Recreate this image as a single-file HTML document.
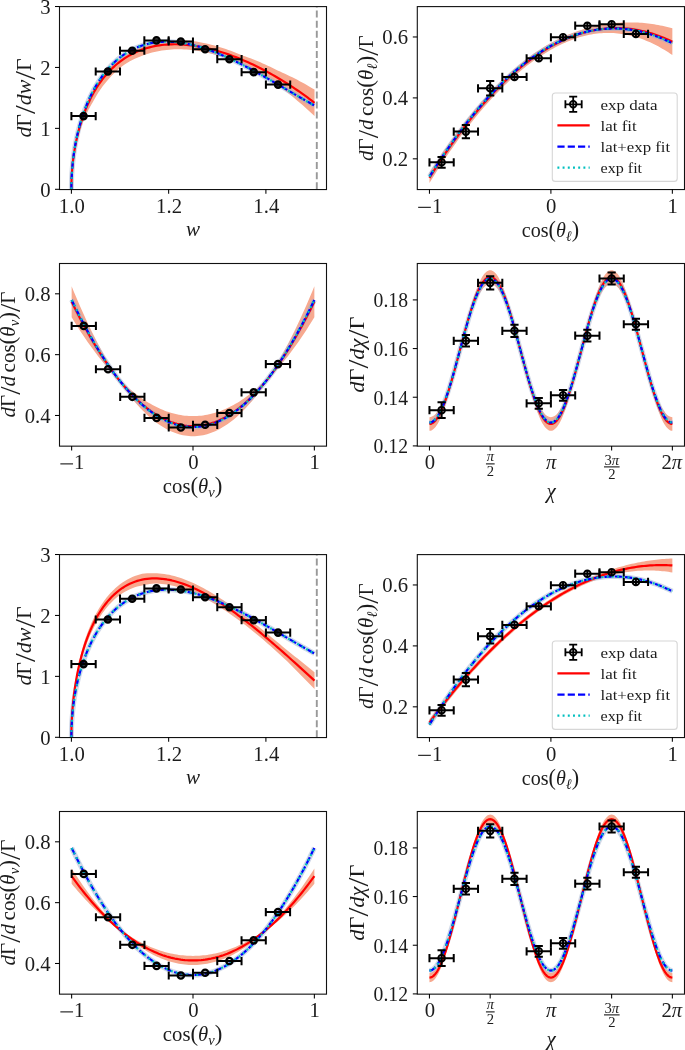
<!DOCTYPE html>
<html><head><meta charset="utf-8"><style>
html,body{margin:0;padding:0;background:#fff;overflow:hidden;width:685px;height:1050px;}
svg{display:block;will-change:transform;}
text{font-family:"Liberation Serif", serif;fill:#1c1c1c;}
</style></head><body>
<svg width="685" height="1050" viewBox="0 0 685 1050" font-family='"Liberation Serif", serif'>
<rect width="685" height="1050" fill="#fff"/>
<defs>
<clipPath id="c0"><rect x="59.5" y="6.5" width="267" height="182.8"/></clipPath>
<clipPath id="c1"><rect x="417.3" y="6.5" width="267.2" height="182.8"/></clipPath>
<clipPath id="c2"><rect x="59.5" y="263.4" width="267" height="182.5"/></clipPath>
<clipPath id="c3"><rect x="417.3" y="263.4" width="267.2" height="182.5"/></clipPath>
<clipPath id="c4"><rect x="59.5" y="554.5" width="267" height="182.8"/></clipPath>
<clipPath id="c5"><rect x="417.3" y="554.5" width="267.2" height="182.8"/></clipPath>
<clipPath id="c6"><rect x="59.5" y="811.4" width="267" height="182.5"/></clipPath>
<clipPath id="c7"><rect x="417.3" y="811.4" width="267.2" height="182.5"/></clipPath>
</defs>
<path d="M71.4,189.3 L71.41,187.33 L71.43,185.37 L71.47,183.42 L71.52,181.5 L71.59,179.59 L71.68,177.69 L71.78,175.82 L71.9,173.96 L72.03,172.12 L72.18,170.3 L72.34,168.5 L72.52,166.72 L72.72,164.95 L72.93,163.21 L73.15,161.49 L73.39,159.79 L73.65,158.11 L73.92,156.45 L74.21,154.81 L74.52,153.2 L74.84,151.61 L75.17,150.04 L75.52,148.49 L75.89,146.97 L76.27,145.47 L76.67,143.69 L77.08,141.91 L77.51,140.15 L77.95,138.41 L78.41,136.67 L78.89,134.96 L79.38,133.25 L79.88,131.56 L80.41,129.89 L80.94,128.23 L81.5,126.58 L82.07,124.95 L82.65,123.34 L83.25,121.75 L83.87,120.17 L84.5,118.61 L85.14,117.06 L85.81,115.54 L86.48,114.03 L87.18,112.54 L87.89,111.07 L88.61,109.62 L89.35,108.18 L90.11,106.77 L90.88,105.38 L91.66,104 L92.47,102.65 L93.29,101.2 L94.12,99.68 L94.97,98.18 L95.83,96.7 L96.71,95.24 L97.61,93.79 L98.52,92.37 L99.45,90.96 L100.39,89.57 L101.35,88.2 L102.32,86.85 L103.31,85.52 L104.32,84.21 L105.34,82.92 L106.37,81.64 L107.43,80.39 L108.49,79.16 L109.58,77.96 L110.68,76.77 L111.79,75.6 L112.92,74.46 L114.06,73.33 L115.23,72.23 L116.4,71.15 L117.59,70.09 L118.8,69.06 L120.02,68.04 L122.49,66.11 L124.95,64.31 L127.41,62.76 L129.87,61.32 L132.34,60 L134.8,58.78 L137.26,57.66 L139.72,56.63 L142.18,55.7 L144.65,54.84 L147.11,54 L149.57,53.24 L152.03,52.56 L154.49,51.95 L156.96,51.41 L159.42,50.93 L161.88,50.52 L164.34,50.17 L166.8,49.89 L169.27,49.66 L171.73,49.48 L174.19,49.36 L176.65,49.3 L179.11,49.28 L181.58,49.31 L184.04,49.4 L186.5,49.52 L188.96,49.7 L191.42,49.92 L193.89,50.2 L196.35,50.58 L198.81,50.99 L201.27,51.44 L203.73,51.93 L206.2,52.46 L208.66,53.03 L211.12,53.63 L213.58,54.27 L216.04,54.95 L218.51,55.66 L220.97,56.4 L223.43,57.18 L225.89,57.99 L228.35,58.83 L230.82,59.7 L233.28,60.61 L235.74,61.54 L238.2,62.51 L240.66,63.51 L243.13,64.66 L245.59,65.93 L248.05,67.22 L250.51,68.54 L252.97,69.89 L255.44,71.27 L257.9,72.68 L260.36,74.12 L262.82,75.59 L265.28,77.08 L267.75,78.61 L270.21,80.16 L272.67,81.74 L275.13,83.35 L277.59,84.98 L280.06,86.81 L282.52,88.7 L284.98,90.62 L287.44,92.57 L289.9,94.55 L292.37,96.56 L294.83,98.59 L297.29,100.66 L299.75,102.75 L302.21,104.87 L304.68,107.02 L307.14,109.21 L309.6,111.42 L312.06,113.66 L314.52,115.93 L314.52,89.61 L312.06,88.13 L309.6,86.68 L307.14,85.25 L304.68,83.86 L302.21,82.5 L299.75,81.17 L297.29,79.86 L294.83,78.59 L292.37,77.34 L289.9,76.13 L287.44,74.94 L284.98,73.78 L282.52,72.65 L280.06,71.55 L277.59,70.44 L275.13,69.19 L272.67,67.98 L270.21,66.79 L267.75,65.64 L265.28,64.51 L262.82,63.41 L260.36,62.33 L257.9,61.29 L255.44,60.28 L252.97,59.29 L250.51,58.34 L248.05,57.41 L245.59,56.51 L243.13,55.64 L240.66,54.73 L238.2,53.72 L235.74,52.73 L233.28,51.78 L230.82,50.86 L228.35,49.97 L225.89,49.12 L223.43,48.29 L220.97,47.5 L218.51,46.74 L216.04,46.02 L213.58,45.33 L211.12,44.68 L208.66,44.06 L206.2,43.48 L203.73,42.93 L201.27,42.43 L198.81,41.96 L196.35,41.53 L193.89,41.14 L191.42,40.85 L188.96,40.64 L186.5,40.47 L184.04,40.34 L181.58,40.26 L179.11,40.23 L176.65,40.25 L174.19,40.32 L171.73,40.44 L169.27,40.62 L166.8,40.85 L164.34,41.14 L161.88,41.5 L159.42,41.91 L156.96,42.39 L154.49,42.93 L152.03,43.55 L149.57,44.23 L147.11,44.99 L144.65,45.84 L142.18,46.68 L139.72,47.6 L137.26,48.61 L134.8,49.72 L132.34,50.92 L129.87,52.23 L127.41,53.65 L124.95,55.19 L122.49,56.79 L120.02,58.53 L118.8,59.44 L117.59,60.38 L116.4,61.34 L115.23,62.33 L114.06,63.34 L112.92,64.37 L111.79,65.43 L110.68,66.5 L109.58,67.6 L108.49,68.72 L107.43,69.87 L106.37,71.04 L105.34,72.22 L104.32,73.43 L103.31,74.66 L102.32,75.92 L101.35,77.19 L100.39,78.48 L99.45,79.79 L98.52,81.13 L97.61,82.48 L96.71,83.85 L95.83,85.25 L94.97,86.66 L94.12,88.09 L93.29,89.54 L92.47,91.05 L91.66,92.62 L90.88,94.22 L90.11,95.83 L89.35,97.46 L88.61,99.1 L87.89,100.76 L87.18,102.43 L86.48,104.12 L85.81,105.82 L85.14,107.53 L84.5,109.26 L83.87,111 L83.25,112.75 L82.65,114.51 L82.07,116.29 L81.5,118.08 L80.94,119.88 L80.41,121.69 L79.88,123.52 L79.38,125.35 L78.89,127.19 L78.41,129.05 L77.95,130.91 L77.51,132.78 L77.08,134.66 L76.67,136.55 L76.27,138.45 L75.89,140.5 L75.52,142.54 L75.17,144.6 L74.84,146.65 L74.52,148.7 L74.21,150.75 L73.92,152.81 L73.65,154.86 L73.39,156.91 L73.15,158.96 L72.93,161.01 L72.72,163.05 L72.52,165.1 L72.34,167.14 L72.18,169.18 L72.03,171.21 L71.9,173.24 L71.78,175.27 L71.68,177.29 L71.59,179.31 L71.52,181.32 L71.47,183.32 L71.43,185.32 L71.41,187.31 L71.4,189.3Z" fill="#f7a98f" stroke="none" clip-path="url(#c0)"/>
<path d="M71.4,189.3 L71.41,187.28 L71.43,185.25 L71.47,183.23 L71.52,181.21 L71.59,179.19 L71.68,177.17 L71.78,175.15 L71.9,173.14 L72.03,171.13 L72.18,169.12 L72.34,167.11 L72.52,165.11 L72.72,163.12 L72.93,161.12 L73.15,159.13 L73.39,157.15 L73.65,155.17 L73.92,153.2 L74.21,151.24 L74.52,149.28 L74.84,147.33 L75.17,145.38 L75.52,143.44 L75.89,141.51 L76.27,139.59 L76.67,137.68 L77.08,135.77 L77.51,133.88 L77.95,131.99 L78.41,130.12 L78.89,128.25 L79.38,126.4 L79.88,124.55 L80.41,122.72 L80.94,120.9 L81.5,119.09 L82.07,117.29 L82.65,115.51 L83.25,113.74 L83.87,111.98 L84.5,110.23 L85.14,108.5 L85.81,106.79 L86.48,105.09 L87.18,103.4 L87.89,101.73 L88.61,100.07 L89.35,98.44 L90.11,96.81 L90.88,95.21 L91.66,93.62 L92.47,92.05 L93.29,90.49 L94.12,88.96 L94.97,87.44 L95.83,85.94 L96.71,84.46 L97.61,83 L98.52,81.56 L99.45,80.14 L100.39,78.74 L101.35,77.37 L102.32,76.01 L103.31,74.67 L104.32,73.36 L105.34,72.07 L106.37,70.8 L107.43,69.55 L108.49,68.33 L109.58,67.13 L110.68,65.95 L111.79,64.8 L112.92,63.67 L114.06,62.57 L115.23,61.49 L116.4,60.44 L117.59,59.41 L118.8,58.41 L120.02,57.43 L122.49,55.58 L124.95,53.88 L127.41,52.32 L129.87,50.88 L132.34,49.58 L134.8,48.39 L137.26,47.31 L139.72,46.34 L142.18,45.47 L144.65,44.7 L147.11,44.03 L149.57,43.45 L152.03,42.95 L154.49,42.54 L156.96,42.22 L159.42,41.96 L161.88,41.79 L164.34,41.69 L166.8,41.65 L169.27,41.69 L171.73,41.79 L174.19,41.96 L176.65,42.18 L179.11,42.47 L181.58,42.81 L184.04,43.2 L186.5,43.65 L188.96,44.16 L191.42,44.71 L193.89,45.31 L196.35,45.95 L198.81,46.65 L201.27,47.38 L203.73,48.16 L206.2,48.97 L208.66,49.83 L211.12,50.72 L213.58,51.65 L216.04,52.62 L218.51,53.61 L220.97,54.64 L223.43,55.7 L225.89,56.79 L228.35,57.91 L230.82,59.05 L233.28,60.22 L235.74,61.42 L238.2,62.64 L240.66,63.88 L243.13,65.14 L245.59,66.41 L248.05,67.71 L250.51,69.03 L252.97,70.36 L255.44,71.7 L257.9,73.06 L260.36,74.44 L262.82,75.82 L265.28,77.21 L267.75,78.62 L270.21,80.03 L272.67,81.45 L275.13,82.87 L277.59,84.3 L280.06,85.73 L282.52,87.17 L284.98,88.61 L287.44,90.04 L289.9,91.48 L292.37,92.91 L294.83,94.34 L297.29,95.77 L299.75,97.19 L302.21,98.61 L304.68,100.02 L307.14,101.42 L309.6,102.81 L312.06,104.19 L314.52,105.56" fill="none" stroke="rgba(160,178,210,0.5)" stroke-width="5.0" clip-path="url(#c0)"/>
<path d="M71.4,189.3 L71.41,187.32 L71.43,185.34 L71.47,183.35 L71.52,181.37 L71.59,179.4 L71.68,177.42 L71.78,175.44 L71.9,173.47 L72.03,171.5 L72.18,169.54 L72.34,167.58 L72.52,165.62 L72.72,163.67 L72.93,161.72 L73.15,159.78 L73.39,157.84 L73.65,155.91 L73.92,153.98 L74.21,152.06 L74.52,150.15 L74.84,148.25 L75.17,146.35 L75.52,144.47 L75.89,142.59 L76.27,140.72 L76.67,138.86 L77.08,137 L77.51,135.16 L77.95,133.33 L78.41,131.51 L78.89,129.7 L79.38,127.9 L79.88,126.11 L80.41,124.34 L80.94,122.58 L81.5,120.83 L82.07,119.09 L82.65,117.36 L83.25,115.65 L83.87,113.96 L84.5,112.28 L85.14,110.61 L85.81,108.95 L86.48,107.32 L87.18,105.69 L87.89,104.09 L88.61,102.5 L89.35,100.92 L90.11,99.36 L90.88,97.82 L91.66,96.3 L92.47,94.79 L93.29,93.3 L94.12,91.83 L94.97,90.38 L95.83,88.95 L96.71,87.53 L97.61,86.13 L98.52,84.76 L99.45,83.4 L100.39,82.06 L101.35,80.74 L102.32,79.45 L103.31,78.17 L104.32,76.91 L105.34,75.68 L106.37,74.46 L107.43,73.27 L108.49,72.1 L109.58,70.95 L110.68,69.82 L111.79,68.71 L112.92,67.63 L114.06,66.57 L115.23,65.53 L116.4,64.51 L117.59,63.52 L118.8,62.55 L120.02,61.6 L122.49,59.8 L124.95,58.13 L127.41,56.59 L129.87,55.17 L132.34,53.85 L134.8,52.64 L137.26,51.53 L139.72,50.52 L142.18,49.59 L144.65,48.75 L147.11,48 L149.57,47.32 L152.03,46.72 L154.49,46.19 L156.96,45.73 L159.42,45.33 L161.88,45 L164.34,44.73 L166.8,44.53 L169.27,44.38 L171.73,44.28 L174.19,44.24 L176.65,44.25 L179.11,44.31 L181.58,44.43 L184.04,44.58 L186.5,44.79 L188.96,45.04 L191.42,45.34 L193.89,45.67 L196.35,46.05 L198.81,46.47 L201.27,46.93 L203.73,47.43 L206.2,47.97 L208.66,48.54 L211.12,49.15 L213.58,49.8 L216.04,50.48 L218.51,51.2 L220.97,51.95 L223.43,52.73 L225.89,53.55 L228.35,54.4 L230.82,55.28 L233.28,56.19 L235.74,57.14 L238.2,58.11 L240.66,59.12 L243.13,60.15 L245.59,61.22 L248.05,62.31 L250.51,63.44 L252.97,64.59 L255.44,65.77 L257.9,66.99 L260.36,68.23 L262.82,69.5 L265.28,70.79 L267.75,72.12 L270.21,73.48 L272.67,74.86 L275.13,76.27 L277.59,77.71 L280.06,79.18 L282.52,80.68 L284.98,82.2 L287.44,83.75 L289.9,85.34 L292.37,86.95 L294.83,88.59 L297.29,90.26 L299.75,91.96 L302.21,93.69 L304.68,95.44 L307.14,97.23 L309.6,99.05 L312.06,100.9 L314.52,102.77" fill="none" stroke="#ff0000" stroke-width="2.2" stroke-linecap="butt" stroke-linejoin="round" clip-path="url(#c0)"/>
<path d="M71.4,189.3 L71.41,187.28 L71.43,185.25 L71.47,183.23 L71.52,181.21 L71.59,179.19 L71.68,177.17 L71.78,175.15 L71.9,173.14 L72.03,171.13 L72.18,169.12 L72.34,167.11 L72.52,165.11 L72.72,163.12 L72.93,161.12 L73.15,159.13 L73.39,157.15 L73.65,155.17 L73.92,153.2 L74.21,151.24 L74.52,149.28 L74.84,147.33 L75.17,145.38 L75.52,143.44 L75.89,141.51 L76.27,139.59 L76.67,137.68 L77.08,135.77 L77.51,133.88 L77.95,131.99 L78.41,130.12 L78.89,128.25 L79.38,126.4 L79.88,124.55 L80.41,122.72 L80.94,120.9 L81.5,119.09 L82.07,117.29 L82.65,115.51 L83.25,113.74 L83.87,111.98 L84.5,110.23 L85.14,108.5 L85.81,106.79 L86.48,105.09 L87.18,103.4 L87.89,101.73 L88.61,100.07 L89.35,98.44 L90.11,96.81 L90.88,95.21 L91.66,93.62 L92.47,92.05 L93.29,90.49 L94.12,88.96 L94.97,87.44 L95.83,85.94 L96.71,84.46 L97.61,83 L98.52,81.56 L99.45,80.14 L100.39,78.74 L101.35,77.37 L102.32,76.01 L103.31,74.67 L104.32,73.36 L105.34,72.07 L106.37,70.8 L107.43,69.55 L108.49,68.33 L109.58,67.13 L110.68,65.95 L111.79,64.8 L112.92,63.67 L114.06,62.57 L115.23,61.49 L116.4,60.44 L117.59,59.41 L118.8,58.41 L120.02,57.43 L122.49,55.58 L124.95,53.88 L127.41,52.32 L129.87,50.88 L132.34,49.58 L134.8,48.39 L137.26,47.31 L139.72,46.34 L142.18,45.47 L144.65,44.7 L147.11,44.03 L149.57,43.45 L152.03,42.95 L154.49,42.54 L156.96,42.22 L159.42,41.96 L161.88,41.79 L164.34,41.69 L166.8,41.65 L169.27,41.69 L171.73,41.79 L174.19,41.96 L176.65,42.18 L179.11,42.47 L181.58,42.81 L184.04,43.2 L186.5,43.65 L188.96,44.16 L191.42,44.71 L193.89,45.31 L196.35,45.95 L198.81,46.65 L201.27,47.38 L203.73,48.16 L206.2,48.97 L208.66,49.83 L211.12,50.72 L213.58,51.65 L216.04,52.62 L218.51,53.61 L220.97,54.64 L223.43,55.7 L225.89,56.79 L228.35,57.91 L230.82,59.05 L233.28,60.22 L235.74,61.42 L238.2,62.64 L240.66,63.88 L243.13,65.14 L245.59,66.41 L248.05,67.71 L250.51,69.03 L252.97,70.36 L255.44,71.7 L257.9,73.06 L260.36,74.44 L262.82,75.82 L265.28,77.21 L267.75,78.62 L270.21,80.03 L272.67,81.45 L275.13,82.87 L277.59,84.3 L280.06,85.73 L282.52,87.17 L284.98,88.61 L287.44,90.04 L289.9,91.48 L292.37,92.91 L294.83,94.34 L297.29,95.77 L299.75,97.19 L302.21,98.61 L304.68,100.02 L307.14,101.42 L309.6,102.81 L312.06,104.19 L314.52,105.56" fill="none" stroke="#0000ff" stroke-width="2.2" stroke-dasharray="7.2,3.1" stroke-linecap="butt" stroke-linejoin="round" clip-path="url(#c0)"/>
<path d="M71.4,189.3 L71.41,187.28 L71.43,185.25 L71.47,183.23 L71.52,181.21 L71.59,179.19 L71.68,177.17 L71.78,175.15 L71.9,173.14 L72.03,171.13 L72.18,169.12 L72.34,167.11 L72.52,165.11 L72.72,163.12 L72.93,161.12 L73.15,159.13 L73.39,157.15 L73.65,155.17 L73.92,153.2 L74.21,151.24 L74.52,149.28 L74.84,147.33 L75.17,145.38 L75.52,143.44 L75.89,141.51 L76.27,139.59 L76.67,137.68 L77.08,135.77 L77.51,133.88 L77.95,131.99 L78.41,130.12 L78.89,128.25 L79.38,126.4 L79.88,124.55 L80.41,122.72 L80.94,120.9 L81.5,119.09 L82.07,117.29 L82.65,115.51 L83.25,113.74 L83.87,111.98 L84.5,110.23 L85.14,108.5 L85.81,106.79 L86.48,105.09 L87.18,103.4 L87.89,101.73 L88.61,100.07 L89.35,98.44 L90.11,96.81 L90.88,95.21 L91.66,93.62 L92.47,92.05 L93.29,90.49 L94.12,88.96 L94.97,87.44 L95.83,85.94 L96.71,84.46 L97.61,83 L98.52,81.56 L99.45,80.14 L100.39,78.74 L101.35,77.37 L102.32,76.01 L103.31,74.67 L104.32,73.36 L105.34,72.07 L106.37,70.8 L107.43,69.55 L108.49,68.33 L109.58,67.13 L110.68,65.95 L111.79,64.8 L112.92,63.67 L114.06,62.57 L115.23,61.49 L116.4,60.44 L117.59,59.41 L118.8,58.41 L120.02,57.43 L122.49,55.58 L124.95,53.88 L127.41,52.32 L129.87,50.88 L132.34,49.58 L134.8,48.39 L137.26,47.31 L139.72,46.34 L142.18,45.47 L144.65,44.7 L147.11,44.03 L149.57,43.45 L152.03,42.95 L154.49,42.54 L156.96,42.22 L159.42,41.96 L161.88,41.79 L164.34,41.69 L166.8,41.65 L169.27,41.69 L171.73,41.79 L174.19,41.96 L176.65,42.18 L179.11,42.47 L181.58,42.81 L184.04,43.2 L186.5,43.65 L188.96,44.16 L191.42,44.71 L193.89,45.31 L196.35,45.95 L198.81,46.65 L201.27,47.38 L203.73,48.16 L206.2,48.97 L208.66,49.83 L211.12,50.72 L213.58,51.65 L216.04,52.62 L218.51,53.61 L220.97,54.64 L223.43,55.7 L225.89,56.79 L228.35,57.91 L230.82,59.05 L233.28,60.22 L235.74,61.42 L238.2,62.64 L240.66,63.88 L243.13,65.14 L245.59,66.41 L248.05,67.71 L250.51,69.03 L252.97,70.36 L255.44,71.7 L257.9,73.06 L260.36,74.44 L262.82,75.82 L265.28,77.21 L267.75,78.62 L270.21,80.03 L272.67,81.45 L275.13,82.87 L277.59,84.3 L280.06,85.73 L282.52,87.17 L284.98,88.61 L287.44,90.04 L289.9,91.48 L292.37,92.91 L294.83,94.34 L297.29,95.77 L299.75,97.19 L302.21,98.61 L304.68,100.02 L307.14,101.42 L309.6,102.81 L312.06,104.19 L314.52,105.56" fill="none" stroke="#00bfbf" stroke-width="2.2" stroke-dasharray="1.95,3.25" stroke-linecap="butt" stroke-linejoin="round" clip-path="url(#c0)"/>
<line x1="316.8" y1="189.3" x2="316.8" y2="6.5" stroke="#999" stroke-width="1.9" stroke-dasharray="7,3.1"/>
<path d="M71.4,116.12H95.71M71.4,112.02V120.22M95.71,112.02V120.22" stroke="#000" stroke-width="2.0" fill="none"/><circle cx="83.56" cy="116.12" r="3.2" fill="rgba(0,0,0,0.72)" stroke="#000" stroke-width="2.2"/>
<path d="M95.71,71.52H120.02M95.71,67.42V75.62M120.02,67.42V75.62" stroke="#000" stroke-width="2.0" fill="none"/><circle cx="107.87" cy="71.52" r="3.2" fill="rgba(0,0,0,0.72)" stroke="#000" stroke-width="2.2"/>
<path d="M120.02,50.68H144.34M120.02,46.58V54.78M144.34,46.58V54.78" stroke="#000" stroke-width="2.0" fill="none"/><circle cx="132.18" cy="50.68" r="3.2" fill="rgba(0,0,0,0.72)" stroke="#000" stroke-width="2.2"/>
<path d="M144.34,40.39H168.65M144.34,36.29V44.49M168.65,36.29V44.49" stroke="#000" stroke-width="2.0" fill="none"/><circle cx="156.49" cy="40.39" r="3.2" fill="rgba(0,0,0,0.72)" stroke="#000" stroke-width="2.2"/>
<path d="M168.65,41.48H192.96M168.65,37.38V45.58M192.96,37.38V45.58" stroke="#000" stroke-width="2.0" fill="none"/><circle cx="180.81" cy="41.48" r="3.2" fill="rgba(0,0,0,0.72)" stroke="#000" stroke-width="2.2"/>
<path d="M192.96,49.22H217.27M192.96,45.12V53.32M217.27,45.12V53.32" stroke="#000" stroke-width="2.0" fill="none"/><circle cx="205.12" cy="49.22" r="3.2" fill="rgba(0,0,0,0.72)" stroke="#000" stroke-width="2.2"/>
<path d="M217.27,59.21H241.59M217.27,55.11V63.31M241.59,55.11V63.31" stroke="#000" stroke-width="2.0" fill="none"/><circle cx="229.43" cy="59.21" r="3.2" fill="rgba(0,0,0,0.72)" stroke="#000" stroke-width="2.2"/>
<path d="M241.59,72.13H265.9M241.59,68.03V76.23M265.9,68.03V76.23" stroke="#000" stroke-width="2.0" fill="none"/><circle cx="253.74" cy="72.13" r="3.2" fill="rgba(0,0,0,0.72)" stroke="#000" stroke-width="2.2"/>
<path d="M265.9,84.62H290.21M265.9,80.52V88.72M290.21,80.52V88.72" stroke="#000" stroke-width="2.0" fill="none"/><circle cx="278.06" cy="84.62" r="3.2" fill="rgba(0,0,0,0.72)" stroke="#000" stroke-width="2.2"/>
<path d="M429.45,182.99 L431.47,179.71 L433.5,176.47 L435.52,173.27 L437.55,170.1 L439.57,166.96 L441.59,163.86 L443.62,160.8 L445.64,157.77 L447.67,154.78 L449.69,151.82 L451.72,148.91 L453.74,146.02 L455.76,143.17 L457.79,140.36 L459.81,137.59 L461.84,134.85 L463.86,132.14 L465.88,129.47 L467.91,126.84 L469.93,124.25 L471.96,121.68 L473.98,119.16 L476.01,116.67 L478.03,114.22 L480.05,111.8 L482.08,109.42 L484.1,107.07 L486.13,104.76 L488.15,102.49 L490.17,100.25 L492.2,98.05 L494.22,95.89 L496.25,93.76 L498.27,91.66 L500.3,89.6 L502.32,87.58 L504.34,85.6 L506.37,83.64 L508.39,81.73 L510.42,79.85 L512.44,78.01 L514.46,76.2 L516.49,74.43 L518.51,72.7 L520.54,71 L522.56,69.33 L524.59,67.7 L526.61,66.11 L528.63,64.56 L530.66,63.04 L532.68,61.55 L534.71,60.11 L536.73,58.69 L538.75,57.32 L540.78,55.98 L542.8,54.67 L544.83,53.4 L546.85,52.17 L548.88,50.97 L550.9,49.81 L552.92,48.69 L554.95,47.6 L556.97,46.54 L559,45.53 L561.02,44.54 L563.04,43.6 L565.07,42.69 L567.09,41.82 L569.12,40.98 L571.14,40.18 L573.17,39.41 L575.19,38.68 L577.21,37.99 L579.24,37.34 L581.26,36.74 L583.29,36.18 L585.31,35.66 L587.34,35.19 L589.36,34.77 L591.38,34.38 L593.41,34.04 L595.43,33.75 L597.46,33.5 L599.48,33.29 L601.5,33.13 L603.53,33.01 L605.55,32.93 L607.58,32.9 L609.6,32.91 L611.62,32.97 L613.65,33.07 L615.67,33.21 L617.7,33.4 L619.72,33.63 L621.75,33.91 L623.77,34.22 L625.79,34.59 L627.82,35 L629.84,35.45 L631.87,35.94 L633.89,36.48 L635.91,37.06 L637.94,37.69 L639.96,38.36 L641.99,39.08 L644.01,39.83 L646.04,40.64 L648.06,41.48 L650.08,42.37 L652.11,43.31 L654.13,44.28 L656.16,45.31 L658.18,46.37 L660.2,47.48 L662.23,48.64 L664.25,49.83 L666.28,51.07 L668.3,52.36 L670.33,53.69 L672.35,55.06 L672.35,28.25 L670.33,27.71 L668.3,27.19 L666.28,26.7 L664.25,26.23 L662.23,25.8 L660.2,25.38 L658.18,25 L656.16,24.64 L654.13,24.31 L652.11,24 L650.08,23.72 L648.06,23.47 L646.04,23.24 L644.01,23.04 L641.99,22.87 L639.96,22.72 L637.94,22.6 L635.91,22.51 L633.89,22.44 L631.87,22.4 L629.84,22.38 L627.82,22.39 L625.79,22.43 L623.77,22.5 L621.75,22.59 L619.72,22.7 L617.7,22.85 L615.67,23.02 L613.65,23.21 L611.62,23.44 L609.6,23.69 L607.58,23.96 L605.55,24.26 L603.53,24.59 L601.5,24.95 L599.48,25.33 L597.46,25.74 L595.43,26.17 L593.41,26.63 L591.38,27.12 L589.36,27.64 L587.34,28.18 L585.31,28.74 L583.29,29.34 L581.26,29.96 L579.24,30.6 L577.21,31.28 L575.19,31.98 L573.17,32.71 L571.14,33.47 L569.12,34.27 L567.09,35.1 L565.07,35.97 L563.04,36.87 L561.02,37.81 L559,38.78 L556.97,39.78 L554.95,40.82 L552.92,41.9 L550.9,43.01 L548.88,44.15 L546.85,45.33 L544.83,46.54 L542.8,47.79 L540.78,49.07 L538.75,50.39 L536.73,51.74 L534.71,53.12 L532.68,54.54 L530.66,55.99 L528.63,57.48 L526.61,59 L524.59,60.56 L522.56,62.15 L520.54,63.78 L518.51,65.44 L516.49,67.13 L514.46,68.86 L512.44,70.63 L510.42,72.43 L508.39,74.26 L506.37,76.13 L504.34,78.03 L502.32,79.96 L500.3,81.94 L498.27,83.94 L496.25,85.98 L494.22,88.06 L492.2,90.16 L490.17,92.31 L488.15,94.48 L486.13,96.7 L484.1,98.94 L482.08,101.22 L480.05,103.54 L478.03,105.89 L476.01,108.27 L473.98,110.69 L471.96,113.15 L469.93,115.64 L467.91,118.16 L465.88,120.71 L463.86,123.31 L461.84,125.93 L459.81,128.59 L457.79,131.29 L455.76,134.02 L453.74,136.78 L451.72,139.58 L449.69,142.41 L447.67,145.28 L445.64,148.18 L443.62,151.12 L441.59,154.09 L439.57,157.09 L437.55,160.13 L435.52,163.21 L433.5,166.31 L431.47,169.46 L429.45,172.63Z" fill="#f7a98f" stroke="none" clip-path="url(#c1)"/>
<path d="M429.45,176.6 L431.47,173.36 L433.5,170.17 L435.52,167.01 L437.55,163.88 L439.57,160.79 L441.59,157.74 L443.62,154.72 L445.64,151.74 L447.67,148.8 L449.69,145.88 L451.72,143.01 L453.74,140.17 L455.76,137.37 L457.79,134.6 L459.81,131.87 L461.84,129.17 L463.86,126.51 L465.88,123.88 L467.91,121.29 L469.93,118.74 L471.96,116.22 L473.98,113.74 L476.01,111.29 L478.03,108.88 L480.05,106.5 L482.08,104.16 L484.1,101.86 L486.13,99.59 L488.15,97.35 L490.17,95.16 L492.2,92.99 L494.22,90.87 L496.25,88.78 L498.27,86.72 L500.3,84.7 L502.32,82.72 L504.34,80.77 L506.37,78.86 L508.39,76.98 L510.42,75.14 L512.44,73.33 L514.46,71.56 L516.49,69.83 L518.51,68.13 L520.54,66.47 L522.56,64.84 L524.59,63.25 L526.61,61.69 L528.63,60.17 L530.66,58.69 L532.68,57.24 L534.71,55.83 L536.73,54.45 L538.75,53.11 L540.78,51.8 L542.8,50.53 L544.83,49.29 L546.85,48.09 L548.88,46.93 L550.9,45.8 L552.92,44.71 L554.95,43.65 L556.97,42.63 L559,41.64 L561.02,40.69 L563.04,39.78 L565.07,38.9 L567.09,38.06 L569.12,37.25 L571.14,36.48 L573.17,35.74 L575.19,35.04 L577.21,34.38 L579.24,33.75 L581.26,33.15 L583.29,32.59 L585.31,32.07 L587.34,31.59 L589.36,31.13 L591.38,30.72 L593.41,30.34 L595.43,30 L597.46,29.69 L599.48,29.41 L601.5,29.18 L603.53,28.98 L605.55,28.81 L607.58,28.68 L609.6,28.58 L611.62,28.53 L613.65,28.5 L615.67,28.51 L617.7,28.56 L619.72,28.65 L621.75,28.77 L623.77,28.92 L625.79,29.11 L627.82,29.34 L629.84,29.6 L631.87,29.9 L633.89,30.23 L635.91,30.6 L637.94,31 L639.96,31.44 L641.99,31.92 L644.01,32.43 L646.04,32.98 L648.06,33.56 L650.08,34.18 L652.11,34.83 L654.13,35.52 L656.16,36.25 L658.18,37.01 L660.2,37.8 L662.23,38.64 L664.25,39.5 L666.28,40.41 L668.3,41.35 L670.33,42.32 L672.35,43.33" fill="none" stroke="rgba(160,178,210,0.5)" stroke-width="5.0" clip-path="url(#c1)"/>
<path d="M429.45,177.81 L431.47,174.59 L433.5,171.39 L435.52,168.24 L437.55,165.11 L439.57,162.03 L441.59,158.97 L443.62,155.96 L445.64,152.98 L447.67,150.03 L449.69,147.12 L451.72,144.24 L453.74,141.4 L455.76,138.6 L457.79,135.82 L459.81,133.09 L461.84,130.39 L463.86,127.72 L465.88,125.09 L467.91,122.5 L469.93,119.94 L471.96,117.42 L473.98,114.93 L476.01,112.47 L478.03,110.05 L480.05,107.67 L482.08,105.32 L484.1,103.01 L486.13,100.73 L488.15,98.49 L490.17,96.28 L492.2,94.11 L494.22,91.97 L496.25,89.87 L498.27,87.8 L500.3,85.77 L502.32,83.77 L504.34,81.81 L506.37,79.89 L508.39,77.99 L510.42,76.14 L512.44,74.32 L514.46,72.53 L516.49,70.78 L518.51,69.07 L520.54,67.39 L522.56,65.74 L524.59,64.13 L526.61,62.56 L528.63,61.02 L530.66,59.52 L532.68,58.05 L534.71,56.61 L536.73,55.21 L538.75,53.85 L540.78,52.52 L542.8,51.23 L544.83,49.97 L546.85,48.75 L548.88,47.56 L550.9,46.41 L552.92,45.29 L554.95,44.21 L556.97,43.16 L559,42.15 L561.02,41.18 L563.04,40.24 L565.07,39.33 L567.09,38.46 L569.12,37.62 L571.14,36.82 L573.17,36.06 L575.19,35.33 L577.21,34.63 L579.24,33.97 L581.26,33.35 L583.29,32.76 L585.31,32.2 L587.34,31.69 L589.36,31.2 L591.38,30.75 L593.41,30.34 L595.43,29.96 L597.46,29.62 L599.48,29.31 L601.5,29.04 L603.53,28.8 L605.55,28.6 L607.58,28.43 L609.6,28.3 L611.62,28.2 L613.65,28.14 L615.67,28.11 L617.7,28.12 L619.72,28.17 L621.75,28.25 L623.77,28.36 L625.79,28.51 L627.82,28.69 L629.84,28.91 L631.87,29.17 L633.89,29.46 L635.91,29.78 L637.94,30.14 L639.96,30.54 L641.99,30.97 L644.01,31.44 L646.04,31.94 L648.06,32.48 L650.08,33.05 L652.11,33.65 L654.13,34.3 L656.16,34.97 L658.18,35.69 L660.2,36.43 L662.23,37.22 L664.25,38.03 L666.28,38.89 L668.3,39.77 L670.33,40.7 L672.35,41.66" fill="none" stroke="#ff0000" stroke-width="2.2" stroke-linecap="butt" stroke-linejoin="round" clip-path="url(#c1)"/>
<path d="M429.45,176.6 L431.47,173.36 L433.5,170.17 L435.52,167.01 L437.55,163.88 L439.57,160.79 L441.59,157.74 L443.62,154.72 L445.64,151.74 L447.67,148.8 L449.69,145.88 L451.72,143.01 L453.74,140.17 L455.76,137.37 L457.79,134.6 L459.81,131.87 L461.84,129.17 L463.86,126.51 L465.88,123.88 L467.91,121.29 L469.93,118.74 L471.96,116.22 L473.98,113.74 L476.01,111.29 L478.03,108.88 L480.05,106.5 L482.08,104.16 L484.1,101.86 L486.13,99.59 L488.15,97.35 L490.17,95.16 L492.2,92.99 L494.22,90.87 L496.25,88.78 L498.27,86.72 L500.3,84.7 L502.32,82.72 L504.34,80.77 L506.37,78.86 L508.39,76.98 L510.42,75.14 L512.44,73.33 L514.46,71.56 L516.49,69.83 L518.51,68.13 L520.54,66.47 L522.56,64.84 L524.59,63.25 L526.61,61.69 L528.63,60.17 L530.66,58.69 L532.68,57.24 L534.71,55.83 L536.73,54.45 L538.75,53.11 L540.78,51.8 L542.8,50.53 L544.83,49.29 L546.85,48.09 L548.88,46.93 L550.9,45.8 L552.92,44.71 L554.95,43.65 L556.97,42.63 L559,41.64 L561.02,40.69 L563.04,39.78 L565.07,38.9 L567.09,38.06 L569.12,37.25 L571.14,36.48 L573.17,35.74 L575.19,35.04 L577.21,34.38 L579.24,33.75 L581.26,33.15 L583.29,32.59 L585.31,32.07 L587.34,31.59 L589.36,31.13 L591.38,30.72 L593.41,30.34 L595.43,30 L597.46,29.69 L599.48,29.41 L601.5,29.18 L603.53,28.98 L605.55,28.81 L607.58,28.68 L609.6,28.58 L611.62,28.53 L613.65,28.5 L615.67,28.51 L617.7,28.56 L619.72,28.65 L621.75,28.77 L623.77,28.92 L625.79,29.11 L627.82,29.34 L629.84,29.6 L631.87,29.9 L633.89,30.23 L635.91,30.6 L637.94,31 L639.96,31.44 L641.99,31.92 L644.01,32.43 L646.04,32.98 L648.06,33.56 L650.08,34.18 L652.11,34.83 L654.13,35.52 L656.16,36.25 L658.18,37.01 L660.2,37.8 L662.23,38.64 L664.25,39.5 L666.28,40.41 L668.3,41.35 L670.33,42.32 L672.35,43.33" fill="none" stroke="#0000ff" stroke-width="2.2" stroke-dasharray="7.2,3.1" stroke-linecap="butt" stroke-linejoin="round" clip-path="url(#c1)"/>
<path d="M429.45,176.6 L431.47,173.36 L433.5,170.17 L435.52,167.01 L437.55,163.88 L439.57,160.79 L441.59,157.74 L443.62,154.72 L445.64,151.74 L447.67,148.8 L449.69,145.88 L451.72,143.01 L453.74,140.17 L455.76,137.37 L457.79,134.6 L459.81,131.87 L461.84,129.17 L463.86,126.51 L465.88,123.88 L467.91,121.29 L469.93,118.74 L471.96,116.22 L473.98,113.74 L476.01,111.29 L478.03,108.88 L480.05,106.5 L482.08,104.16 L484.1,101.86 L486.13,99.59 L488.15,97.35 L490.17,95.16 L492.2,92.99 L494.22,90.87 L496.25,88.78 L498.27,86.72 L500.3,84.7 L502.32,82.72 L504.34,80.77 L506.37,78.86 L508.39,76.98 L510.42,75.14 L512.44,73.33 L514.46,71.56 L516.49,69.83 L518.51,68.13 L520.54,66.47 L522.56,64.84 L524.59,63.25 L526.61,61.69 L528.63,60.17 L530.66,58.69 L532.68,57.24 L534.71,55.83 L536.73,54.45 L538.75,53.11 L540.78,51.8 L542.8,50.53 L544.83,49.29 L546.85,48.09 L548.88,46.93 L550.9,45.8 L552.92,44.71 L554.95,43.65 L556.97,42.63 L559,41.64 L561.02,40.69 L563.04,39.78 L565.07,38.9 L567.09,38.06 L569.12,37.25 L571.14,36.48 L573.17,35.74 L575.19,35.04 L577.21,34.38 L579.24,33.75 L581.26,33.15 L583.29,32.59 L585.31,32.07 L587.34,31.59 L589.36,31.13 L591.38,30.72 L593.41,30.34 L595.43,30 L597.46,29.69 L599.48,29.41 L601.5,29.18 L603.53,28.98 L605.55,28.81 L607.58,28.68 L609.6,28.58 L611.62,28.53 L613.65,28.5 L615.67,28.51 L617.7,28.56 L619.72,28.65 L621.75,28.77 L623.77,28.92 L625.79,29.11 L627.82,29.34 L629.84,29.6 L631.87,29.9 L633.89,30.23 L635.91,30.6 L637.94,31 L639.96,31.44 L641.99,31.92 L644.01,32.43 L646.04,32.98 L648.06,33.56 L650.08,34.18 L652.11,34.83 L654.13,35.52 L656.16,36.25 L658.18,37.01 L660.2,37.8 L662.23,38.64 L664.25,39.5 L666.28,40.41 L668.3,41.35 L670.33,42.32 L672.35,43.33" fill="none" stroke="#00bfbf" stroke-width="2.2" stroke-dasharray="1.95,3.25" stroke-linecap="butt" stroke-linejoin="round" clip-path="url(#c1)"/>
<path d="M429.45,162.31H453.74M429.45,158.21V166.41M453.74,158.21V166.41M441.59,167.64V156.97M437.49,167.64H445.69M437.49,156.97H445.69" stroke="#000" stroke-width="2.0" fill="none"/><circle cx="441.59" cy="162.31" r="3.3" fill="none" stroke="#000" stroke-width="2.0"/>
<path d="M453.74,131.6H478.03M453.74,127.5V135.7M478.03,127.5V135.7M465.88,138.3V124.89M461.78,138.3H469.99M461.78,124.89H469.99" stroke="#000" stroke-width="2.0" fill="none"/><circle cx="465.88" cy="131.6" r="3.3" fill="none" stroke="#000" stroke-width="2.0"/>
<path d="M478.03,88.3H502.32M478.03,84.2V92.4M502.32,84.2V92.4M490.17,95.61V80.99M486.07,95.61H494.27M486.07,80.99H494.27" stroke="#000" stroke-width="2.0" fill="none"/><circle cx="490.17" cy="88.3" r="3.3" fill="none" stroke="#000" stroke-width="2.0"/>
<path d="M502.32,76.88H526.61M502.32,72.78V80.98M526.61,72.78V80.98M514.47,73.58V80.18" stroke="#000" stroke-width="2.0" fill="none"/><circle cx="514.47" cy="76.88" r="3.3" fill="none" stroke="#000" stroke-width="2.0"/>
<path d="M526.61,58.29H550.9M526.61,54.19V62.39M550.9,54.19V62.39M538.75,54.99V61.59" stroke="#000" stroke-width="2.0" fill="none"/><circle cx="538.75" cy="58.29" r="3.3" fill="none" stroke="#000" stroke-width="2.0"/>
<path d="M550.9,37.27H575.19M550.9,33.17V41.37M575.19,33.17V41.37M563.04,33.97V40.57" stroke="#000" stroke-width="2.0" fill="none"/><circle cx="563.04" cy="37.27" r="3.3" fill="none" stroke="#000" stroke-width="2.0"/>
<path d="M575.19,25.69H599.48M575.19,21.59V29.79M599.48,21.59V29.79M587.34,22.39V28.99" stroke="#000" stroke-width="2.0" fill="none"/><circle cx="587.34" cy="25.69" r="3.3" fill="none" stroke="#000" stroke-width="2.0"/>
<path d="M599.48,24.29H623.77M599.48,20.19V28.39M623.77,20.19V28.39M611.62,20.99V27.59" stroke="#000" stroke-width="2.0" fill="none"/><circle cx="611.62" cy="24.29" r="3.3" fill="none" stroke="#000" stroke-width="2.0"/>
<path d="M623.77,33.92H648.06M623.77,29.82V38.02M648.06,29.82V38.02M635.91,30.62V37.22" stroke="#000" stroke-width="2.0" fill="none"/><circle cx="635.91" cy="33.92" r="3.3" fill="none" stroke="#000" stroke-width="2.0"/>
<path d="M71.64,317.24 L73.66,320.54 L75.69,323.8 L77.71,326.99 L79.73,330.13 L81.75,333.22 L83.78,336.25 L85.8,339.22 L87.82,342.14 L89.84,345.01 L91.87,347.81 L93.89,350.57 L95.91,353.26 L97.93,355.9 L99.96,358.49 L101.98,361.02 L104,363.49 L106.03,365.91 L108.05,368.27 L110.07,370.58 L112.09,372.83 L114.12,375.03 L116.14,377.17 L118.16,379.6 L120.18,382.62 L122.21,385.55 L124.23,388.4 L126.25,391.17 L128.27,393.86 L130.3,396.46 L132.32,398.98 L134.34,401.42 L136.37,403.77 L138.39,406.05 L140.41,408.24 L142.43,410.34 L144.46,412.37 L146.48,414.31 L148.5,416.17 L150.52,417.95 L152.55,419.64 L154.57,421.25 L156.59,422.78 L158.61,424.23 L160.64,425.59 L162.66,426.87 L164.68,428.07 L166.71,429.18 L168.73,430.22 L170.75,431.17 L172.77,432.03 L174.8,432.82 L176.82,433.52 L178.84,434.14 L180.86,434.68 L182.89,435.13 L184.91,435.51 L186.93,435.79 L188.95,436 L190.98,436.13 L193,436.17 L195.02,436.13 L197.05,436 L199.07,435.79 L201.09,435.51 L203.11,435.13 L205.14,434.68 L207.16,434.14 L209.18,433.52 L211.2,432.82 L213.23,432.03 L215.25,431.17 L217.27,430.22 L219.29,429.18 L221.32,428.07 L223.34,426.87 L225.36,425.59 L227.39,424.23 L229.41,422.78 L231.43,421.25 L233.45,419.64 L235.48,417.95 L237.5,416.17 L239.52,414.31 L241.54,412.37 L243.57,410.34 L245.59,408.24 L247.61,406.05 L249.63,403.77 L251.66,401.42 L253.68,398.98 L255.7,396.46 L257.73,393.86 L259.75,391.17 L261.77,388.4 L263.79,385.55 L265.82,382.62 L267.84,379.6 L269.86,377.17 L271.88,375.03 L273.91,372.83 L275.93,370.58 L277.95,368.27 L279.97,365.91 L282,363.49 L284.02,361.02 L286.04,358.49 L288.07,355.9 L290.09,353.26 L292.11,350.57 L294.13,347.81 L296.16,345.01 L298.18,342.14 L300.2,339.22 L302.22,336.25 L304.25,333.22 L306.27,330.13 L308.29,326.99 L310.31,323.8 L312.34,320.54 L314.36,317.24 L314.36,286.21 L312.34,291.13 L310.31,295.96 L308.29,300.71 L306.27,305.38 L304.25,309.97 L302.22,314.47 L300.2,318.89 L298.18,323.23 L296.16,327.49 L294.13,331.66 L292.11,335.75 L290.09,339.76 L288.07,343.68 L286.04,347.52 L284.02,351.28 L282,354.96 L279.97,358.56 L277.95,362.07 L275.93,365.5 L273.91,368.84 L271.88,372.11 L269.86,375.29 L267.84,378.04 L265.82,380.07 L263.79,382.04 L261.77,383.96 L259.75,385.82 L257.73,387.63 L255.7,389.38 L253.68,391.07 L251.66,392.71 L249.63,394.3 L247.61,395.83 L245.59,397.3 L243.57,398.72 L241.54,400.08 L239.52,401.39 L237.5,402.64 L235.48,403.83 L233.45,404.97 L231.43,406.06 L229.41,407.08 L227.39,408.06 L225.36,408.98 L223.34,409.84 L221.32,410.64 L219.29,411.39 L217.27,412.09 L215.25,412.73 L213.23,413.31 L211.2,413.84 L209.18,414.31 L207.16,414.73 L205.14,415.09 L203.11,415.4 L201.09,415.65 L199.07,415.84 L197.05,415.98 L195.02,416.06 L193,416.09 L190.98,416.06 L188.95,415.98 L186.93,415.84 L184.91,415.65 L182.89,415.4 L180.86,415.09 L178.84,414.73 L176.82,414.31 L174.8,413.84 L172.77,413.31 L170.75,412.73 L168.73,412.09 L166.71,411.39 L164.68,410.64 L162.66,409.84 L160.64,408.98 L158.61,408.06 L156.59,407.08 L154.57,406.06 L152.55,404.97 L150.52,403.83 L148.5,402.64 L146.48,401.39 L144.46,400.08 L142.43,398.72 L140.41,397.3 L138.39,395.83 L136.37,394.3 L134.34,392.71 L132.32,391.07 L130.3,389.38 L128.27,387.63 L126.25,385.82 L124.23,383.96 L122.21,382.04 L120.18,380.07 L118.16,378.04 L116.14,375.29 L114.12,372.11 L112.09,368.84 L110.07,365.5 L108.05,362.07 L106.03,358.56 L104,354.96 L101.98,351.28 L99.96,347.52 L97.93,343.68 L95.91,339.76 L93.89,335.75 L91.87,331.66 L89.84,327.49 L87.82,323.23 L85.8,318.89 L83.78,314.47 L81.75,309.97 L79.73,305.38 L77.71,300.71 L75.69,295.96 L73.66,291.13 L71.64,286.21Z" fill="#f7a98f" stroke="none" clip-path="url(#c2)"/>
<path d="M71.64,299.9 L73.66,304.1 L75.69,308.23 L77.71,312.29 L79.73,316.29 L81.75,320.21 L83.78,324.06 L85.8,327.83 L87.82,331.54 L89.84,335.18 L91.87,338.75 L93.89,342.24 L95.91,345.67 L97.93,349.03 L99.96,352.31 L101.98,355.52 L104,358.67 L106.03,361.74 L108.05,364.74 L110.07,367.67 L112.09,370.53 L114.12,373.32 L116.14,376.04 L118.16,378.69 L120.18,381.27 L122.21,383.78 L124.23,386.21 L126.25,388.58 L128.27,390.88 L130.3,393.1 L132.32,395.26 L134.34,397.34 L136.37,399.35 L138.39,401.29 L140.41,403.17 L142.43,404.97 L144.46,406.7 L146.48,408.36 L148.5,409.95 L150.52,411.47 L152.55,412.91 L154.57,414.29 L156.59,415.6 L158.61,416.83 L160.64,418 L162.66,419.1 L164.68,420.12 L166.71,421.07 L168.73,421.96 L170.75,422.77 L172.77,423.51 L174.8,424.18 L176.82,424.78 L178.84,425.31 L180.86,425.77 L182.89,426.16 L184.91,426.48 L186.93,426.72 L188.95,426.9 L190.98,427.01 L193,427.04 L195.02,427.01 L197.05,426.9 L199.07,426.72 L201.09,426.48 L203.11,426.16 L205.14,425.77 L207.16,425.31 L209.18,424.78 L211.2,424.18 L213.23,423.51 L215.25,422.77 L217.27,421.96 L219.29,421.07 L221.32,420.12 L223.34,419.1 L225.36,418 L227.39,416.83 L229.41,415.6 L231.43,414.29 L233.45,412.91 L235.48,411.47 L237.5,409.95 L239.52,408.36 L241.54,406.7 L243.57,404.97 L245.59,403.17 L247.61,401.29 L249.63,399.35 L251.66,397.34 L253.68,395.26 L255.7,393.1 L257.73,390.88 L259.75,388.58 L261.77,386.21 L263.79,383.78 L265.82,381.27 L267.84,378.69 L269.86,376.04 L271.88,373.32 L273.91,370.53 L275.93,367.67 L277.95,364.74 L279.97,361.74 L282,358.67 L284.02,355.52 L286.04,352.31 L288.07,349.03 L290.09,345.67 L292.11,342.24 L294.13,338.75 L296.16,335.18 L298.18,331.54 L300.2,327.83 L302.22,324.06 L304.25,320.21 L306.27,316.29 L308.29,312.29 L310.31,308.23 L312.34,304.1 L314.36,299.9" fill="none" stroke="rgba(160,178,210,0.5)" stroke-width="5.0" clip-path="url(#c2)"/>
<path d="M71.64,301.72 L73.66,305.84 L75.69,309.88 L77.71,313.85 L79.73,317.76 L81.75,321.59 L83.78,325.36 L85.8,329.06 L87.82,332.69 L89.84,336.25 L91.87,339.74 L93.89,343.16 L95.91,346.51 L97.93,349.79 L99.96,353.01 L101.98,356.15 L104,359.23 L106.03,362.23 L108.05,365.17 L110.07,368.04 L112.09,370.84 L114.12,373.57 L116.14,376.23 L118.16,378.82 L120.18,381.34 L122.21,383.8 L124.23,386.18 L126.25,388.5 L128.27,390.74 L130.3,392.92 L132.32,395.03 L134.34,397.07 L136.37,399.04 L138.39,400.94 L140.41,402.77 L142.43,404.53 L144.46,406.22 L146.48,407.85 L148.5,409.4 L150.52,410.89 L152.55,412.31 L154.57,413.65 L156.59,414.93 L158.61,416.14 L160.64,417.28 L162.66,418.35 L164.68,419.36 L166.71,420.29 L168.73,421.15 L170.75,421.95 L172.77,422.67 L174.8,423.33 L176.82,423.92 L178.84,424.44 L180.86,424.88 L182.89,425.27 L184.91,425.58 L186.93,425.82 L188.95,425.99 L190.98,426.09 L193,426.13 L195.02,426.09 L197.05,425.99 L199.07,425.82 L201.09,425.58 L203.11,425.27 L205.14,424.88 L207.16,424.44 L209.18,423.92 L211.2,423.33 L213.23,422.67 L215.25,421.95 L217.27,421.15 L219.29,420.29 L221.32,419.36 L223.34,418.35 L225.36,417.28 L227.39,416.14 L229.41,414.93 L231.43,413.65 L233.45,412.31 L235.48,410.89 L237.5,409.4 L239.52,407.85 L241.54,406.22 L243.57,404.53 L245.59,402.77 L247.61,400.94 L249.63,399.04 L251.66,397.07 L253.68,395.03 L255.7,392.92 L257.73,390.74 L259.75,388.5 L261.77,386.18 L263.79,383.8 L265.82,381.34 L267.84,378.82 L269.86,376.23 L271.88,373.57 L273.91,370.84 L275.93,368.04 L277.95,365.17 L279.97,362.23 L282,359.23 L284.02,356.15 L286.04,353.01 L288.07,349.79 L290.09,346.51 L292.11,343.16 L294.13,339.74 L296.16,336.25 L298.18,332.69 L300.2,329.06 L302.22,325.36 L304.25,321.59 L306.27,317.76 L308.29,313.85 L310.31,309.88 L312.34,305.84 L314.36,301.72" fill="none" stroke="#ff0000" stroke-width="2.2" stroke-linecap="butt" stroke-linejoin="round" clip-path="url(#c2)"/>
<path d="M71.64,299.9 L73.66,304.1 L75.69,308.23 L77.71,312.29 L79.73,316.29 L81.75,320.21 L83.78,324.06 L85.8,327.83 L87.82,331.54 L89.84,335.18 L91.87,338.75 L93.89,342.24 L95.91,345.67 L97.93,349.03 L99.96,352.31 L101.98,355.52 L104,358.67 L106.03,361.74 L108.05,364.74 L110.07,367.67 L112.09,370.53 L114.12,373.32 L116.14,376.04 L118.16,378.69 L120.18,381.27 L122.21,383.78 L124.23,386.21 L126.25,388.58 L128.27,390.88 L130.3,393.1 L132.32,395.26 L134.34,397.34 L136.37,399.35 L138.39,401.29 L140.41,403.17 L142.43,404.97 L144.46,406.7 L146.48,408.36 L148.5,409.95 L150.52,411.47 L152.55,412.91 L154.57,414.29 L156.59,415.6 L158.61,416.83 L160.64,418 L162.66,419.1 L164.68,420.12 L166.71,421.07 L168.73,421.96 L170.75,422.77 L172.77,423.51 L174.8,424.18 L176.82,424.78 L178.84,425.31 L180.86,425.77 L182.89,426.16 L184.91,426.48 L186.93,426.72 L188.95,426.9 L190.98,427.01 L193,427.04 L195.02,427.01 L197.05,426.9 L199.07,426.72 L201.09,426.48 L203.11,426.16 L205.14,425.77 L207.16,425.31 L209.18,424.78 L211.2,424.18 L213.23,423.51 L215.25,422.77 L217.27,421.96 L219.29,421.07 L221.32,420.12 L223.34,419.1 L225.36,418 L227.39,416.83 L229.41,415.6 L231.43,414.29 L233.45,412.91 L235.48,411.47 L237.5,409.95 L239.52,408.36 L241.54,406.7 L243.57,404.97 L245.59,403.17 L247.61,401.29 L249.63,399.35 L251.66,397.34 L253.68,395.26 L255.7,393.1 L257.73,390.88 L259.75,388.58 L261.77,386.21 L263.79,383.78 L265.82,381.27 L267.84,378.69 L269.86,376.04 L271.88,373.32 L273.91,370.53 L275.93,367.67 L277.95,364.74 L279.97,361.74 L282,358.67 L284.02,355.52 L286.04,352.31 L288.07,349.03 L290.09,345.67 L292.11,342.24 L294.13,338.75 L296.16,335.18 L298.18,331.54 L300.2,327.83 L302.22,324.06 L304.25,320.21 L306.27,316.29 L308.29,312.29 L310.31,308.23 L312.34,304.1 L314.36,299.9" fill="none" stroke="#0000ff" stroke-width="2.2" stroke-dasharray="7.2,3.1" stroke-linecap="butt" stroke-linejoin="round" clip-path="url(#c2)"/>
<path d="M71.64,299.9 L73.66,304.1 L75.69,308.23 L77.71,312.29 L79.73,316.29 L81.75,320.21 L83.78,324.06 L85.8,327.83 L87.82,331.54 L89.84,335.18 L91.87,338.75 L93.89,342.24 L95.91,345.67 L97.93,349.03 L99.96,352.31 L101.98,355.52 L104,358.67 L106.03,361.74 L108.05,364.74 L110.07,367.67 L112.09,370.53 L114.12,373.32 L116.14,376.04 L118.16,378.69 L120.18,381.27 L122.21,383.78 L124.23,386.21 L126.25,388.58 L128.27,390.88 L130.3,393.1 L132.32,395.26 L134.34,397.34 L136.37,399.35 L138.39,401.29 L140.41,403.17 L142.43,404.97 L144.46,406.7 L146.48,408.36 L148.5,409.95 L150.52,411.47 L152.55,412.91 L154.57,414.29 L156.59,415.6 L158.61,416.83 L160.64,418 L162.66,419.1 L164.68,420.12 L166.71,421.07 L168.73,421.96 L170.75,422.77 L172.77,423.51 L174.8,424.18 L176.82,424.78 L178.84,425.31 L180.86,425.77 L182.89,426.16 L184.91,426.48 L186.93,426.72 L188.95,426.9 L190.98,427.01 L193,427.04 L195.02,427.01 L197.05,426.9 L199.07,426.72 L201.09,426.48 L203.11,426.16 L205.14,425.77 L207.16,425.31 L209.18,424.78 L211.2,424.18 L213.23,423.51 L215.25,422.77 L217.27,421.96 L219.29,421.07 L221.32,420.12 L223.34,419.1 L225.36,418 L227.39,416.83 L229.41,415.6 L231.43,414.29 L233.45,412.91 L235.48,411.47 L237.5,409.95 L239.52,408.36 L241.54,406.7 L243.57,404.97 L245.59,403.17 L247.61,401.29 L249.63,399.35 L251.66,397.34 L253.68,395.26 L255.7,393.1 L257.73,390.88 L259.75,388.58 L261.77,386.21 L263.79,383.78 L265.82,381.27 L267.84,378.69 L269.86,376.04 L271.88,373.32 L273.91,370.53 L275.93,367.67 L277.95,364.74 L279.97,361.74 L282,358.67 L284.02,355.52 L286.04,352.31 L288.07,349.03 L290.09,345.67 L292.11,342.24 L294.13,338.75 L296.16,335.18 L298.18,331.54 L300.2,327.83 L302.22,324.06 L304.25,320.21 L306.27,316.29 L308.29,312.29 L310.31,308.23 L312.34,304.1 L314.36,299.9" fill="none" stroke="#00bfbf" stroke-width="2.2" stroke-dasharray="1.95,3.25" stroke-linecap="butt" stroke-linejoin="round" clip-path="url(#c2)"/>
<path d="M71.64,325.9H95.91M71.64,321.8V330M95.91,321.8V330" stroke="#000" stroke-width="2.0" fill="none"/><circle cx="83.78" cy="325.9" r="3.15" fill="none" stroke="#000" stroke-width="2.35"/>
<path d="M95.91,369.25H120.18M95.91,365.15V373.35M120.18,365.15V373.35" stroke="#000" stroke-width="2.0" fill="none"/><circle cx="108.05" cy="369.25" r="3.15" fill="none" stroke="#000" stroke-width="2.35"/>
<path d="M120.18,396.81H144.46M120.18,392.71V400.91M144.46,392.71V400.91" stroke="#000" stroke-width="2.0" fill="none"/><circle cx="132.32" cy="396.81" r="3.15" fill="none" stroke="#000" stroke-width="2.35"/>
<path d="M144.46,417.92H168.73M144.46,413.82V422.02M168.73,413.82V422.02" stroke="#000" stroke-width="2.0" fill="none"/><circle cx="156.59" cy="417.92" r="3.15" fill="none" stroke="#000" stroke-width="2.35"/>
<path d="M168.73,427.5H193M168.73,423.4V431.6M193,423.4V431.6" stroke="#000" stroke-width="2.0" fill="none"/><circle cx="180.86" cy="427.5" r="3.15" fill="none" stroke="#000" stroke-width="2.35"/>
<path d="M193,424.79H217.27M193,420.69V428.89M217.27,420.69V428.89" stroke="#000" stroke-width="2.0" fill="none"/><circle cx="205.14" cy="424.79" r="3.15" fill="none" stroke="#000" stroke-width="2.35"/>
<path d="M217.27,413.05H241.54M217.27,408.95V417.15M241.54,408.95V417.15" stroke="#000" stroke-width="2.0" fill="none"/><circle cx="229.41" cy="413.05" r="3.15" fill="none" stroke="#000" stroke-width="2.35"/>
<path d="M241.54,392.37H265.82M241.54,388.27V396.47M265.82,388.27V396.47" stroke="#000" stroke-width="2.0" fill="none"/><circle cx="253.68" cy="392.37" r="3.15" fill="none" stroke="#000" stroke-width="2.35"/>
<path d="M265.82,364.08H290.09M265.82,359.98V368.18M290.09,359.98V368.18" stroke="#000" stroke-width="2.0" fill="none"/><circle cx="277.95" cy="364.08" r="3.15" fill="none" stroke="#000" stroke-width="2.35"/>
<path d="M429.45,430.81 L430.46,430.7 L431.47,430.38 L432.49,429.83 L433.5,429.07 L434.51,428.1 L435.52,426.92 L436.53,425.53 L437.55,423.93 L438.56,422.14 L439.57,420.15 L440.58,417.98 L441.6,415.62 L442.61,413.08 L443.62,410.38 L444.63,407.51 L445.64,404.49 L446.66,401.32 L447.67,398.01 L448.68,394.58 L449.69,391.03 L450.7,387.37 L451.72,383.61 L452.73,379.76 L453.74,375.83 L454.75,371.84 L455.77,367.79 L456.78,363.69 L457.79,359.56 L458.8,355.41 L459.81,351.24 L460.83,347.72 L461.84,344.2 L462.85,340.7 L463.86,337.23 L464.87,333.8 L465.89,330.42 L466.9,327.09 L467.91,323.83 L468.92,320.64 L469.93,317.54 L470.95,314.53 L471.96,311.63 L472.97,308.83 L473.98,306.14 L475,303.58 L476.01,301.15 L477.02,298.86 L478.03,296.71 L479.04,294.72 L480.06,292.87 L481.07,291.19 L482.08,289.67 L483.09,288.32 L484.1,287.14 L485.12,286.14 L486.13,285.32 L487.14,284.67 L488.15,284.21 L489.16,283.93 L490.18,283.84 L491.19,283.93 L492.2,284.21 L493.21,284.67 L494.23,285.32 L495.24,286.14 L496.25,287.14 L497.26,288.32 L498.27,289.67 L499.29,291.19 L500.3,292.87 L501.31,294.72 L502.32,296.71 L503.33,298.86 L504.35,301.15 L505.36,303.58 L506.37,306.14 L507.38,308.83 L508.4,311.63 L509.41,314.53 L510.42,317.54 L511.43,320.64 L512.44,323.83 L513.46,327.09 L514.47,330.42 L515.48,333.8 L516.49,337.23 L517.5,340.7 L518.52,344.2 L519.53,347.72 L520.54,351.24 L521.55,355.41 L522.56,359.56 L523.58,363.69 L524.59,367.79 L525.6,371.84 L526.61,375.83 L527.63,379.76 L528.64,383.61 L529.65,387.37 L530.66,391.03 L531.67,394.58 L532.69,398.01 L533.7,401.32 L534.71,404.49 L535.72,407.51 L536.73,410.38 L537.75,413.08 L538.76,415.62 L539.77,417.98 L540.78,420.15 L541.79,422.14 L542.81,423.93 L543.82,425.53 L544.83,426.92 L545.84,428.1 L546.86,429.07 L547.87,429.83 L548.88,430.38 L549.89,430.7 L550.9,430.81 L551.92,430.7 L552.93,430.38 L553.94,429.83 L554.95,429.07 L555.96,428.1 L556.98,426.92 L557.99,425.53 L559,423.93 L560.01,422.14 L561.03,420.15 L562.04,417.98 L563.05,415.62 L564.06,413.08 L565.07,410.38 L566.09,407.51 L567.1,404.49 L568.11,401.32 L569.12,398.01 L570.13,394.58 L571.15,391.03 L572.16,387.37 L573.17,383.61 L574.18,379.76 L575.19,375.83 L576.21,371.84 L577.22,367.79 L578.23,363.69 L579.24,359.56 L580.26,355.41 L581.27,351.24 L582.28,347.72 L583.29,344.2 L584.3,340.7 L585.32,337.23 L586.33,333.8 L587.34,330.42 L588.35,327.09 L589.36,323.83 L590.38,320.64 L591.39,317.54 L592.4,314.53 L593.41,311.63 L594.42,308.83 L595.44,306.14 L596.45,303.58 L597.46,301.15 L598.47,298.86 L599.49,296.71 L600.5,294.72 L601.51,292.87 L602.52,291.19 L603.53,289.67 L604.55,288.32 L605.56,287.14 L606.57,286.14 L607.58,285.32 L608.59,284.67 L609.61,284.21 L610.62,283.93 L611.63,283.84 L612.64,283.93 L613.66,284.21 L614.67,284.67 L615.68,285.32 L616.69,286.14 L617.7,287.14 L618.72,288.32 L619.73,289.67 L620.74,291.19 L621.75,292.87 L622.76,294.72 L623.78,296.71 L624.79,298.86 L625.8,301.15 L626.81,303.58 L627.82,306.14 L628.84,308.83 L629.85,311.63 L630.86,314.53 L631.87,317.54 L632.89,320.64 L633.9,323.83 L634.91,327.09 L635.92,330.42 L636.93,333.8 L637.95,337.23 L638.96,340.7 L639.97,344.2 L640.98,347.72 L641.99,351.24 L643.01,355.41 L644.02,359.56 L645.03,363.69 L646.04,367.79 L647.06,371.84 L648.07,375.83 L649.08,379.76 L650.09,383.61 L651.1,387.37 L652.12,391.03 L653.13,394.58 L654.14,398.01 L655.15,401.32 L656.16,404.49 L657.18,407.51 L658.19,410.38 L659.2,413.08 L660.21,415.62 L661.22,417.98 L662.24,420.15 L663.25,422.14 L664.26,423.93 L665.27,425.53 L666.29,426.92 L667.3,428.1 L668.31,429.07 L669.32,429.83 L670.33,430.38 L671.35,430.7 L672.36,430.81 L672.36,417.19 L671.35,417.09 L670.33,416.82 L669.32,416.36 L668.31,415.71 L667.3,414.89 L666.29,413.89 L665.27,412.71 L664.26,411.36 L663.25,409.84 L662.24,408.16 L661.22,406.31 L660.21,404.31 L659.2,402.17 L658.19,399.87 L657.18,397.45 L656.16,394.89 L655.15,392.2 L654.14,389.4 L653.13,386.49 L652.12,383.49 L651.1,380.38 L650.09,377.2 L649.08,373.94 L648.07,370.61 L647.06,367.23 L646.04,363.8 L645.03,360.33 L644.02,356.83 L643.01,353.31 L641.99,349.78 L640.98,345.62 L639.97,341.47 L638.96,337.34 L637.95,333.24 L636.93,329.19 L635.92,325.2 L634.91,321.27 L633.9,317.42 L632.89,313.66 L631.87,310 L630.86,306.45 L629.85,303.02 L628.84,299.71 L627.82,296.54 L626.81,293.52 L625.8,290.65 L624.79,287.95 L623.78,285.41 L622.76,283.05 L621.75,280.88 L620.74,278.89 L619.73,277.09 L618.72,275.5 L617.7,274.11 L616.69,272.93 L615.68,271.95 L614.67,271.2 L613.66,270.65 L612.64,270.32 L611.63,270.22 L610.62,270.32 L609.61,270.65 L608.59,271.2 L607.58,271.95 L606.57,272.93 L605.56,274.11 L604.55,275.5 L603.53,277.09 L602.52,278.89 L601.51,280.88 L600.5,283.05 L599.49,285.41 L598.47,287.95 L597.46,290.65 L596.45,293.52 L595.44,296.54 L594.42,299.71 L593.41,303.02 L592.4,306.45 L591.39,310 L590.38,313.66 L589.36,317.42 L588.35,321.27 L587.34,325.2 L586.33,329.19 L585.32,333.24 L584.3,337.34 L583.29,341.47 L582.28,345.62 L581.27,349.78 L580.26,353.31 L579.24,356.83 L578.23,360.33 L577.22,363.8 L576.21,367.23 L575.19,370.61 L574.18,373.94 L573.17,377.2 L572.16,380.38 L571.15,383.49 L570.13,386.49 L569.12,389.4 L568.11,392.2 L567.1,394.89 L566.09,397.45 L565.07,399.87 L564.06,402.17 L563.05,404.31 L562.04,406.31 L561.03,408.16 L560.01,409.84 L559,411.36 L557.99,412.71 L556.98,413.89 L555.96,414.89 L554.95,415.71 L553.94,416.36 L552.93,416.82 L551.92,417.09 L550.9,417.19 L549.89,417.09 L548.88,416.82 L547.87,416.36 L546.86,415.71 L545.84,414.89 L544.83,413.89 L543.82,412.71 L542.81,411.36 L541.79,409.84 L540.78,408.16 L539.77,406.31 L538.76,404.31 L537.75,402.17 L536.73,399.87 L535.72,397.45 L534.71,394.89 L533.7,392.2 L532.69,389.4 L531.67,386.49 L530.66,383.49 L529.65,380.38 L528.64,377.2 L527.63,373.94 L526.61,370.61 L525.6,367.23 L524.59,363.8 L523.58,360.33 L522.56,356.83 L521.55,353.31 L520.54,349.78 L519.53,345.62 L518.52,341.47 L517.5,337.34 L516.49,333.24 L515.48,329.19 L514.47,325.2 L513.46,321.27 L512.44,317.42 L511.43,313.66 L510.42,310 L509.41,306.45 L508.4,303.02 L507.38,299.71 L506.37,296.54 L505.36,293.52 L504.35,290.65 L503.33,287.95 L502.32,285.41 L501.31,283.05 L500.3,280.88 L499.29,278.89 L498.27,277.09 L497.26,275.5 L496.25,274.11 L495.24,272.93 L494.23,271.95 L493.21,271.2 L492.2,270.65 L491.19,270.32 L490.18,270.22 L489.16,270.32 L488.15,270.65 L487.14,271.2 L486.13,271.95 L485.12,272.93 L484.1,274.11 L483.09,275.5 L482.08,277.09 L481.07,278.89 L480.06,280.88 L479.04,283.05 L478.03,285.41 L477.02,287.95 L476.01,290.65 L475,293.52 L473.98,296.54 L472.97,299.71 L471.96,303.02 L470.95,306.45 L469.93,310 L468.92,313.66 L467.91,317.42 L466.9,321.27 L465.89,325.2 L464.87,329.19 L463.86,333.24 L462.85,337.34 L461.84,341.47 L460.83,345.62 L459.81,349.78 L458.8,353.31 L457.79,356.83 L456.78,360.33 L455.77,363.8 L454.75,367.23 L453.74,370.61 L452.73,373.94 L451.72,377.2 L450.7,380.38 L449.69,383.49 L448.68,386.49 L447.67,389.4 L446.66,392.2 L445.64,394.89 L444.63,397.45 L443.62,399.87 L442.61,402.17 L441.6,404.31 L440.58,406.31 L439.57,408.16 L438.56,409.84 L437.55,411.36 L436.53,412.71 L435.52,413.89 L434.51,414.89 L433.5,415.71 L432.49,416.36 L431.47,416.82 L430.46,417.09 L429.45,417.19Z" fill="#f7a98f" stroke="none" clip-path="url(#c3)"/>
<path d="M429.45,422.54 L430.46,422.44 L431.47,422.15 L432.49,421.65 L433.5,420.97 L434.51,420.09 L435.52,419.02 L436.53,417.76 L437.55,416.31 L438.56,414.69 L439.57,412.89 L440.58,410.92 L441.6,408.78 L442.61,406.49 L443.62,404.04 L444.63,401.44 L445.64,398.71 L446.66,395.84 L447.67,392.85 L448.68,389.74 L449.69,386.53 L450.7,383.21 L451.72,379.81 L452.73,376.33 L453.74,372.77 L454.75,369.16 L455.77,365.49 L456.78,361.78 L457.79,358.04 L458.8,354.28 L459.81,350.51 L460.83,346.75 L461.84,342.99 L462.85,339.25 L463.86,335.54 L464.87,331.87 L465.89,328.26 L466.9,324.7 L467.91,321.22 L468.92,317.82 L469.93,314.5 L470.95,311.29 L471.96,308.18 L472.97,305.19 L473.98,302.32 L475,299.58 L476.01,296.99 L477.02,294.54 L478.03,292.24 L479.04,290.11 L480.06,288.14 L481.07,286.34 L482.08,284.72 L483.09,283.27 L484.1,282.01 L485.12,280.94 L486.13,280.06 L487.14,279.38 L488.15,278.88 L489.16,278.59 L490.18,278.49 L491.19,278.59 L492.2,278.88 L493.21,279.38 L494.23,280.06 L495.24,280.94 L496.25,282.01 L497.26,283.27 L498.27,284.72 L499.29,286.34 L500.3,288.14 L501.31,290.11 L502.32,292.24 L503.33,294.54 L504.35,296.99 L505.36,299.58 L506.37,302.32 L507.38,305.19 L508.4,308.18 L509.41,311.29 L510.42,314.5 L511.43,317.82 L512.44,321.22 L513.46,324.7 L514.47,328.26 L515.48,331.87 L516.49,335.54 L517.5,339.25 L518.52,342.99 L519.53,346.75 L520.54,350.51 L521.55,354.28 L522.56,358.04 L523.58,361.78 L524.59,365.49 L525.6,369.16 L526.61,372.77 L527.63,376.33 L528.64,379.81 L529.65,383.21 L530.66,386.53 L531.67,389.74 L532.69,392.85 L533.7,395.84 L534.71,398.71 L535.72,401.44 L536.73,404.04 L537.75,406.49 L538.76,408.78 L539.77,410.92 L540.78,412.89 L541.79,414.69 L542.81,416.31 L543.82,417.76 L544.83,419.02 L545.84,420.09 L546.86,420.97 L547.87,421.65 L548.88,422.15 L549.89,422.44 L550.9,422.54 L551.92,422.44 L552.93,422.15 L553.94,421.65 L554.95,420.97 L555.96,420.09 L556.98,419.02 L557.99,417.76 L559,416.31 L560.01,414.69 L561.03,412.89 L562.04,410.92 L563.05,408.78 L564.06,406.49 L565.07,404.04 L566.09,401.44 L567.1,398.71 L568.11,395.84 L569.12,392.85 L570.13,389.74 L571.15,386.53 L572.16,383.21 L573.17,379.81 L574.18,376.33 L575.19,372.77 L576.21,369.16 L577.22,365.49 L578.23,361.78 L579.24,358.04 L580.26,354.28 L581.27,350.51 L582.28,346.75 L583.29,342.99 L584.3,339.25 L585.32,335.54 L586.33,331.87 L587.34,328.26 L588.35,324.7 L589.36,321.22 L590.38,317.82 L591.39,314.5 L592.4,311.29 L593.41,308.18 L594.42,305.19 L595.44,302.32 L596.45,299.58 L597.46,296.99 L598.47,294.54 L599.49,292.24 L600.5,290.11 L601.51,288.14 L602.52,286.34 L603.53,284.72 L604.55,283.27 L605.56,282.01 L606.57,280.94 L607.58,280.06 L608.59,279.38 L609.61,278.88 L610.62,278.59 L611.63,278.49 L612.64,278.59 L613.66,278.88 L614.67,279.38 L615.68,280.06 L616.69,280.94 L617.7,282.01 L618.72,283.27 L619.73,284.72 L620.74,286.34 L621.75,288.14 L622.76,290.11 L623.78,292.24 L624.79,294.54 L625.8,296.99 L626.81,299.58 L627.82,302.32 L628.84,305.19 L629.85,308.18 L630.86,311.29 L631.87,314.5 L632.89,317.82 L633.9,321.22 L634.91,324.7 L635.92,328.26 L636.93,331.87 L637.95,335.54 L638.96,339.25 L639.97,342.99 L640.98,346.75 L641.99,350.51 L643.01,354.28 L644.02,358.04 L645.03,361.78 L646.04,365.49 L647.06,369.16 L648.07,372.77 L649.08,376.33 L650.09,379.81 L651.1,383.21 L652.12,386.53 L653.13,389.74 L654.14,392.85 L655.15,395.84 L656.16,398.71 L657.18,401.44 L658.19,404.04 L659.2,406.49 L660.21,408.78 L661.22,410.92 L662.24,412.89 L663.25,414.69 L664.26,416.31 L665.27,417.76 L666.29,419.02 L667.3,420.09 L668.31,420.97 L669.32,421.65 L670.33,422.15 L671.35,422.44 L672.36,422.54" fill="none" stroke="rgba(160,178,210,0.5)" stroke-width="5.0" clip-path="url(#c3)"/>
<path d="M429.45,424 L430.46,423.9 L431.47,423.6 L432.49,423.1 L433.5,422.39 L434.51,421.5 L435.52,420.4 L436.53,419.12 L437.55,417.65 L438.56,415.99 L439.57,414.16 L440.58,412.14 L441.6,409.97 L442.61,407.62 L443.62,405.13 L444.63,402.48 L445.64,399.69 L446.66,396.76 L447.67,393.71 L448.68,390.54 L449.69,387.26 L450.7,383.88 L451.72,380.4 L452.73,376.85 L453.74,373.22 L454.75,369.53 L455.77,365.79 L456.78,362.01 L457.79,358.2 L458.8,354.36 L459.81,350.51 L460.83,346.67 L461.84,342.83 L462.85,339.02 L463.86,335.24 L464.87,331.5 L465.89,327.81 L466.9,324.18 L467.91,320.63 L468.92,317.15 L469.93,313.77 L470.95,310.49 L471.96,307.32 L472.97,304.27 L473.98,301.34 L475,298.55 L476.01,295.9 L477.02,293.41 L478.03,291.06 L479.04,288.88 L480.06,286.87 L481.07,285.04 L482.08,283.38 L483.09,281.91 L484.1,280.63 L485.12,279.53 L486.13,278.63 L487.14,277.93 L488.15,277.43 L489.16,277.13 L490.18,277.03 L491.19,277.13 L492.2,277.43 L493.21,277.93 L494.23,278.63 L495.24,279.53 L496.25,280.63 L497.26,281.91 L498.27,283.38 L499.29,285.04 L500.3,286.87 L501.31,288.88 L502.32,291.06 L503.33,293.41 L504.35,295.9 L505.36,298.55 L506.37,301.34 L507.38,304.27 L508.4,307.32 L509.41,310.49 L510.42,313.77 L511.43,317.15 L512.44,320.63 L513.46,324.18 L514.47,327.81 L515.48,331.5 L516.49,335.24 L517.5,339.02 L518.52,342.83 L519.53,346.67 L520.54,350.51 L521.55,354.36 L522.56,358.2 L523.58,362.01 L524.59,365.79 L525.6,369.53 L526.61,373.22 L527.63,376.85 L528.64,380.4 L529.65,383.88 L530.66,387.26 L531.67,390.54 L532.69,393.71 L533.7,396.76 L534.71,399.69 L535.72,402.48 L536.73,405.13 L537.75,407.62 L538.76,409.97 L539.77,412.14 L540.78,414.16 L541.79,415.99 L542.81,417.65 L543.82,419.12 L544.83,420.4 L545.84,421.5 L546.86,422.39 L547.87,423.1 L548.88,423.6 L549.89,423.9 L550.9,424 L551.92,423.9 L552.93,423.6 L553.94,423.1 L554.95,422.39 L555.96,421.5 L556.98,420.4 L557.99,419.12 L559,417.65 L560.01,415.99 L561.03,414.16 L562.04,412.14 L563.05,409.97 L564.06,407.62 L565.07,405.13 L566.09,402.48 L567.1,399.69 L568.11,396.76 L569.12,393.71 L570.13,390.54 L571.15,387.26 L572.16,383.88 L573.17,380.4 L574.18,376.85 L575.19,373.22 L576.21,369.53 L577.22,365.79 L578.23,362.01 L579.24,358.2 L580.26,354.36 L581.27,350.51 L582.28,346.67 L583.29,342.83 L584.3,339.02 L585.32,335.24 L586.33,331.5 L587.34,327.81 L588.35,324.18 L589.36,320.63 L590.38,317.15 L591.39,313.77 L592.4,310.49 L593.41,307.32 L594.42,304.27 L595.44,301.34 L596.45,298.55 L597.46,295.9 L598.47,293.41 L599.49,291.06 L600.5,288.88 L601.51,286.87 L602.52,285.04 L603.53,283.38 L604.55,281.91 L605.56,280.63 L606.57,279.53 L607.58,278.63 L608.59,277.93 L609.61,277.43 L610.62,277.13 L611.63,277.03 L612.64,277.13 L613.66,277.43 L614.67,277.93 L615.68,278.63 L616.69,279.53 L617.7,280.63 L618.72,281.91 L619.73,283.38 L620.74,285.04 L621.75,286.87 L622.76,288.88 L623.78,291.06 L624.79,293.41 L625.8,295.9 L626.81,298.55 L627.82,301.34 L628.84,304.27 L629.85,307.32 L630.86,310.49 L631.87,313.77 L632.89,317.15 L633.9,320.63 L634.91,324.18 L635.92,327.81 L636.93,331.5 L637.95,335.24 L638.96,339.02 L639.97,342.83 L640.98,346.67 L641.99,350.51 L643.01,354.36 L644.02,358.2 L645.03,362.01 L646.04,365.79 L647.06,369.53 L648.07,373.22 L649.08,376.85 L650.09,380.4 L651.1,383.88 L652.12,387.26 L653.13,390.54 L654.14,393.71 L655.15,396.76 L656.16,399.69 L657.18,402.48 L658.19,405.13 L659.2,407.62 L660.21,409.97 L661.22,412.14 L662.24,414.16 L663.25,415.99 L664.26,417.65 L665.27,419.12 L666.29,420.4 L667.3,421.5 L668.31,422.39 L669.32,423.1 L670.33,423.6 L671.35,423.9 L672.36,424" fill="none" stroke="#ff0000" stroke-width="2.2" stroke-linecap="butt" stroke-linejoin="round" clip-path="url(#c3)"/>
<path d="M429.45,422.54 L430.46,422.44 L431.47,422.15 L432.49,421.65 L433.5,420.97 L434.51,420.09 L435.52,419.02 L436.53,417.76 L437.55,416.31 L438.56,414.69 L439.57,412.89 L440.58,410.92 L441.6,408.78 L442.61,406.49 L443.62,404.04 L444.63,401.44 L445.64,398.71 L446.66,395.84 L447.67,392.85 L448.68,389.74 L449.69,386.53 L450.7,383.21 L451.72,379.81 L452.73,376.33 L453.74,372.77 L454.75,369.16 L455.77,365.49 L456.78,361.78 L457.79,358.04 L458.8,354.28 L459.81,350.51 L460.83,346.75 L461.84,342.99 L462.85,339.25 L463.86,335.54 L464.87,331.87 L465.89,328.26 L466.9,324.7 L467.91,321.22 L468.92,317.82 L469.93,314.5 L470.95,311.29 L471.96,308.18 L472.97,305.19 L473.98,302.32 L475,299.58 L476.01,296.99 L477.02,294.54 L478.03,292.24 L479.04,290.11 L480.06,288.14 L481.07,286.34 L482.08,284.72 L483.09,283.27 L484.1,282.01 L485.12,280.94 L486.13,280.06 L487.14,279.38 L488.15,278.88 L489.16,278.59 L490.18,278.49 L491.19,278.59 L492.2,278.88 L493.21,279.38 L494.23,280.06 L495.24,280.94 L496.25,282.01 L497.26,283.27 L498.27,284.72 L499.29,286.34 L500.3,288.14 L501.31,290.11 L502.32,292.24 L503.33,294.54 L504.35,296.99 L505.36,299.58 L506.37,302.32 L507.38,305.19 L508.4,308.18 L509.41,311.29 L510.42,314.5 L511.43,317.82 L512.44,321.22 L513.46,324.7 L514.47,328.26 L515.48,331.87 L516.49,335.54 L517.5,339.25 L518.52,342.99 L519.53,346.75 L520.54,350.51 L521.55,354.28 L522.56,358.04 L523.58,361.78 L524.59,365.49 L525.6,369.16 L526.61,372.77 L527.63,376.33 L528.64,379.81 L529.65,383.21 L530.66,386.53 L531.67,389.74 L532.69,392.85 L533.7,395.84 L534.71,398.71 L535.72,401.44 L536.73,404.04 L537.75,406.49 L538.76,408.78 L539.77,410.92 L540.78,412.89 L541.79,414.69 L542.81,416.31 L543.82,417.76 L544.83,419.02 L545.84,420.09 L546.86,420.97 L547.87,421.65 L548.88,422.15 L549.89,422.44 L550.9,422.54 L551.92,422.44 L552.93,422.15 L553.94,421.65 L554.95,420.97 L555.96,420.09 L556.98,419.02 L557.99,417.76 L559,416.31 L560.01,414.69 L561.03,412.89 L562.04,410.92 L563.05,408.78 L564.06,406.49 L565.07,404.04 L566.09,401.44 L567.1,398.71 L568.11,395.84 L569.12,392.85 L570.13,389.74 L571.15,386.53 L572.16,383.21 L573.17,379.81 L574.18,376.33 L575.19,372.77 L576.21,369.16 L577.22,365.49 L578.23,361.78 L579.24,358.04 L580.26,354.28 L581.27,350.51 L582.28,346.75 L583.29,342.99 L584.3,339.25 L585.32,335.54 L586.33,331.87 L587.34,328.26 L588.35,324.7 L589.36,321.22 L590.38,317.82 L591.39,314.5 L592.4,311.29 L593.41,308.18 L594.42,305.19 L595.44,302.32 L596.45,299.58 L597.46,296.99 L598.47,294.54 L599.49,292.24 L600.5,290.11 L601.51,288.14 L602.52,286.34 L603.53,284.72 L604.55,283.27 L605.56,282.01 L606.57,280.94 L607.58,280.06 L608.59,279.38 L609.61,278.88 L610.62,278.59 L611.63,278.49 L612.64,278.59 L613.66,278.88 L614.67,279.38 L615.68,280.06 L616.69,280.94 L617.7,282.01 L618.72,283.27 L619.73,284.72 L620.74,286.34 L621.75,288.14 L622.76,290.11 L623.78,292.24 L624.79,294.54 L625.8,296.99 L626.81,299.58 L627.82,302.32 L628.84,305.19 L629.85,308.18 L630.86,311.29 L631.87,314.5 L632.89,317.82 L633.9,321.22 L634.91,324.7 L635.92,328.26 L636.93,331.87 L637.95,335.54 L638.96,339.25 L639.97,342.99 L640.98,346.75 L641.99,350.51 L643.01,354.28 L644.02,358.04 L645.03,361.78 L646.04,365.49 L647.06,369.16 L648.07,372.77 L649.08,376.33 L650.09,379.81 L651.1,383.21 L652.12,386.53 L653.13,389.74 L654.14,392.85 L655.15,395.84 L656.16,398.71 L657.18,401.44 L658.19,404.04 L659.2,406.49 L660.21,408.78 L661.22,410.92 L662.24,412.89 L663.25,414.69 L664.26,416.31 L665.27,417.76 L666.29,419.02 L667.3,420.09 L668.31,420.97 L669.32,421.65 L670.33,422.15 L671.35,422.44 L672.36,422.54" fill="none" stroke="#0000ff" stroke-width="2.2" stroke-dasharray="7.2,3.1" stroke-linecap="butt" stroke-linejoin="round" clip-path="url(#c3)"/>
<path d="M429.45,422.54 L430.46,422.44 L431.47,422.15 L432.49,421.65 L433.5,420.97 L434.51,420.09 L435.52,419.02 L436.53,417.76 L437.55,416.31 L438.56,414.69 L439.57,412.89 L440.58,410.92 L441.6,408.78 L442.61,406.49 L443.62,404.04 L444.63,401.44 L445.64,398.71 L446.66,395.84 L447.67,392.85 L448.68,389.74 L449.69,386.53 L450.7,383.21 L451.72,379.81 L452.73,376.33 L453.74,372.77 L454.75,369.16 L455.77,365.49 L456.78,361.78 L457.79,358.04 L458.8,354.28 L459.81,350.51 L460.83,346.75 L461.84,342.99 L462.85,339.25 L463.86,335.54 L464.87,331.87 L465.89,328.26 L466.9,324.7 L467.91,321.22 L468.92,317.82 L469.93,314.5 L470.95,311.29 L471.96,308.18 L472.97,305.19 L473.98,302.32 L475,299.58 L476.01,296.99 L477.02,294.54 L478.03,292.24 L479.04,290.11 L480.06,288.14 L481.07,286.34 L482.08,284.72 L483.09,283.27 L484.1,282.01 L485.12,280.94 L486.13,280.06 L487.14,279.38 L488.15,278.88 L489.16,278.59 L490.18,278.49 L491.19,278.59 L492.2,278.88 L493.21,279.38 L494.23,280.06 L495.24,280.94 L496.25,282.01 L497.26,283.27 L498.27,284.72 L499.29,286.34 L500.3,288.14 L501.31,290.11 L502.32,292.24 L503.33,294.54 L504.35,296.99 L505.36,299.58 L506.37,302.32 L507.38,305.19 L508.4,308.18 L509.41,311.29 L510.42,314.5 L511.43,317.82 L512.44,321.22 L513.46,324.7 L514.47,328.26 L515.48,331.87 L516.49,335.54 L517.5,339.25 L518.52,342.99 L519.53,346.75 L520.54,350.51 L521.55,354.28 L522.56,358.04 L523.58,361.78 L524.59,365.49 L525.6,369.16 L526.61,372.77 L527.63,376.33 L528.64,379.81 L529.65,383.21 L530.66,386.53 L531.67,389.74 L532.69,392.85 L533.7,395.84 L534.71,398.71 L535.72,401.44 L536.73,404.04 L537.75,406.49 L538.76,408.78 L539.77,410.92 L540.78,412.89 L541.79,414.69 L542.81,416.31 L543.82,417.76 L544.83,419.02 L545.84,420.09 L546.86,420.97 L547.87,421.65 L548.88,422.15 L549.89,422.44 L550.9,422.54 L551.92,422.44 L552.93,422.15 L553.94,421.65 L554.95,420.97 L555.96,420.09 L556.98,419.02 L557.99,417.76 L559,416.31 L560.01,414.69 L561.03,412.89 L562.04,410.92 L563.05,408.78 L564.06,406.49 L565.07,404.04 L566.09,401.44 L567.1,398.71 L568.11,395.84 L569.12,392.85 L570.13,389.74 L571.15,386.53 L572.16,383.21 L573.17,379.81 L574.18,376.33 L575.19,372.77 L576.21,369.16 L577.22,365.49 L578.23,361.78 L579.24,358.04 L580.26,354.28 L581.27,350.51 L582.28,346.75 L583.29,342.99 L584.3,339.25 L585.32,335.54 L586.33,331.87 L587.34,328.26 L588.35,324.7 L589.36,321.22 L590.38,317.82 L591.39,314.5 L592.4,311.29 L593.41,308.18 L594.42,305.19 L595.44,302.32 L596.45,299.58 L597.46,296.99 L598.47,294.54 L599.49,292.24 L600.5,290.11 L601.51,288.14 L602.52,286.34 L603.53,284.72 L604.55,283.27 L605.56,282.01 L606.57,280.94 L607.58,280.06 L608.59,279.38 L609.61,278.88 L610.62,278.59 L611.63,278.49 L612.64,278.59 L613.66,278.88 L614.67,279.38 L615.68,280.06 L616.69,280.94 L617.7,282.01 L618.72,283.27 L619.73,284.72 L620.74,286.34 L621.75,288.14 L622.76,290.11 L623.78,292.24 L624.79,294.54 L625.8,296.99 L626.81,299.58 L627.82,302.32 L628.84,305.19 L629.85,308.18 L630.86,311.29 L631.87,314.5 L632.89,317.82 L633.9,321.22 L634.91,324.7 L635.92,328.26 L636.93,331.87 L637.95,335.54 L638.96,339.25 L639.97,342.99 L640.98,346.75 L641.99,350.51 L643.01,354.28 L644.02,358.04 L645.03,361.78 L646.04,365.49 L647.06,369.16 L648.07,372.77 L649.08,376.33 L650.09,379.81 L651.1,383.21 L652.12,386.53 L653.13,389.74 L654.14,392.85 L655.15,395.84 L656.16,398.71 L657.18,401.44 L658.19,404.04 L659.2,406.49 L660.21,408.78 L661.22,410.92 L662.24,412.89 L663.25,414.69 L664.26,416.31 L665.27,417.76 L666.29,419.02 L667.3,420.09 L668.31,420.97 L669.32,421.65 L670.33,422.15 L671.35,422.44 L672.36,422.54" fill="none" stroke="#00bfbf" stroke-width="2.2" stroke-dasharray="1.95,3.25" stroke-linecap="butt" stroke-linejoin="round" clip-path="url(#c3)"/>
<path d="M429.45,410.13H453.74M429.45,406.03V414.23M453.74,406.03V414.23M441.6,417.92V402.34M437.5,417.92H445.7M437.5,402.34H445.7" stroke="#000" stroke-width="2.0" fill="none"/><circle cx="441.6" cy="410.13" r="3.3" fill="none" stroke="#000" stroke-width="1.9"/>
<path d="M453.74,340.78H478.03M453.74,336.68V344.88M478.03,336.68V344.88M465.89,346.62V334.94M461.79,346.62H469.99M461.79,334.94H469.99" stroke="#000" stroke-width="2.0" fill="none"/><circle cx="465.89" cy="340.78" r="3.3" fill="none" stroke="#000" stroke-width="1.9"/>
<path d="M478.03,282.87H502.32M478.03,278.77V286.97M502.32,278.77V286.97M490.18,289.44V276.3M486.08,289.44H494.28M486.08,276.3H494.28" stroke="#000" stroke-width="2.0" fill="none"/><circle cx="490.18" cy="282.87" r="3.3" fill="none" stroke="#000" stroke-width="1.9"/>
<path d="M502.32,330.8H526.61M502.32,326.7V334.9M526.61,326.7V334.9M514.47,336.89V324.72M510.37,336.89H518.57M510.37,324.72H518.57" stroke="#000" stroke-width="2.0" fill="none"/><circle cx="514.47" cy="330.8" r="3.3" fill="none" stroke="#000" stroke-width="1.9"/>
<path d="M526.61,403.32H550.9M526.61,399.22V407.42M550.9,399.22V407.42M538.76,408.67V397.96M534.66,408.67H542.86M534.66,397.96H542.86" stroke="#000" stroke-width="2.0" fill="none"/><circle cx="538.76" cy="403.32" r="3.3" fill="none" stroke="#000" stroke-width="1.9"/>
<path d="M550.9,395.29H575.19M550.9,391.19V399.39M575.19,391.19V399.39M563.05,400.64V389.93M558.95,400.64H567.15M558.95,389.93H567.15" stroke="#000" stroke-width="2.0" fill="none"/><circle cx="563.05" cy="395.29" r="3.3" fill="none" stroke="#000" stroke-width="1.9"/>
<path d="M575.19,335.67H599.49M575.19,331.57V339.77M599.49,331.57V339.77M587.34,341.51V329.83M583.24,341.51H591.44M583.24,329.83H591.44" stroke="#000" stroke-width="2.0" fill="none"/><circle cx="587.34" cy="335.67" r="3.3" fill="none" stroke="#000" stroke-width="1.9"/>
<path d="M599.49,278.49H623.78M599.49,274.39V282.59M623.78,274.39V282.59M611.63,284.57V272.41M607.53,284.57H615.73M607.53,272.41H615.73" stroke="#000" stroke-width="2.0" fill="none"/><circle cx="611.63" cy="278.49" r="3.3" fill="none" stroke="#000" stroke-width="1.9"/>
<path d="M623.78,324.23H648.07M623.78,320.13V328.33M648.07,320.13V328.33M635.92,329.83V318.64M631.82,329.83H640.02M631.82,318.64H640.02" stroke="#000" stroke-width="2.0" fill="none"/><circle cx="635.92" cy="324.23" r="3.3" fill="none" stroke="#000" stroke-width="1.9"/>
<rect x="59.5" y="6.6" width="267" height="182.95" fill="none" stroke="#111" stroke-width="1.1"/>
<rect x="417.3" y="6.6" width="267.2" height="182.95" fill="none" stroke="#111" stroke-width="1.1"/>
<rect x="59.5" y="263.5" width="267" height="182.65" fill="none" stroke="#111" stroke-width="1.1"/>
<rect x="417.3" y="263.5" width="267.2" height="182.65" fill="none" stroke="#111" stroke-width="1.1"/>
<line x1="55" y1="189.3" x2="59.5" y2="189.3" stroke="#000" stroke-width="1.05"/>
<text x="50.6" y="196.7" font-size="20.7" text-anchor="end">0</text>
<line x1="55" y1="128.37" x2="59.5" y2="128.37" stroke="#000" stroke-width="1.05"/>
<text x="50.6" y="135.77" font-size="20.7" text-anchor="end">1</text>
<line x1="55" y1="67.44" x2="59.5" y2="67.44" stroke="#000" stroke-width="1.05"/>
<text x="50.6" y="74.84" font-size="20.7" text-anchor="end">2</text>
<line x1="55" y1="6.51" x2="59.5" y2="6.51" stroke="#000" stroke-width="1.05"/>
<text x="50.6" y="13.91" font-size="20.7" text-anchor="end">3</text>
<line x1="71.4" y1="189.3" x2="71.4" y2="193.8" stroke="#000" stroke-width="1.05"/>
<text x="71.8" y="212.6" font-size="20.7" text-anchor="middle">1.0</text>
<line x1="168.65" y1="189.3" x2="168.65" y2="193.8" stroke="#000" stroke-width="1.05"/>
<text x="169.05" y="212.6" font-size="20.7" text-anchor="middle">1.2</text>
<line x1="265.9" y1="189.3" x2="265.9" y2="193.8" stroke="#000" stroke-width="1.05"/>
<text x="266.3" y="212.6" font-size="20.7" text-anchor="middle">1.4</text>
<line x1="412.8" y1="158.83" x2="417.3" y2="158.83" stroke="#000" stroke-width="1.05"/>
<text x="408.2" y="166.23" font-size="20.7" text-anchor="end">0.2</text>
<line x1="412.8" y1="97.9" x2="417.3" y2="97.9" stroke="#000" stroke-width="1.05"/>
<text x="408.2" y="105.3" font-size="20.7" text-anchor="end">0.4</text>
<line x1="412.8" y1="36.97" x2="417.3" y2="36.97" stroke="#000" stroke-width="1.05"/>
<text x="408.2" y="44.37" font-size="20.7" text-anchor="end">0.6</text>
<line x1="55" y1="415.48" x2="59.5" y2="415.48" stroke="#000" stroke-width="1.05"/>
<text x="50.6" y="422.88" font-size="20.7" text-anchor="end">0.4</text>
<line x1="55" y1="354.65" x2="59.5" y2="354.65" stroke="#000" stroke-width="1.05"/>
<text x="50.6" y="362.05" font-size="20.7" text-anchor="end">0.6</text>
<line x1="55" y1="293.81" x2="59.5" y2="293.81" stroke="#000" stroke-width="1.05"/>
<text x="50.6" y="301.21" font-size="20.7" text-anchor="end">0.8</text>
<line x1="412.8" y1="445.9" x2="417.3" y2="445.9" stroke="#000" stroke-width="1.05"/>
<text x="408" y="453.3" font-size="20.7" text-anchor="end" textLength="34.4" lengthAdjust="spacingAndGlyphs">0.12</text>
<line x1="412.8" y1="397.23" x2="417.3" y2="397.23" stroke="#000" stroke-width="1.05"/>
<text x="408" y="404.63" font-size="20.7" text-anchor="end" textLength="34.4" lengthAdjust="spacingAndGlyphs">0.14</text>
<line x1="412.8" y1="348.57" x2="417.3" y2="348.57" stroke="#000" stroke-width="1.05"/>
<text x="408" y="355.97" font-size="20.7" text-anchor="end" textLength="34.4" lengthAdjust="spacingAndGlyphs">0.16</text>
<line x1="412.8" y1="299.9" x2="417.3" y2="299.9" stroke="#000" stroke-width="1.05"/>
<text x="408" y="307.3" font-size="20.7" text-anchor="end" textLength="34.4" lengthAdjust="spacingAndGlyphs">0.18</text>
<line x1="429.45" y1="189.3" x2="429.45" y2="193.8" stroke="#000" stroke-width="1.05"/>
<line x1="550.9" y1="189.3" x2="550.9" y2="193.8" stroke="#000" stroke-width="1.05"/>
<line x1="672.35" y1="189.3" x2="672.35" y2="193.8" stroke="#000" stroke-width="1.05"/>
<rect x="418.15" y="206.8" width="12.7" height="1" fill="#000"/>
<text x="437.05" y="212.6" font-size="20.7" text-anchor="middle">1</text>
<text x="551.2" y="212.6" font-size="20.7" text-anchor="middle">0</text>
<text x="672.65" y="212.6" font-size="20.7" text-anchor="middle">1</text>
<line x1="71.64" y1="445.9" x2="71.64" y2="450.4" stroke="#000" stroke-width="1.05"/>
<line x1="193" y1="445.9" x2="193" y2="450.4" stroke="#000" stroke-width="1.05"/>
<line x1="314.36" y1="445.9" x2="314.36" y2="450.4" stroke="#000" stroke-width="1.05"/>
<rect x="60.34" y="463.4" width="12.7" height="1" fill="#000"/>
<text x="79.24" y="469.2" font-size="20.7" text-anchor="middle">1</text>
<text x="193.3" y="469.2" font-size="20.7" text-anchor="middle">0</text>
<text x="314.66" y="469.2" font-size="20.7" text-anchor="middle">1</text>
<line x1="429.45" y1="445.9" x2="429.45" y2="450.4" stroke="#000" stroke-width="1.05"/>
<line x1="490.18" y1="445.9" x2="490.18" y2="450.4" stroke="#000" stroke-width="1.05"/>
<line x1="550.9" y1="445.9" x2="550.9" y2="450.4" stroke="#000" stroke-width="1.05"/>
<line x1="611.63" y1="445.9" x2="611.63" y2="450.4" stroke="#000" stroke-width="1.05"/>
<line x1="672.36" y1="445.9" x2="672.36" y2="450.4" stroke="#000" stroke-width="1.05"/>
<text x="429.85" y="469.4" font-size="20.7" text-anchor="middle">0</text>
<text x="551.1" y="469.4" font-size="20.7" text-anchor="middle" font-style="italic">π</text>
<text x="671.86" y="469.4" font-size="20.7" text-anchor="middle">2<tspan font-style="italic">π</tspan></text>
<path d="M71.4,737.3 L71.41,734.94 L71.43,732.58 L71.47,730.24 L71.52,727.9 L71.59,725.58 L71.68,723.28 L71.78,720.98 L71.9,718.7 L72.03,716.43 L72.18,714.17 L72.34,711.93 L72.52,709.71 L72.72,707.5 L72.93,705.31 L73.15,703.13 L73.39,700.98 L73.65,698.83 L73.92,696.71 L74.21,694.61 L74.52,692.52 L74.84,690.46 L75.17,688.41 L75.52,686.39 L75.89,684.39 L76.27,682.4 L76.67,680.28 L77.08,678.16 L77.51,676.07 L77.95,673.99 L78.41,671.93 L78.89,669.89 L79.38,667.86 L79.88,665.86 L80.41,663.87 L80.94,661.9 L81.5,659.96 L82.07,658.03 L82.65,656.13 L83.25,654.24 L83.87,652.37 L84.5,650.42 L85.14,648.49 L85.81,646.58 L86.48,644.69 L87.18,642.83 L87.89,640.98 L88.61,639.16 L89.35,637.36 L90.11,635.58 L90.88,633.83 L91.66,632.1 L92.47,630.4 L93.29,628.72 L94.12,627.07 L94.97,625.44 L95.83,623.84 L96.71,622.26 L97.61,620.71 L98.52,619.18 L99.45,617.69 L100.39,616.22 L101.35,614.78 L102.32,613.37 L103.31,611.99 L104.32,610.63 L105.34,609.31 L106.37,608.02 L107.43,606.76 L108.49,605.53 L109.58,604.33 L110.68,603.16 L111.79,602.03 L112.92,600.93 L114.06,599.86 L115.23,598.82 L116.4,597.82 L117.59,596.85 L118.8,595.92 L120.02,595.02 L122.49,593.34 L124.95,591.84 L127.41,590.5 L129.87,589.31 L132.34,588.27 L134.8,587.36 L137.26,586.59 L139.72,585.95 L142.18,585.42 L144.65,584.85 L147.11,584.38 L149.57,584.01 L152.03,583.74 L154.49,583.57 L156.96,583.58 L159.42,583.69 L161.88,583.89 L164.34,584.17 L166.8,584.53 L169.27,584.96 L171.73,585.47 L174.19,586.05 L176.65,586.7 L179.11,587.41 L181.58,588.19 L184.04,589.03 L186.5,589.93 L188.96,590.89 L191.42,591.91 L193.89,592.98 L196.35,594.1 L198.81,595.27 L201.27,596.49 L203.73,597.76 L206.2,599.08 L208.66,600.44 L211.12,601.84 L213.58,603.28 L216.04,604.76 L218.51,606.28 L220.97,607.84 L223.43,609.44 L225.89,611.07 L228.35,612.73 L230.82,614.43 L233.28,616.15 L235.74,617.91 L238.2,619.7 L240.66,621.52 L243.13,623.41 L245.59,625.33 L248.05,627.27 L250.51,629.23 L252.97,631.22 L255.44,633.22 L257.9,635.25 L260.36,637.3 L262.82,639.37 L265.28,641.5 L267.75,643.65 L270.21,645.83 L272.67,648.01 L275.13,650.22 L277.59,652.43 L280.06,654.66 L282.52,656.91 L284.98,659.16 L287.44,661.48 L289.9,663.95 L292.37,666.43 L294.83,668.91 L297.29,671.41 L299.75,673.91 L302.21,676.42 L304.68,678.93 L307.14,681.45 L309.6,683.97 L312.06,686.5 L314.52,689.03 L314.52,672.21 L312.06,670.22 L309.6,668.23 L307.14,666.25 L304.68,664.27 L302.21,662.3 L299.75,660.33 L297.29,658.37 L294.83,656.41 L292.37,654.46 L289.9,652.53 L287.44,650.6 L284.98,648.54 L282.52,646.44 L280.06,644.36 L277.59,642.28 L275.13,640.22 L272.67,638.17 L270.21,636.14 L267.75,634.12 L265.28,632.12 L262.82,630.12 L260.36,628.11 L257.9,626.11 L255.44,624.13 L252.97,622.17 L250.51,620.24 L248.05,618.33 L245.59,616.44 L243.13,614.57 L240.66,612.74 L238.2,610.89 L235.74,609.06 L233.28,607.26 L230.82,605.48 L228.35,603.74 L225.89,602.03 L223.43,600.36 L220.97,598.72 L218.51,597.11 L216.04,595.55 L213.58,594.02 L211.12,592.53 L208.66,591.08 L206.2,589.68 L203.73,588.32 L201.27,587 L198.81,585.73 L196.35,584.52 L193.89,583.35 L191.42,582.23 L188.96,581.17 L186.5,580.17 L184.04,579.22 L181.58,578.33 L179.11,577.51 L176.65,576.75 L174.19,576.05 L171.73,575.43 L169.27,574.87 L166.8,574.39 L164.34,573.99 L161.88,573.67 L159.42,573.43 L156.96,573.27 L154.49,573.2 L152.03,573.13 L149.57,573.15 L147.11,573.27 L144.65,573.5 L142.18,573.85 L139.72,574.48 L137.26,575.22 L134.8,576.09 L132.34,577.09 L129.87,578.23 L127.41,579.51 L124.95,580.95 L122.49,582.55 L120.02,584.33 L118.8,585.28 L117.59,586.26 L116.4,587.27 L115.23,588.32 L114.06,589.41 L112.92,590.52 L111.79,591.67 L110.68,592.85 L109.58,594.06 L108.49,595.3 L107.43,596.57 L106.37,597.87 L105.34,599.2 L104.32,600.57 L103.31,601.96 L102.32,603.38 L101.35,604.83 L100.39,606.31 L99.45,607.81 L98.52,609.35 L97.61,610.91 L96.71,612.5 L95.83,614.11 L94.97,615.75 L94.12,617.42 L93.29,619.12 L92.47,620.84 L91.66,622.58 L90.88,624.35 L90.11,626.14 L89.35,627.95 L88.61,629.78 L87.89,631.64 L87.18,633.52 L86.48,635.42 L85.81,637.34 L85.14,639.29 L84.5,641.25 L83.87,643.23 L83.25,645.33 L82.65,647.45 L82.07,649.59 L81.5,651.75 L80.94,653.92 L80.41,656.1 L79.88,658.3 L79.38,660.51 L78.89,662.73 L78.41,664.97 L77.95,667.21 L77.51,669.47 L77.08,671.74 L76.67,674.02 L76.27,676.31 L75.89,678.76 L75.52,681.23 L75.17,683.69 L74.84,686.15 L74.52,688.62 L74.21,691.08 L73.92,693.55 L73.65,696.01 L73.39,698.48 L73.15,700.94 L72.93,703.4 L72.72,705.85 L72.52,708.3 L72.34,710.75 L72.18,713.2 L72.03,715.64 L71.9,718.07 L71.78,720.5 L71.68,722.92 L71.59,725.34 L71.52,727.75 L71.47,730.15 L71.43,732.54 L71.41,734.93 L71.4,737.3Z" fill="#f7a98f" stroke="none" clip-path="url(#c4)"/>
<path d="M71.4,737.3 L71.41,735.28 L71.43,733.25 L71.47,731.23 L71.52,729.21 L71.59,727.19 L71.68,725.17 L71.78,723.15 L71.9,721.14 L72.03,719.13 L72.18,717.12 L72.34,715.11 L72.52,713.11 L72.72,711.12 L72.93,709.12 L73.15,707.13 L73.39,705.15 L73.65,703.17 L73.92,701.2 L74.21,699.24 L74.52,697.28 L74.84,695.33 L75.17,693.38 L75.52,691.44 L75.89,689.51 L76.27,687.59 L76.67,685.68 L77.08,683.77 L77.51,681.88 L77.95,679.99 L78.41,678.12 L78.89,676.25 L79.38,674.4 L79.88,672.55 L80.41,670.72 L80.94,668.9 L81.5,667.09 L82.07,665.29 L82.65,663.51 L83.25,661.74 L83.87,659.98 L84.5,658.23 L85.14,656.5 L85.81,654.79 L86.48,653.09 L87.18,651.4 L87.89,649.73 L88.61,648.07 L89.35,646.44 L90.11,644.81 L90.88,643.21 L91.66,641.62 L92.47,640.05 L93.29,638.49 L94.12,636.96 L94.97,635.44 L95.83,633.94 L96.71,632.46 L97.61,631 L98.52,629.56 L99.45,628.14 L100.39,626.74 L101.35,625.37 L102.32,624.01 L103.31,622.67 L104.32,621.36 L105.34,620.07 L106.37,618.8 L107.43,617.55 L108.49,616.33 L109.58,615.13 L110.68,613.95 L111.79,612.8 L112.92,611.67 L114.06,610.57 L115.23,609.49 L116.4,608.44 L117.59,607.41 L118.8,606.41 L120.02,605.43 L122.49,603.58 L124.95,601.88 L127.41,600.32 L129.87,598.88 L132.34,597.58 L134.8,596.39 L137.26,595.31 L139.72,594.34 L142.18,593.47 L144.65,592.7 L147.11,592.03 L149.57,591.45 L152.03,590.95 L154.49,590.54 L156.96,590.22 L159.42,589.96 L161.88,589.79 L164.34,589.69 L166.8,589.65 L169.27,589.69 L171.73,589.79 L174.19,589.96 L176.65,590.18 L179.11,590.47 L181.58,590.81 L184.04,591.2 L186.5,591.65 L188.96,592.16 L191.42,592.71 L193.89,593.31 L196.35,593.95 L198.81,594.65 L201.27,595.38 L203.73,596.16 L206.2,596.97 L208.66,597.83 L211.12,598.72 L213.58,599.65 L216.04,600.62 L218.51,601.61 L220.97,602.64 L223.43,603.7 L225.89,604.79 L228.35,605.91 L230.82,607.05 L233.28,608.22 L235.74,609.42 L238.2,610.64 L240.66,611.88 L243.13,613.14 L245.59,614.41 L248.05,615.71 L250.51,617.03 L252.97,618.36 L255.44,619.7 L257.9,621.06 L260.36,622.44 L262.82,623.82 L265.28,625.21 L267.75,626.62 L270.21,628.03 L272.67,629.45 L275.13,630.87 L277.59,632.3 L280.06,633.73 L282.52,635.17 L284.98,636.61 L287.44,638.04 L289.9,639.48 L292.37,640.91 L294.83,642.34 L297.29,643.77 L299.75,645.19 L302.21,646.61 L304.68,648.02 L307.14,649.42 L309.6,650.81 L312.06,652.19 L314.52,653.56" fill="none" stroke="rgba(160,178,210,0.5)" stroke-width="5.0" clip-path="url(#c4)"/>
<path d="M71.4,737.3 L71.41,734.93 L71.43,732.56 L71.47,730.19 L71.52,727.83 L71.59,725.46 L71.68,723.1 L71.78,720.74 L71.9,718.38 L72.03,716.03 L72.18,713.69 L72.34,711.34 L72.52,709.01 L72.72,706.68 L72.93,704.35 L73.15,702.04 L73.39,699.73 L73.65,697.42 L73.92,695.13 L74.21,692.85 L74.52,690.57 L74.84,688.31 L75.17,686.05 L75.52,683.81 L75.89,681.58 L76.27,679.36 L76.67,677.15 L77.08,674.95 L77.51,672.77 L77.95,670.6 L78.41,668.45 L78.89,666.31 L79.38,664.19 L79.88,662.08 L80.41,659.99 L80.94,657.91 L81.5,655.85 L82.07,653.81 L82.65,651.79 L83.25,649.79 L83.87,647.8 L84.5,645.83 L85.14,643.89 L85.81,641.96 L86.48,640.06 L87.18,638.17 L87.89,636.31 L88.61,634.47 L89.35,632.65 L90.11,630.86 L90.88,629.09 L91.66,627.34 L92.47,625.62 L93.29,623.92 L94.12,622.24 L94.97,620.6 L95.83,618.97 L96.71,617.38 L97.61,615.81 L98.52,614.27 L99.45,612.75 L100.39,611.26 L101.35,609.8 L102.32,608.37 L103.31,606.97 L104.32,605.6 L105.34,604.26 L106.37,602.95 L107.43,601.66 L108.49,600.41 L109.58,599.19 L110.68,598.01 L111.79,596.85 L112.92,595.72 L114.06,594.63 L115.23,593.57 L116.4,592.55 L117.59,591.56 L118.8,590.6 L120.02,589.67 L122.49,587.95 L124.95,586.39 L127.41,585 L129.87,583.77 L132.34,582.68 L134.8,581.73 L137.26,580.91 L139.72,580.21 L142.18,579.64 L144.65,579.18 L147.11,578.83 L149.57,578.58 L152.03,578.43 L154.49,578.38 L156.96,578.43 L159.42,578.56 L161.88,578.78 L164.34,579.08 L166.8,579.46 L169.27,579.92 L171.73,580.45 L174.19,581.05 L176.65,581.72 L179.11,582.46 L181.58,583.26 L184.04,584.13 L186.5,585.05 L188.96,586.03 L191.42,587.07 L193.89,588.16 L196.35,589.31 L198.81,590.5 L201.27,591.75 L203.73,593.04 L206.2,594.38 L208.66,595.76 L211.12,597.18 L213.58,598.65 L216.04,600.15 L218.51,601.7 L220.97,603.28 L223.43,604.9 L225.89,606.55 L228.35,608.24 L230.82,609.95 L233.28,611.7 L235.74,613.48 L238.2,615.29 L240.66,617.13 L243.13,618.99 L245.59,620.88 L248.05,622.8 L250.51,624.73 L252.97,626.69 L255.44,628.68 L257.9,630.68 L260.36,632.7 L262.82,634.75 L265.28,636.81 L267.75,638.89 L270.21,640.98 L272.67,643.09 L275.13,645.22 L277.59,647.36 L280.06,649.51 L282.52,651.68 L284.98,653.85 L287.44,656.04 L289.9,658.24 L292.37,660.45 L294.83,662.66 L297.29,664.89 L299.75,667.12 L302.21,669.36 L304.68,671.6 L307.14,673.85 L309.6,676.1 L312.06,678.36 L314.52,680.62" fill="none" stroke="#ff0000" stroke-width="2.2" stroke-linecap="butt" stroke-linejoin="round" clip-path="url(#c4)"/>
<path d="M71.4,737.3 L71.41,735.28 L71.43,733.25 L71.47,731.23 L71.52,729.21 L71.59,727.19 L71.68,725.17 L71.78,723.15 L71.9,721.14 L72.03,719.13 L72.18,717.12 L72.34,715.11 L72.52,713.11 L72.72,711.12 L72.93,709.12 L73.15,707.13 L73.39,705.15 L73.65,703.17 L73.92,701.2 L74.21,699.24 L74.52,697.28 L74.84,695.33 L75.17,693.38 L75.52,691.44 L75.89,689.51 L76.27,687.59 L76.67,685.68 L77.08,683.77 L77.51,681.88 L77.95,679.99 L78.41,678.12 L78.89,676.25 L79.38,674.4 L79.88,672.55 L80.41,670.72 L80.94,668.9 L81.5,667.09 L82.07,665.29 L82.65,663.51 L83.25,661.74 L83.87,659.98 L84.5,658.23 L85.14,656.5 L85.81,654.79 L86.48,653.09 L87.18,651.4 L87.89,649.73 L88.61,648.07 L89.35,646.44 L90.11,644.81 L90.88,643.21 L91.66,641.62 L92.47,640.05 L93.29,638.49 L94.12,636.96 L94.97,635.44 L95.83,633.94 L96.71,632.46 L97.61,631 L98.52,629.56 L99.45,628.14 L100.39,626.74 L101.35,625.37 L102.32,624.01 L103.31,622.67 L104.32,621.36 L105.34,620.07 L106.37,618.8 L107.43,617.55 L108.49,616.33 L109.58,615.13 L110.68,613.95 L111.79,612.8 L112.92,611.67 L114.06,610.57 L115.23,609.49 L116.4,608.44 L117.59,607.41 L118.8,606.41 L120.02,605.43 L122.49,603.58 L124.95,601.88 L127.41,600.32 L129.87,598.88 L132.34,597.58 L134.8,596.39 L137.26,595.31 L139.72,594.34 L142.18,593.47 L144.65,592.7 L147.11,592.03 L149.57,591.45 L152.03,590.95 L154.49,590.54 L156.96,590.22 L159.42,589.96 L161.88,589.79 L164.34,589.69 L166.8,589.65 L169.27,589.69 L171.73,589.79 L174.19,589.96 L176.65,590.18 L179.11,590.47 L181.58,590.81 L184.04,591.2 L186.5,591.65 L188.96,592.16 L191.42,592.71 L193.89,593.31 L196.35,593.95 L198.81,594.65 L201.27,595.38 L203.73,596.16 L206.2,596.97 L208.66,597.83 L211.12,598.72 L213.58,599.65 L216.04,600.62 L218.51,601.61 L220.97,602.64 L223.43,603.7 L225.89,604.79 L228.35,605.91 L230.82,607.05 L233.28,608.22 L235.74,609.42 L238.2,610.64 L240.66,611.88 L243.13,613.14 L245.59,614.41 L248.05,615.71 L250.51,617.03 L252.97,618.36 L255.44,619.7 L257.9,621.06 L260.36,622.44 L262.82,623.82 L265.28,625.21 L267.75,626.62 L270.21,628.03 L272.67,629.45 L275.13,630.87 L277.59,632.3 L280.06,633.73 L282.52,635.17 L284.98,636.61 L287.44,638.04 L289.9,639.48 L292.37,640.91 L294.83,642.34 L297.29,643.77 L299.75,645.19 L302.21,646.61 L304.68,648.02 L307.14,649.42 L309.6,650.81 L312.06,652.19 L314.52,653.56" fill="none" stroke="#0000ff" stroke-width="2.2" stroke-dasharray="7.2,3.1" stroke-linecap="butt" stroke-linejoin="round" clip-path="url(#c4)"/>
<path d="M71.4,737.3 L71.41,735.28 L71.43,733.25 L71.47,731.23 L71.52,729.21 L71.59,727.19 L71.68,725.17 L71.78,723.15 L71.9,721.14 L72.03,719.13 L72.18,717.12 L72.34,715.11 L72.52,713.11 L72.72,711.12 L72.93,709.12 L73.15,707.13 L73.39,705.15 L73.65,703.17 L73.92,701.2 L74.21,699.24 L74.52,697.28 L74.84,695.33 L75.17,693.38 L75.52,691.44 L75.89,689.51 L76.27,687.59 L76.67,685.68 L77.08,683.77 L77.51,681.88 L77.95,679.99 L78.41,678.12 L78.89,676.25 L79.38,674.4 L79.88,672.55 L80.41,670.72 L80.94,668.9 L81.5,667.09 L82.07,665.29 L82.65,663.51 L83.25,661.74 L83.87,659.98 L84.5,658.23 L85.14,656.5 L85.81,654.79 L86.48,653.09 L87.18,651.4 L87.89,649.73 L88.61,648.07 L89.35,646.44 L90.11,644.81 L90.88,643.21 L91.66,641.62 L92.47,640.05 L93.29,638.49 L94.12,636.96 L94.97,635.44 L95.83,633.94 L96.71,632.46 L97.61,631 L98.52,629.56 L99.45,628.14 L100.39,626.74 L101.35,625.37 L102.32,624.01 L103.31,622.67 L104.32,621.36 L105.34,620.07 L106.37,618.8 L107.43,617.55 L108.49,616.33 L109.58,615.13 L110.68,613.95 L111.79,612.8 L112.92,611.67 L114.06,610.57 L115.23,609.49 L116.4,608.44 L117.59,607.41 L118.8,606.41 L120.02,605.43 L122.49,603.58 L124.95,601.88 L127.41,600.32 L129.87,598.88 L132.34,597.58 L134.8,596.39 L137.26,595.31 L139.72,594.34 L142.18,593.47 L144.65,592.7 L147.11,592.03 L149.57,591.45 L152.03,590.95 L154.49,590.54 L156.96,590.22 L159.42,589.96 L161.88,589.79 L164.34,589.69 L166.8,589.65 L169.27,589.69 L171.73,589.79 L174.19,589.96 L176.65,590.18 L179.11,590.47 L181.58,590.81 L184.04,591.2 L186.5,591.65 L188.96,592.16 L191.42,592.71 L193.89,593.31 L196.35,593.95 L198.81,594.65 L201.27,595.38 L203.73,596.16 L206.2,596.97 L208.66,597.83 L211.12,598.72 L213.58,599.65 L216.04,600.62 L218.51,601.61 L220.97,602.64 L223.43,603.7 L225.89,604.79 L228.35,605.91 L230.82,607.05 L233.28,608.22 L235.74,609.42 L238.2,610.64 L240.66,611.88 L243.13,613.14 L245.59,614.41 L248.05,615.71 L250.51,617.03 L252.97,618.36 L255.44,619.7 L257.9,621.06 L260.36,622.44 L262.82,623.82 L265.28,625.21 L267.75,626.62 L270.21,628.03 L272.67,629.45 L275.13,630.87 L277.59,632.3 L280.06,633.73 L282.52,635.17 L284.98,636.61 L287.44,638.04 L289.9,639.48 L292.37,640.91 L294.83,642.34 L297.29,643.77 L299.75,645.19 L302.21,646.61 L304.68,648.02 L307.14,649.42 L309.6,650.81 L312.06,652.19 L314.52,653.56" fill="none" stroke="#00bfbf" stroke-width="2.2" stroke-dasharray="1.95,3.25" stroke-linecap="butt" stroke-linejoin="round" clip-path="url(#c4)"/>
<line x1="316.8" y1="737.3" x2="316.8" y2="554.5" stroke="#999" stroke-width="1.9" stroke-dasharray="7,3.1"/>
<path d="M71.4,664.12H95.71M71.4,660.02V668.22M95.71,660.02V668.22" stroke="#000" stroke-width="2.0" fill="none"/><circle cx="83.56" cy="664.12" r="3.2" fill="rgba(0,0,0,0.72)" stroke="#000" stroke-width="2.2"/>
<path d="M95.71,619.52H120.02M95.71,615.42V623.62M120.02,615.42V623.62" stroke="#000" stroke-width="2.0" fill="none"/><circle cx="107.87" cy="619.52" r="3.2" fill="rgba(0,0,0,0.72)" stroke="#000" stroke-width="2.2"/>
<path d="M120.02,598.68H144.34M120.02,594.58V602.78M144.34,594.58V602.78" stroke="#000" stroke-width="2.0" fill="none"/><circle cx="132.18" cy="598.68" r="3.2" fill="rgba(0,0,0,0.72)" stroke="#000" stroke-width="2.2"/>
<path d="M144.34,588.39H168.65M144.34,584.29V592.49M168.65,584.29V592.49" stroke="#000" stroke-width="2.0" fill="none"/><circle cx="156.49" cy="588.39" r="3.2" fill="rgba(0,0,0,0.72)" stroke="#000" stroke-width="2.2"/>
<path d="M168.65,589.48H192.96M168.65,585.38V593.58M192.96,585.38V593.58" stroke="#000" stroke-width="2.0" fill="none"/><circle cx="180.81" cy="589.48" r="3.2" fill="rgba(0,0,0,0.72)" stroke="#000" stroke-width="2.2"/>
<path d="M192.96,597.22H217.27M192.96,593.12V601.32M217.27,593.12V601.32" stroke="#000" stroke-width="2.0" fill="none"/><circle cx="205.12" cy="597.22" r="3.2" fill="rgba(0,0,0,0.72)" stroke="#000" stroke-width="2.2"/>
<path d="M217.27,607.21H241.59M217.27,603.11V611.31M241.59,603.11V611.31" stroke="#000" stroke-width="2.0" fill="none"/><circle cx="229.43" cy="607.21" r="3.2" fill="rgba(0,0,0,0.72)" stroke="#000" stroke-width="2.2"/>
<path d="M241.59,620.13H265.9M241.59,616.03V624.23M265.9,616.03V624.23" stroke="#000" stroke-width="2.0" fill="none"/><circle cx="253.74" cy="620.13" r="3.2" fill="rgba(0,0,0,0.72)" stroke="#000" stroke-width="2.2"/>
<path d="M265.9,632.62H290.21M265.9,628.52V636.72M290.21,628.52V636.72" stroke="#000" stroke-width="2.0" fill="none"/><circle cx="278.06" cy="632.62" r="3.2" fill="rgba(0,0,0,0.72)" stroke="#000" stroke-width="2.2"/>
<path d="M429.45,725.94 L431.47,723.16 L433.5,720.42 L435.52,717.69 L437.55,715 L439.57,712.32 L441.59,709.67 L443.62,707.05 L445.64,704.45 L447.67,701.87 L449.69,699.32 L451.72,696.8 L453.74,694.29 L455.76,691.82 L457.79,689.36 L459.81,686.93 L461.84,684.53 L463.86,682.15 L465.88,679.79 L467.91,677.46 L469.93,675.16 L471.96,672.87 L473.98,670.62 L476.01,668.38 L478.03,666.18 L480.05,663.99 L482.08,661.83 L484.1,659.7 L486.13,657.59 L488.15,655.5 L490.17,653.44 L492.2,651.4 L494.22,649.39 L496.25,647.4 L498.27,645.44 L500.3,643.5 L502.32,641.58 L504.34,639.69 L506.37,637.83 L508.39,635.99 L510.42,634.17 L512.44,632.38 L514.46,630.61 L516.49,628.87 L518.51,627.15 L520.54,625.45 L522.56,623.78 L524.59,622.14 L526.61,620.52 L528.63,618.92 L530.66,617.35 L532.68,615.8 L534.71,614.28 L536.73,612.78 L538.75,611.3 L540.78,609.86 L542.8,608.43 L544.83,607.03 L546.85,605.65 L548.88,604.3 L550.9,602.97 L552.92,601.67 L554.95,600.39 L556.97,599.14 L559,597.91 L561.02,596.71 L563.04,595.53 L565.07,594.37 L567.09,593.24 L569.12,592.13 L571.14,591.05 L573.17,589.99 L575.19,588.96 L577.21,587.95 L579.24,586.97 L581.26,586.02 L583.29,585.1 L585.31,584.2 L587.34,583.34 L589.36,582.5 L591.38,581.69 L593.41,580.91 L595.43,580.16 L597.46,579.43 L599.48,578.74 L601.5,578.07 L603.53,577.43 L605.55,576.82 L607.58,576.23 L609.6,575.68 L611.62,575.15 L613.65,574.65 L615.67,574.18 L617.7,573.74 L619.72,573.33 L621.75,572.94 L623.77,572.58 L625.79,572.25 L627.82,571.95 L629.84,571.68 L631.87,571.43 L633.89,571.22 L635.91,571.03 L637.94,570.87 L639.96,570.74 L641.99,570.64 L644.01,570.56 L646.04,570.51 L648.06,570.49 L650.08,570.5 L652.11,570.54 L654.13,570.61 L656.16,570.7 L658.18,570.82 L660.2,570.98 L662.23,571.15 L664.25,571.36 L666.28,571.6 L668.3,571.86 L670.33,572.15 L672.35,572.47 L672.35,558.46 L670.33,558.54 L668.3,558.64 L666.28,558.76 L664.25,558.9 L662.23,559.07 L660.2,559.25 L658.18,559.45 L656.16,559.67 L654.13,559.91 L652.11,560.17 L650.08,560.45 L648.06,560.74 L646.04,561.06 L644.01,561.4 L641.99,561.76 L639.96,562.14 L637.94,562.54 L635.91,562.96 L633.89,563.39 L631.87,563.85 L629.84,564.33 L627.82,564.83 L625.79,565.34 L623.77,565.88 L621.75,566.44 L619.72,567.01 L617.7,567.61 L615.67,568.22 L613.65,568.86 L611.62,569.51 L609.6,570.19 L607.58,570.88 L605.55,571.6 L603.53,572.33 L601.5,573.09 L599.48,573.86 L597.46,574.66 L595.43,575.47 L593.41,576.3 L591.38,577.16 L589.36,578.03 L587.34,578.92 L585.31,579.83 L583.29,580.77 L581.26,581.72 L579.24,582.69 L577.21,583.68 L575.19,584.69 L573.17,585.72 L571.14,586.78 L569.12,587.86 L567.09,588.97 L565.07,590.09 L563.04,591.24 L561.02,592.42 L559,593.61 L556.97,594.84 L554.95,596.08 L552.92,597.35 L550.9,598.64 L548.88,599.96 L546.85,601.3 L544.83,602.66 L542.8,604.04 L540.78,605.45 L538.75,606.89 L536.73,608.34 L534.71,609.82 L532.68,611.33 L530.66,612.86 L528.63,614.41 L526.61,615.98 L524.59,617.58 L522.56,619.2 L520.54,620.84 L518.51,622.51 L516.49,624.21 L514.46,625.92 L512.44,627.66 L510.42,629.42 L508.39,631.21 L506.37,633.02 L504.34,634.85 L502.32,636.71 L500.3,638.59 L498.27,640.49 L496.25,642.42 L494.22,644.37 L492.2,646.35 L490.17,648.34 L488.15,650.37 L486.13,652.41 L484.1,654.48 L482.08,656.57 L480.05,658.69 L478.03,660.83 L476.01,662.99 L473.98,665.18 L471.96,667.39 L469.93,669.62 L467.91,671.88 L465.88,674.16 L463.86,676.46 L461.84,678.79 L459.81,681.14 L457.79,683.52 L455.76,685.91 L453.74,688.34 L451.72,690.78 L449.69,693.25 L447.67,695.74 L445.64,698.26 L443.62,700.8 L441.59,703.36 L439.57,705.95 L437.55,708.56 L435.52,711.19 L433.5,713.85 L431.47,716.53 L429.45,719.23Z" fill="#f7a98f" stroke="none" clip-path="url(#c5)"/>
<path d="M429.45,724.6 L431.47,721.36 L433.5,718.17 L435.52,715.01 L437.55,711.88 L439.57,708.79 L441.59,705.74 L443.62,702.72 L445.64,699.74 L447.67,696.8 L449.69,693.88 L451.72,691.01 L453.74,688.17 L455.76,685.37 L457.79,682.6 L459.81,679.87 L461.84,677.17 L463.86,674.51 L465.88,671.88 L467.91,669.29 L469.93,666.74 L471.96,664.22 L473.98,661.74 L476.01,659.29 L478.03,656.88 L480.05,654.5 L482.08,652.16 L484.1,649.86 L486.13,647.59 L488.15,645.35 L490.17,643.16 L492.2,640.99 L494.22,638.87 L496.25,636.78 L498.27,634.72 L500.3,632.7 L502.32,630.72 L504.34,628.77 L506.37,626.86 L508.39,624.98 L510.42,623.14 L512.44,621.33 L514.46,619.56 L516.49,617.83 L518.51,616.13 L520.54,614.47 L522.56,612.84 L524.59,611.25 L526.61,609.69 L528.63,608.17 L530.66,606.69 L532.68,605.24 L534.71,603.83 L536.73,602.45 L538.75,601.11 L540.78,599.8 L542.8,598.53 L544.83,597.29 L546.85,596.09 L548.88,594.93 L550.9,593.8 L552.92,592.71 L554.95,591.65 L556.97,590.63 L559,589.64 L561.02,588.69 L563.04,587.78 L565.07,586.9 L567.09,586.06 L569.12,585.25 L571.14,584.48 L573.17,583.74 L575.19,583.04 L577.21,582.38 L579.24,581.75 L581.26,581.15 L583.29,580.59 L585.31,580.07 L587.34,579.59 L589.36,579.13 L591.38,578.72 L593.41,578.34 L595.43,578 L597.46,577.69 L599.48,577.41 L601.5,577.18 L603.53,576.98 L605.55,576.81 L607.58,576.68 L609.6,576.58 L611.62,576.53 L613.65,576.5 L615.67,576.51 L617.7,576.56 L619.72,576.65 L621.75,576.77 L623.77,576.92 L625.79,577.11 L627.82,577.34 L629.84,577.6 L631.87,577.9 L633.89,578.23 L635.91,578.6 L637.94,579 L639.96,579.44 L641.99,579.92 L644.01,580.43 L646.04,580.98 L648.06,581.56 L650.08,582.18 L652.11,582.83 L654.13,583.52 L656.16,584.25 L658.18,585.01 L660.2,585.8 L662.23,586.64 L664.25,587.5 L666.28,588.41 L668.3,589.35 L670.33,590.32 L672.35,591.33" fill="none" stroke="rgba(160,178,210,0.5)" stroke-width="5.0" clip-path="url(#c5)"/>
<path d="M429.45,722.58 L431.47,719.85 L433.5,717.13 L435.52,714.44 L437.55,711.78 L439.57,709.14 L441.59,706.52 L443.62,703.92 L445.64,701.35 L447.67,698.81 L449.69,696.29 L451.72,693.79 L453.74,691.31 L455.76,688.86 L457.79,686.44 L459.81,684.04 L461.84,681.66 L463.86,679.31 L465.88,676.98 L467.91,674.67 L469.93,672.39 L471.96,670.13 L473.98,667.9 L476.01,665.69 L478.03,663.5 L480.05,661.34 L482.08,659.2 L484.1,657.09 L486.13,655 L488.15,652.93 L490.17,650.89 L492.2,648.87 L494.22,646.88 L496.25,644.91 L498.27,642.97 L500.3,641.04 L502.32,639.15 L504.34,637.27 L506.37,635.42 L508.39,633.6 L510.42,631.8 L512.44,630.02 L514.46,628.27 L516.49,626.54 L518.51,624.83 L520.54,623.15 L522.56,621.49 L524.59,619.86 L526.61,618.25 L528.63,616.66 L530.66,615.1 L532.68,613.56 L534.71,612.05 L536.73,610.56 L538.75,609.1 L540.78,607.65 L542.8,606.24 L544.83,604.84 L546.85,603.47 L548.88,602.13 L550.9,600.81 L552.92,599.51 L554.95,598.24 L556.97,596.99 L559,595.76 L561.02,594.56 L563.04,593.38 L565.07,592.23 L567.09,591.1 L569.12,590 L571.14,588.92 L573.17,587.86 L575.19,586.82 L577.21,585.82 L579.24,584.83 L581.26,583.87 L583.29,582.93 L585.31,582.02 L587.34,581.13 L589.36,580.26 L591.38,579.42 L593.41,578.61 L595.43,577.81 L597.46,577.04 L599.48,576.3 L601.5,575.58 L603.53,574.88 L605.55,574.21 L607.58,573.56 L609.6,572.93 L611.62,572.33 L613.65,571.76 L615.67,571.2 L617.7,570.67 L619.72,570.17 L621.75,569.69 L623.77,569.23 L625.79,568.8 L627.82,568.39 L629.84,568 L631.87,567.64 L633.89,567.31 L635.91,566.99 L637.94,566.7 L639.96,566.44 L641.99,566.2 L644.01,565.98 L646.04,565.79 L648.06,565.62 L650.08,565.47 L652.11,565.35 L654.13,565.26 L656.16,565.18 L658.18,565.14 L660.2,565.11 L662.23,565.11 L664.25,565.13 L666.28,565.18 L668.3,565.25 L670.33,565.35 L672.35,565.47" fill="none" stroke="#ff0000" stroke-width="2.2" stroke-linecap="butt" stroke-linejoin="round" clip-path="url(#c5)"/>
<path d="M429.45,724.6 L431.47,721.36 L433.5,718.17 L435.52,715.01 L437.55,711.88 L439.57,708.79 L441.59,705.74 L443.62,702.72 L445.64,699.74 L447.67,696.8 L449.69,693.88 L451.72,691.01 L453.74,688.17 L455.76,685.37 L457.79,682.6 L459.81,679.87 L461.84,677.17 L463.86,674.51 L465.88,671.88 L467.91,669.29 L469.93,666.74 L471.96,664.22 L473.98,661.74 L476.01,659.29 L478.03,656.88 L480.05,654.5 L482.08,652.16 L484.1,649.86 L486.13,647.59 L488.15,645.35 L490.17,643.16 L492.2,640.99 L494.22,638.87 L496.25,636.78 L498.27,634.72 L500.3,632.7 L502.32,630.72 L504.34,628.77 L506.37,626.86 L508.39,624.98 L510.42,623.14 L512.44,621.33 L514.46,619.56 L516.49,617.83 L518.51,616.13 L520.54,614.47 L522.56,612.84 L524.59,611.25 L526.61,609.69 L528.63,608.17 L530.66,606.69 L532.68,605.24 L534.71,603.83 L536.73,602.45 L538.75,601.11 L540.78,599.8 L542.8,598.53 L544.83,597.29 L546.85,596.09 L548.88,594.93 L550.9,593.8 L552.92,592.71 L554.95,591.65 L556.97,590.63 L559,589.64 L561.02,588.69 L563.04,587.78 L565.07,586.9 L567.09,586.06 L569.12,585.25 L571.14,584.48 L573.17,583.74 L575.19,583.04 L577.21,582.38 L579.24,581.75 L581.26,581.15 L583.29,580.59 L585.31,580.07 L587.34,579.59 L589.36,579.13 L591.38,578.72 L593.41,578.34 L595.43,578 L597.46,577.69 L599.48,577.41 L601.5,577.18 L603.53,576.98 L605.55,576.81 L607.58,576.68 L609.6,576.58 L611.62,576.53 L613.65,576.5 L615.67,576.51 L617.7,576.56 L619.72,576.65 L621.75,576.77 L623.77,576.92 L625.79,577.11 L627.82,577.34 L629.84,577.6 L631.87,577.9 L633.89,578.23 L635.91,578.6 L637.94,579 L639.96,579.44 L641.99,579.92 L644.01,580.43 L646.04,580.98 L648.06,581.56 L650.08,582.18 L652.11,582.83 L654.13,583.52 L656.16,584.25 L658.18,585.01 L660.2,585.8 L662.23,586.64 L664.25,587.5 L666.28,588.41 L668.3,589.35 L670.33,590.32 L672.35,591.33" fill="none" stroke="#0000ff" stroke-width="2.2" stroke-dasharray="7.2,3.1" stroke-linecap="butt" stroke-linejoin="round" clip-path="url(#c5)"/>
<path d="M429.45,724.6 L431.47,721.36 L433.5,718.17 L435.52,715.01 L437.55,711.88 L439.57,708.79 L441.59,705.74 L443.62,702.72 L445.64,699.74 L447.67,696.8 L449.69,693.88 L451.72,691.01 L453.74,688.17 L455.76,685.37 L457.79,682.6 L459.81,679.87 L461.84,677.17 L463.86,674.51 L465.88,671.88 L467.91,669.29 L469.93,666.74 L471.96,664.22 L473.98,661.74 L476.01,659.29 L478.03,656.88 L480.05,654.5 L482.08,652.16 L484.1,649.86 L486.13,647.59 L488.15,645.35 L490.17,643.16 L492.2,640.99 L494.22,638.87 L496.25,636.78 L498.27,634.72 L500.3,632.7 L502.32,630.72 L504.34,628.77 L506.37,626.86 L508.39,624.98 L510.42,623.14 L512.44,621.33 L514.46,619.56 L516.49,617.83 L518.51,616.13 L520.54,614.47 L522.56,612.84 L524.59,611.25 L526.61,609.69 L528.63,608.17 L530.66,606.69 L532.68,605.24 L534.71,603.83 L536.73,602.45 L538.75,601.11 L540.78,599.8 L542.8,598.53 L544.83,597.29 L546.85,596.09 L548.88,594.93 L550.9,593.8 L552.92,592.71 L554.95,591.65 L556.97,590.63 L559,589.64 L561.02,588.69 L563.04,587.78 L565.07,586.9 L567.09,586.06 L569.12,585.25 L571.14,584.48 L573.17,583.74 L575.19,583.04 L577.21,582.38 L579.24,581.75 L581.26,581.15 L583.29,580.59 L585.31,580.07 L587.34,579.59 L589.36,579.13 L591.38,578.72 L593.41,578.34 L595.43,578 L597.46,577.69 L599.48,577.41 L601.5,577.18 L603.53,576.98 L605.55,576.81 L607.58,576.68 L609.6,576.58 L611.62,576.53 L613.65,576.5 L615.67,576.51 L617.7,576.56 L619.72,576.65 L621.75,576.77 L623.77,576.92 L625.79,577.11 L627.82,577.34 L629.84,577.6 L631.87,577.9 L633.89,578.23 L635.91,578.6 L637.94,579 L639.96,579.44 L641.99,579.92 L644.01,580.43 L646.04,580.98 L648.06,581.56 L650.08,582.18 L652.11,582.83 L654.13,583.52 L656.16,584.25 L658.18,585.01 L660.2,585.8 L662.23,586.64 L664.25,587.5 L666.28,588.41 L668.3,589.35 L670.33,590.32 L672.35,591.33" fill="none" stroke="#00bfbf" stroke-width="2.2" stroke-dasharray="1.95,3.25" stroke-linecap="butt" stroke-linejoin="round" clip-path="url(#c5)"/>
<path d="M429.45,710.31H453.74M429.45,706.21V714.41M453.74,706.21V714.41M441.59,715.64V704.97M437.49,715.64H445.69M437.49,704.97H445.69" stroke="#000" stroke-width="2.0" fill="none"/><circle cx="441.59" cy="710.31" r="3.3" fill="none" stroke="#000" stroke-width="2.0"/>
<path d="M453.74,679.6H478.03M453.74,675.5V683.7M478.03,675.5V683.7M465.88,686.3V672.89M461.78,686.3H469.99M461.78,672.89H469.99" stroke="#000" stroke-width="2.0" fill="none"/><circle cx="465.88" cy="679.6" r="3.3" fill="none" stroke="#000" stroke-width="2.0"/>
<path d="M478.03,636.3H502.32M478.03,632.2V640.4M502.32,632.2V640.4M490.17,643.61V628.99M486.07,643.61H494.27M486.07,628.99H494.27" stroke="#000" stroke-width="2.0" fill="none"/><circle cx="490.17" cy="636.3" r="3.3" fill="none" stroke="#000" stroke-width="2.0"/>
<path d="M502.32,624.88H526.61M502.32,620.78V628.98M526.61,620.78V628.98M514.47,621.58V628.18" stroke="#000" stroke-width="2.0" fill="none"/><circle cx="514.47" cy="624.88" r="3.3" fill="none" stroke="#000" stroke-width="2.0"/>
<path d="M526.61,606.29H550.9M526.61,602.19V610.39M550.9,602.19V610.39M538.75,602.99V609.59" stroke="#000" stroke-width="2.0" fill="none"/><circle cx="538.75" cy="606.29" r="3.3" fill="none" stroke="#000" stroke-width="2.0"/>
<path d="M550.9,585.27H575.19M550.9,581.17V589.37M575.19,581.17V589.37M563.04,581.97V588.57" stroke="#000" stroke-width="2.0" fill="none"/><circle cx="563.04" cy="585.27" r="3.3" fill="none" stroke="#000" stroke-width="2.0"/>
<path d="M575.19,573.69H599.48M575.19,569.59V577.79M599.48,569.59V577.79M587.34,570.39V576.99" stroke="#000" stroke-width="2.0" fill="none"/><circle cx="587.34" cy="573.69" r="3.3" fill="none" stroke="#000" stroke-width="2.0"/>
<path d="M599.48,572.29H623.77M599.48,568.19V576.39M623.77,568.19V576.39M611.62,568.99V575.59" stroke="#000" stroke-width="2.0" fill="none"/><circle cx="611.62" cy="572.29" r="3.3" fill="none" stroke="#000" stroke-width="2.0"/>
<path d="M623.77,581.92H648.06M623.77,577.82V586.02M648.06,577.82V586.02M635.91,578.62V585.22" stroke="#000" stroke-width="2.0" fill="none"/><circle cx="635.91" cy="581.92" r="3.3" fill="none" stroke="#000" stroke-width="2.0"/>
<path d="M71.64,883.79 L73.66,886.21 L75.69,888.6 L77.71,890.94 L79.73,893.24 L81.75,895.5 L83.78,897.72 L85.8,899.9 L87.82,902.04 L89.84,904.13 L91.87,906.19 L93.89,908.21 L95.91,910.18 L97.93,912.11 L99.96,914.01 L101.98,915.86 L104,917.67 L106.03,919.45 L108.05,921.18 L110.07,922.87 L112.09,924.52 L114.12,926.12 L116.14,927.69 L118.16,929.22 L120.18,930.73 L122.21,932.61 L124.23,934.43 L126.25,936.2 L128.27,937.92 L130.3,939.59 L132.32,941.2 L134.34,942.76 L136.37,944.27 L138.39,945.72 L140.41,947.13 L142.43,948.48 L144.46,949.77 L146.48,951.01 L148.5,952.2 L150.52,953.34 L152.55,954.43 L154.57,955.46 L156.59,956.44 L158.61,957.36 L160.64,958.23 L162.66,959.05 L164.68,959.82 L166.71,960.53 L168.73,961.2 L170.75,961.8 L172.77,962.36 L174.8,962.86 L176.82,963.31 L178.84,963.71 L180.86,964.05 L182.89,964.34 L184.91,964.58 L186.93,964.77 L188.95,964.9 L190.98,964.98 L193,965 L195.02,964.98 L197.05,964.9 L199.07,964.77 L201.09,964.58 L203.11,964.34 L205.14,964.05 L207.16,963.71 L209.18,963.31 L211.2,962.86 L213.23,962.36 L215.25,961.8 L217.27,961.2 L219.29,960.53 L221.32,959.82 L223.34,959.05 L225.36,958.23 L227.39,957.36 L229.41,956.44 L231.43,955.46 L233.45,954.43 L235.48,953.34 L237.5,952.2 L239.52,951.01 L241.54,949.77 L243.57,948.48 L245.59,947.13 L247.61,945.72 L249.63,944.27 L251.66,942.76 L253.68,941.2 L255.7,939.59 L257.73,937.92 L259.75,936.2 L261.77,934.43 L263.79,932.61 L265.82,930.73 L267.84,929.22 L269.86,927.69 L271.88,926.12 L273.91,924.52 L275.93,922.87 L277.95,921.18 L279.97,919.45 L282,917.67 L284.02,915.86 L286.04,914.01 L288.07,912.11 L290.09,910.18 L292.11,908.21 L294.13,906.19 L296.16,904.13 L298.18,902.04 L300.2,899.9 L302.22,897.72 L304.25,895.5 L306.27,893.24 L308.29,890.94 L310.31,888.6 L312.34,886.21 L314.36,883.79 L314.36,868.58 L312.34,871.73 L310.31,874.82 L308.29,877.86 L306.27,880.85 L304.25,883.79 L302.22,886.67 L300.2,889.5 L298.18,892.28 L296.16,895 L294.13,897.67 L292.11,900.29 L290.09,902.86 L288.07,905.37 L286.04,907.83 L284.02,910.23 L282,912.59 L279.97,914.89 L277.95,917.14 L275.93,919.33 L273.91,921.47 L271.88,923.56 L269.86,925.6 L267.84,927.58 L265.82,929.49 L263.79,930.93 L261.77,932.34 L259.75,933.7 L257.73,935.03 L255.7,936.31 L253.68,937.55 L251.66,938.75 L249.63,939.91 L247.61,941.03 L245.59,942.11 L243.57,943.15 L241.54,944.15 L239.52,945.11 L237.5,946.02 L235.48,946.9 L233.45,947.73 L231.43,948.53 L229.41,949.28 L227.39,949.99 L225.36,950.67 L223.34,951.3 L221.32,951.89 L219.29,952.44 L217.27,952.95 L215.25,953.41 L213.23,953.84 L211.2,954.23 L209.18,954.58 L207.16,954.88 L205.14,955.15 L203.11,955.37 L201.09,955.55 L199.07,955.7 L197.05,955.8 L195.02,955.86 L193,955.88 L190.98,955.86 L188.95,955.8 L186.93,955.7 L184.91,955.55 L182.89,955.37 L180.86,955.15 L178.84,954.88 L176.82,954.58 L174.8,954.23 L172.77,953.84 L170.75,953.41 L168.73,952.95 L166.71,952.44 L164.68,951.89 L162.66,951.3 L160.64,950.67 L158.61,949.99 L156.59,949.28 L154.57,948.53 L152.55,947.73 L150.52,946.9 L148.5,946.02 L146.48,945.11 L144.46,944.15 L142.43,943.15 L140.41,942.11 L138.39,941.03 L136.37,939.91 L134.34,938.75 L132.32,937.55 L130.3,936.31 L128.27,935.03 L126.25,933.7 L124.23,932.34 L122.21,930.93 L120.18,929.49 L118.16,927.58 L116.14,925.6 L114.12,923.56 L112.09,921.47 L110.07,919.33 L108.05,917.14 L106.03,914.89 L104,912.59 L101.98,910.23 L99.96,907.83 L97.93,905.37 L95.91,902.86 L93.89,900.29 L91.87,897.67 L89.84,895 L87.82,892.28 L85.8,889.5 L83.78,886.67 L81.75,883.79 L79.73,880.85 L77.71,877.86 L75.69,874.82 L73.66,871.73 L71.64,868.58Z" fill="#f7a98f" stroke="none" clip-path="url(#c6)"/>
<path d="M71.64,847.9 L73.66,852.1 L75.69,856.23 L77.71,860.29 L79.73,864.29 L81.75,868.21 L83.78,872.06 L85.8,875.83 L87.82,879.54 L89.84,883.18 L91.87,886.75 L93.89,890.24 L95.91,893.67 L97.93,897.03 L99.96,900.31 L101.98,903.52 L104,906.67 L106.03,909.74 L108.05,912.74 L110.07,915.67 L112.09,918.53 L114.12,921.32 L116.14,924.04 L118.16,926.69 L120.18,929.27 L122.21,931.78 L124.23,934.21 L126.25,936.58 L128.27,938.88 L130.3,941.1 L132.32,943.26 L134.34,945.34 L136.37,947.35 L138.39,949.29 L140.41,951.17 L142.43,952.97 L144.46,954.7 L146.48,956.36 L148.5,957.95 L150.52,959.47 L152.55,960.91 L154.57,962.29 L156.59,963.6 L158.61,964.83 L160.64,966 L162.66,967.1 L164.68,968.12 L166.71,969.07 L168.73,969.96 L170.75,970.77 L172.77,971.51 L174.8,972.18 L176.82,972.78 L178.84,973.31 L180.86,973.77 L182.89,974.16 L184.91,974.48 L186.93,974.72 L188.95,974.9 L190.98,975.01 L193,975.04 L195.02,975.01 L197.05,974.9 L199.07,974.72 L201.09,974.48 L203.11,974.16 L205.14,973.77 L207.16,973.31 L209.18,972.78 L211.2,972.18 L213.23,971.51 L215.25,970.77 L217.27,969.96 L219.29,969.07 L221.32,968.12 L223.34,967.1 L225.36,966 L227.39,964.83 L229.41,963.6 L231.43,962.29 L233.45,960.91 L235.48,959.47 L237.5,957.95 L239.52,956.36 L241.54,954.7 L243.57,952.97 L245.59,951.17 L247.61,949.29 L249.63,947.35 L251.66,945.34 L253.68,943.26 L255.7,941.1 L257.73,938.88 L259.75,936.58 L261.77,934.21 L263.79,931.78 L265.82,929.27 L267.84,926.69 L269.86,924.04 L271.88,921.32 L273.91,918.53 L275.93,915.67 L277.95,912.74 L279.97,909.74 L282,906.67 L284.02,903.52 L286.04,900.31 L288.07,897.03 L290.09,893.67 L292.11,890.24 L294.13,886.75 L296.16,883.18 L298.18,879.54 L300.2,875.83 L302.22,872.06 L304.25,868.21 L306.27,864.29 L308.29,860.29 L310.31,856.23 L312.34,852.1 L314.36,847.9" fill="none" stroke="rgba(160,178,210,0.5)" stroke-width="5.0" clip-path="url(#c6)"/>
<path d="M71.64,876.19 L73.66,878.97 L75.69,881.71 L77.71,884.4 L79.73,887.05 L81.75,889.64 L83.78,892.19 L85.8,894.7 L87.82,897.16 L89.84,899.57 L91.87,901.93 L93.89,904.25 L95.91,906.52 L97.93,908.74 L99.96,910.92 L101.98,913.05 L104,915.13 L106.03,917.17 L108.05,919.16 L110.07,921.1 L112.09,922.99 L114.12,924.84 L116.14,926.65 L118.16,928.4 L120.18,930.11 L122.21,931.77 L124.23,933.39 L126.25,934.95 L128.27,936.48 L130.3,937.95 L132.32,939.38 L134.34,940.76 L136.37,942.09 L138.39,943.38 L140.41,944.62 L142.43,945.81 L144.46,946.96 L146.48,948.06 L148.5,949.11 L150.52,950.12 L152.55,951.08 L154.57,951.99 L156.59,952.86 L158.61,953.68 L160.64,954.45 L162.66,955.18 L164.68,955.85 L166.71,956.49 L168.73,957.07 L170.75,957.61 L172.77,958.1 L174.8,958.55 L176.82,958.94 L178.84,959.29 L180.86,959.6 L182.89,959.86 L184.91,960.07 L186.93,960.23 L188.95,960.35 L190.98,960.42 L193,960.44 L195.02,960.42 L197.05,960.35 L199.07,960.23 L201.09,960.07 L203.11,959.86 L205.14,959.6 L207.16,959.29 L209.18,958.94 L211.2,958.55 L213.23,958.1 L215.25,957.61 L217.27,957.07 L219.29,956.49 L221.32,955.85 L223.34,955.18 L225.36,954.45 L227.39,953.68 L229.41,952.86 L231.43,951.99 L233.45,951.08 L235.48,950.12 L237.5,949.11 L239.52,948.06 L241.54,946.96 L243.57,945.81 L245.59,944.62 L247.61,943.38 L249.63,942.09 L251.66,940.76 L253.68,939.38 L255.7,937.95 L257.73,936.48 L259.75,934.95 L261.77,933.39 L263.79,931.77 L265.82,930.11 L267.84,928.4 L269.86,926.65 L271.88,924.84 L273.91,922.99 L275.93,921.1 L277.95,919.16 L279.97,917.17 L282,915.13 L284.02,913.05 L286.04,910.92 L288.07,908.74 L290.09,906.52 L292.11,904.25 L294.13,901.93 L296.16,899.57 L298.18,897.16 L300.2,894.7 L302.22,892.19 L304.25,889.64 L306.27,887.05 L308.29,884.4 L310.31,881.71 L312.34,878.97 L314.36,876.19" fill="none" stroke="#ff0000" stroke-width="2.2" stroke-linecap="butt" stroke-linejoin="round" clip-path="url(#c6)"/>
<path d="M71.64,847.9 L73.66,852.1 L75.69,856.23 L77.71,860.29 L79.73,864.29 L81.75,868.21 L83.78,872.06 L85.8,875.83 L87.82,879.54 L89.84,883.18 L91.87,886.75 L93.89,890.24 L95.91,893.67 L97.93,897.03 L99.96,900.31 L101.98,903.52 L104,906.67 L106.03,909.74 L108.05,912.74 L110.07,915.67 L112.09,918.53 L114.12,921.32 L116.14,924.04 L118.16,926.69 L120.18,929.27 L122.21,931.78 L124.23,934.21 L126.25,936.58 L128.27,938.88 L130.3,941.1 L132.32,943.26 L134.34,945.34 L136.37,947.35 L138.39,949.29 L140.41,951.17 L142.43,952.97 L144.46,954.7 L146.48,956.36 L148.5,957.95 L150.52,959.47 L152.55,960.91 L154.57,962.29 L156.59,963.6 L158.61,964.83 L160.64,966 L162.66,967.1 L164.68,968.12 L166.71,969.07 L168.73,969.96 L170.75,970.77 L172.77,971.51 L174.8,972.18 L176.82,972.78 L178.84,973.31 L180.86,973.77 L182.89,974.16 L184.91,974.48 L186.93,974.72 L188.95,974.9 L190.98,975.01 L193,975.04 L195.02,975.01 L197.05,974.9 L199.07,974.72 L201.09,974.48 L203.11,974.16 L205.14,973.77 L207.16,973.31 L209.18,972.78 L211.2,972.18 L213.23,971.51 L215.25,970.77 L217.27,969.96 L219.29,969.07 L221.32,968.12 L223.34,967.1 L225.36,966 L227.39,964.83 L229.41,963.6 L231.43,962.29 L233.45,960.91 L235.48,959.47 L237.5,957.95 L239.52,956.36 L241.54,954.7 L243.57,952.97 L245.59,951.17 L247.61,949.29 L249.63,947.35 L251.66,945.34 L253.68,943.26 L255.7,941.1 L257.73,938.88 L259.75,936.58 L261.77,934.21 L263.79,931.78 L265.82,929.27 L267.84,926.69 L269.86,924.04 L271.88,921.32 L273.91,918.53 L275.93,915.67 L277.95,912.74 L279.97,909.74 L282,906.67 L284.02,903.52 L286.04,900.31 L288.07,897.03 L290.09,893.67 L292.11,890.24 L294.13,886.75 L296.16,883.18 L298.18,879.54 L300.2,875.83 L302.22,872.06 L304.25,868.21 L306.27,864.29 L308.29,860.29 L310.31,856.23 L312.34,852.1 L314.36,847.9" fill="none" stroke="#0000ff" stroke-width="2.2" stroke-dasharray="7.2,3.1" stroke-linecap="butt" stroke-linejoin="round" clip-path="url(#c6)"/>
<path d="M71.64,847.9 L73.66,852.1 L75.69,856.23 L77.71,860.29 L79.73,864.29 L81.75,868.21 L83.78,872.06 L85.8,875.83 L87.82,879.54 L89.84,883.18 L91.87,886.75 L93.89,890.24 L95.91,893.67 L97.93,897.03 L99.96,900.31 L101.98,903.52 L104,906.67 L106.03,909.74 L108.05,912.74 L110.07,915.67 L112.09,918.53 L114.12,921.32 L116.14,924.04 L118.16,926.69 L120.18,929.27 L122.21,931.78 L124.23,934.21 L126.25,936.58 L128.27,938.88 L130.3,941.1 L132.32,943.26 L134.34,945.34 L136.37,947.35 L138.39,949.29 L140.41,951.17 L142.43,952.97 L144.46,954.7 L146.48,956.36 L148.5,957.95 L150.52,959.47 L152.55,960.91 L154.57,962.29 L156.59,963.6 L158.61,964.83 L160.64,966 L162.66,967.1 L164.68,968.12 L166.71,969.07 L168.73,969.96 L170.75,970.77 L172.77,971.51 L174.8,972.18 L176.82,972.78 L178.84,973.31 L180.86,973.77 L182.89,974.16 L184.91,974.48 L186.93,974.72 L188.95,974.9 L190.98,975.01 L193,975.04 L195.02,975.01 L197.05,974.9 L199.07,974.72 L201.09,974.48 L203.11,974.16 L205.14,973.77 L207.16,973.31 L209.18,972.78 L211.2,972.18 L213.23,971.51 L215.25,970.77 L217.27,969.96 L219.29,969.07 L221.32,968.12 L223.34,967.1 L225.36,966 L227.39,964.83 L229.41,963.6 L231.43,962.29 L233.45,960.91 L235.48,959.47 L237.5,957.95 L239.52,956.36 L241.54,954.7 L243.57,952.97 L245.59,951.17 L247.61,949.29 L249.63,947.35 L251.66,945.34 L253.68,943.26 L255.7,941.1 L257.73,938.88 L259.75,936.58 L261.77,934.21 L263.79,931.78 L265.82,929.27 L267.84,926.69 L269.86,924.04 L271.88,921.32 L273.91,918.53 L275.93,915.67 L277.95,912.74 L279.97,909.74 L282,906.67 L284.02,903.52 L286.04,900.31 L288.07,897.03 L290.09,893.67 L292.11,890.24 L294.13,886.75 L296.16,883.18 L298.18,879.54 L300.2,875.83 L302.22,872.06 L304.25,868.21 L306.27,864.29 L308.29,860.29 L310.31,856.23 L312.34,852.1 L314.36,847.9" fill="none" stroke="#00bfbf" stroke-width="2.2" stroke-dasharray="1.95,3.25" stroke-linecap="butt" stroke-linejoin="round" clip-path="url(#c6)"/>
<path d="M71.64,873.9H95.91M71.64,869.8V878M95.91,869.8V878" stroke="#000" stroke-width="2.0" fill="none"/><circle cx="83.78" cy="873.9" r="3.15" fill="none" stroke="#000" stroke-width="2.35"/>
<path d="M95.91,917.25H120.18M95.91,913.15V921.35M120.18,913.15V921.35" stroke="#000" stroke-width="2.0" fill="none"/><circle cx="108.05" cy="917.25" r="3.15" fill="none" stroke="#000" stroke-width="2.35"/>
<path d="M120.18,944.81H144.46M120.18,940.71V948.91M144.46,940.71V948.91" stroke="#000" stroke-width="2.0" fill="none"/><circle cx="132.32" cy="944.81" r="3.15" fill="none" stroke="#000" stroke-width="2.35"/>
<path d="M144.46,965.92H168.73M144.46,961.82V970.02M168.73,961.82V970.02" stroke="#000" stroke-width="2.0" fill="none"/><circle cx="156.59" cy="965.92" r="3.15" fill="none" stroke="#000" stroke-width="2.35"/>
<path d="M168.73,975.5H193M168.73,971.4V979.6M193,971.4V979.6" stroke="#000" stroke-width="2.0" fill="none"/><circle cx="180.86" cy="975.5" r="3.15" fill="none" stroke="#000" stroke-width="2.35"/>
<path d="M193,972.79H217.27M193,968.69V976.89M217.27,968.69V976.89" stroke="#000" stroke-width="2.0" fill="none"/><circle cx="205.14" cy="972.79" r="3.15" fill="none" stroke="#000" stroke-width="2.35"/>
<path d="M217.27,961.05H241.54M217.27,956.95V965.15M241.54,956.95V965.15" stroke="#000" stroke-width="2.0" fill="none"/><circle cx="229.41" cy="961.05" r="3.15" fill="none" stroke="#000" stroke-width="2.35"/>
<path d="M241.54,940.37H265.82M241.54,936.27V944.47M265.82,936.27V944.47" stroke="#000" stroke-width="2.0" fill="none"/><circle cx="253.68" cy="940.37" r="3.15" fill="none" stroke="#000" stroke-width="2.35"/>
<path d="M265.82,912.08H290.09M265.82,907.98V916.18M290.09,907.98V916.18" stroke="#000" stroke-width="2.0" fill="none"/><circle cx="277.95" cy="912.08" r="3.15" fill="none" stroke="#000" stroke-width="2.35"/>
<path d="M429.45,982.22 L430.46,982.11 L431.47,981.76 L432.49,981.2 L433.5,980.4 L434.51,979.39 L435.52,978.15 L436.53,976.7 L437.55,975.04 L438.56,973.16 L439.57,971.09 L440.58,968.81 L441.6,966.35 L442.61,963.7 L443.62,960.88 L444.63,957.88 L445.64,954.73 L446.66,951.42 L447.67,947.97 L448.68,944.38 L449.69,940.67 L450.7,936.85 L451.72,932.92 L452.73,928.9 L453.74,924.8 L454.75,920.63 L455.77,916.4 L456.78,912.12 L457.79,907.81 L458.8,903.47 L459.81,899.12 L460.83,895.18 L461.84,891.25 L462.85,887.34 L463.86,883.47 L464.87,879.63 L465.89,875.85 L466.9,872.13 L467.91,868.49 L468.92,864.93 L469.93,861.47 L470.95,858.11 L471.96,854.86 L472.97,851.73 L473.98,848.73 L475,845.87 L476.01,843.16 L477.02,840.6 L478.03,838.2 L479.04,835.96 L480.06,833.9 L481.07,832.02 L482.08,830.32 L483.09,828.81 L484.1,827.5 L485.12,826.38 L486.13,825.46 L487.14,824.74 L488.15,824.22 L489.16,823.92 L490.18,823.81 L491.19,823.92 L492.2,824.22 L493.21,824.74 L494.23,825.46 L495.24,826.38 L496.25,827.5 L497.26,828.81 L498.27,830.32 L499.29,832.02 L500.3,833.9 L501.31,835.96 L502.32,838.2 L503.33,840.6 L504.35,843.16 L505.36,845.87 L506.37,848.73 L507.38,851.73 L508.4,854.86 L509.41,858.11 L510.42,861.47 L511.43,864.93 L512.44,868.49 L513.46,872.13 L514.47,875.85 L515.48,879.63 L516.49,883.47 L517.5,887.34 L518.52,891.25 L519.53,895.18 L520.54,899.12 L521.55,903.47 L522.56,907.81 L523.58,912.12 L524.59,916.4 L525.6,920.63 L526.61,924.8 L527.63,928.9 L528.64,932.92 L529.65,936.85 L530.66,940.67 L531.67,944.38 L532.69,947.97 L533.7,951.42 L534.71,954.73 L535.72,957.88 L536.73,960.88 L537.75,963.7 L538.76,966.35 L539.77,968.81 L540.78,971.09 L541.79,973.16 L542.81,975.04 L543.82,976.7 L544.83,978.15 L545.84,979.39 L546.86,980.4 L547.87,981.2 L548.88,981.76 L549.89,982.11 L550.9,982.22 L551.92,982.11 L552.93,981.76 L553.94,981.2 L554.95,980.4 L555.96,979.39 L556.98,978.15 L557.99,976.7 L559,975.04 L560.01,973.16 L561.03,971.09 L562.04,968.81 L563.05,966.35 L564.06,963.7 L565.07,960.88 L566.09,957.88 L567.1,954.73 L568.11,951.42 L569.12,947.97 L570.13,944.38 L571.15,940.67 L572.16,936.85 L573.17,932.92 L574.18,928.9 L575.19,924.8 L576.21,920.63 L577.22,916.4 L578.23,912.12 L579.24,907.81 L580.26,903.47 L581.27,899.12 L582.28,895.18 L583.29,891.25 L584.3,887.34 L585.32,883.47 L586.33,879.63 L587.34,875.85 L588.35,872.13 L589.36,868.49 L590.38,864.93 L591.39,861.47 L592.4,858.11 L593.41,854.86 L594.42,851.73 L595.44,848.73 L596.45,845.87 L597.46,843.16 L598.47,840.6 L599.49,838.2 L600.5,835.96 L601.51,833.9 L602.52,832.02 L603.53,830.32 L604.55,828.81 L605.56,827.5 L606.57,826.38 L607.58,825.46 L608.59,824.74 L609.61,824.22 L610.62,823.92 L611.63,823.81 L612.64,823.92 L613.66,824.22 L614.67,824.74 L615.68,825.46 L616.69,826.38 L617.7,827.5 L618.72,828.81 L619.73,830.32 L620.74,832.02 L621.75,833.9 L622.76,835.96 L623.78,838.2 L624.79,840.6 L625.8,843.16 L626.81,845.87 L627.82,848.73 L628.84,851.73 L629.85,854.86 L630.86,858.11 L631.87,861.47 L632.89,864.93 L633.9,868.49 L634.91,872.13 L635.92,875.85 L636.93,879.63 L637.95,883.47 L638.96,887.34 L639.97,891.25 L640.98,895.18 L641.99,899.12 L643.01,903.47 L644.02,907.81 L645.03,912.12 L646.04,916.4 L647.06,920.63 L648.07,924.8 L649.08,928.9 L650.09,932.92 L651.1,936.85 L652.12,940.67 L653.13,944.38 L654.14,947.97 L655.15,951.42 L656.16,954.73 L657.18,957.88 L658.19,960.88 L659.2,963.7 L660.21,966.35 L661.22,968.81 L662.24,971.09 L663.25,973.16 L664.26,975.04 L665.27,976.7 L666.29,978.15 L667.3,979.39 L668.31,980.4 L669.32,981.2 L670.33,981.76 L671.35,982.11 L672.36,982.22 L672.36,972.97 L671.35,972.87 L670.33,972.56 L669.32,972.05 L668.31,971.33 L667.3,970.41 L666.29,969.29 L665.27,967.97 L664.26,966.46 L663.25,964.77 L662.24,962.88 L661.22,960.82 L660.21,958.59 L659.2,956.19 L658.19,953.63 L657.18,950.92 L656.16,948.06 L655.15,945.06 L654.14,941.93 L653.13,938.68 L652.12,935.32 L651.1,931.85 L650.09,928.29 L649.08,924.65 L648.07,920.94 L647.06,917.15 L646.04,913.32 L645.03,909.44 L644.02,905.54 L643.01,901.6 L641.99,897.66 L640.98,893.31 L639.97,888.98 L638.96,884.66 L637.95,880.39 L636.93,876.16 L635.92,871.98 L634.91,867.88 L633.9,863.86 L632.89,859.94 L631.87,856.11 L630.86,852.41 L629.85,848.82 L628.84,845.37 L627.82,842.06 L626.81,838.9 L625.8,835.91 L624.79,833.08 L623.78,830.44 L622.76,827.97 L621.75,825.7 L620.74,823.62 L619.73,821.75 L618.72,820.09 L617.7,818.63 L616.69,817.4 L615.68,816.38 L614.67,815.59 L613.66,815.02 L612.64,814.68 L611.63,814.57 L610.62,814.68 L609.61,815.02 L608.59,815.59 L607.58,816.38 L606.57,817.4 L605.56,818.63 L604.55,820.09 L603.53,821.75 L602.52,823.62 L601.51,825.7 L600.5,827.97 L599.49,830.44 L598.47,833.08 L597.46,835.91 L596.45,838.9 L595.44,842.06 L594.42,845.37 L593.41,848.82 L592.4,852.41 L591.39,856.11 L590.38,859.94 L589.36,863.86 L588.35,867.88 L587.34,871.98 L586.33,876.16 L585.32,880.39 L584.3,884.66 L583.29,888.98 L582.28,893.31 L581.27,897.66 L580.26,901.6 L579.24,905.54 L578.23,909.44 L577.22,913.32 L576.21,917.15 L575.19,920.94 L574.18,924.65 L573.17,928.29 L572.16,931.85 L571.15,935.32 L570.13,938.68 L569.12,941.93 L568.11,945.06 L567.1,948.06 L566.09,950.92 L565.07,953.63 L564.06,956.19 L563.05,958.59 L562.04,960.82 L561.03,962.88 L560.01,964.77 L559,966.46 L557.99,967.97 L556.98,969.29 L555.96,970.41 L554.95,971.33 L553.94,972.05 L552.93,972.56 L551.92,972.87 L550.9,972.97 L549.89,972.87 L548.88,972.56 L547.87,972.05 L546.86,971.33 L545.84,970.41 L544.83,969.29 L543.82,967.97 L542.81,966.46 L541.79,964.77 L540.78,962.88 L539.77,960.82 L538.76,958.59 L537.75,956.19 L536.73,953.63 L535.72,950.92 L534.71,948.06 L533.7,945.06 L532.69,941.93 L531.67,938.68 L530.66,935.32 L529.65,931.85 L528.64,928.29 L527.63,924.65 L526.61,920.94 L525.6,917.15 L524.59,913.32 L523.58,909.44 L522.56,905.54 L521.55,901.6 L520.54,897.66 L519.53,893.31 L518.52,888.98 L517.5,884.66 L516.49,880.39 L515.48,876.16 L514.47,871.98 L513.46,867.88 L512.44,863.86 L511.43,859.94 L510.42,856.11 L509.41,852.41 L508.4,848.82 L507.38,845.37 L506.37,842.06 L505.36,838.9 L504.35,835.91 L503.33,833.08 L502.32,830.44 L501.31,827.97 L500.3,825.7 L499.29,823.62 L498.27,821.75 L497.26,820.09 L496.25,818.63 L495.24,817.4 L494.23,816.38 L493.21,815.59 L492.2,815.02 L491.19,814.68 L490.18,814.57 L489.16,814.68 L488.15,815.02 L487.14,815.59 L486.13,816.38 L485.12,817.4 L484.1,818.63 L483.09,820.09 L482.08,821.75 L481.07,823.62 L480.06,825.7 L479.04,827.97 L478.03,830.44 L477.02,833.08 L476.01,835.91 L475,838.9 L473.98,842.06 L472.97,845.37 L471.96,848.82 L470.95,852.41 L469.93,856.11 L468.92,859.94 L467.91,863.86 L466.9,867.88 L465.89,871.98 L464.87,876.16 L463.86,880.39 L462.85,884.66 L461.84,888.98 L460.83,893.31 L459.81,897.66 L458.8,901.6 L457.79,905.54 L456.78,909.44 L455.77,913.32 L454.75,917.15 L453.74,920.94 L452.73,924.65 L451.72,928.29 L450.7,931.85 L449.69,935.32 L448.68,938.68 L447.67,941.93 L446.66,945.06 L445.64,948.06 L444.63,950.92 L443.62,953.63 L442.61,956.19 L441.6,958.59 L440.58,960.82 L439.57,962.88 L438.56,964.77 L437.55,966.46 L436.53,967.97 L435.52,969.29 L434.51,970.41 L433.5,971.33 L432.49,972.05 L431.47,972.56 L430.46,972.87 L429.45,972.97Z" fill="#f7a98f" stroke="none" clip-path="url(#c7)"/>
<path d="M429.45,970.54 L430.46,970.44 L431.47,970.15 L432.49,969.65 L433.5,968.97 L434.51,968.09 L435.52,967.02 L436.53,965.76 L437.55,964.31 L438.56,962.69 L439.57,960.89 L440.58,958.92 L441.6,956.78 L442.61,954.49 L443.62,952.04 L444.63,949.44 L445.64,946.71 L446.66,943.84 L447.67,940.85 L448.68,937.74 L449.69,934.53 L450.7,931.21 L451.72,927.81 L452.73,924.33 L453.74,920.77 L454.75,917.16 L455.77,913.49 L456.78,909.78 L457.79,906.04 L458.8,902.28 L459.81,898.51 L460.83,894.75 L461.84,890.99 L462.85,887.25 L463.86,883.54 L464.87,879.87 L465.89,876.26 L466.9,872.7 L467.91,869.22 L468.92,865.82 L469.93,862.5 L470.95,859.29 L471.96,856.18 L472.97,853.19 L473.98,850.32 L475,847.58 L476.01,844.99 L477.02,842.54 L478.03,840.24 L479.04,838.11 L480.06,836.14 L481.07,834.34 L482.08,832.72 L483.09,831.27 L484.1,830.01 L485.12,828.94 L486.13,828.06 L487.14,827.38 L488.15,826.88 L489.16,826.59 L490.18,826.49 L491.19,826.59 L492.2,826.88 L493.21,827.38 L494.23,828.06 L495.24,828.94 L496.25,830.01 L497.26,831.27 L498.27,832.72 L499.29,834.34 L500.3,836.14 L501.31,838.11 L502.32,840.24 L503.33,842.54 L504.35,844.99 L505.36,847.58 L506.37,850.32 L507.38,853.19 L508.4,856.18 L509.41,859.29 L510.42,862.5 L511.43,865.82 L512.44,869.22 L513.46,872.7 L514.47,876.26 L515.48,879.87 L516.49,883.54 L517.5,887.25 L518.52,890.99 L519.53,894.75 L520.54,898.51 L521.55,902.28 L522.56,906.04 L523.58,909.78 L524.59,913.49 L525.6,917.16 L526.61,920.77 L527.63,924.33 L528.64,927.81 L529.65,931.21 L530.66,934.53 L531.67,937.74 L532.69,940.85 L533.7,943.84 L534.71,946.71 L535.72,949.44 L536.73,952.04 L537.75,954.49 L538.76,956.78 L539.77,958.92 L540.78,960.89 L541.79,962.69 L542.81,964.31 L543.82,965.76 L544.83,967.02 L545.84,968.09 L546.86,968.97 L547.87,969.65 L548.88,970.15 L549.89,970.44 L550.9,970.54 L551.92,970.44 L552.93,970.15 L553.94,969.65 L554.95,968.97 L555.96,968.09 L556.98,967.02 L557.99,965.76 L559,964.31 L560.01,962.69 L561.03,960.89 L562.04,958.92 L563.05,956.78 L564.06,954.49 L565.07,952.04 L566.09,949.44 L567.1,946.71 L568.11,943.84 L569.12,940.85 L570.13,937.74 L571.15,934.53 L572.16,931.21 L573.17,927.81 L574.18,924.33 L575.19,920.77 L576.21,917.16 L577.22,913.49 L578.23,909.78 L579.24,906.04 L580.26,902.28 L581.27,898.51 L582.28,894.75 L583.29,890.99 L584.3,887.25 L585.32,883.54 L586.33,879.87 L587.34,876.26 L588.35,872.7 L589.36,869.22 L590.38,865.82 L591.39,862.5 L592.4,859.29 L593.41,856.18 L594.42,853.19 L595.44,850.32 L596.45,847.58 L597.46,844.99 L598.47,842.54 L599.49,840.24 L600.5,838.11 L601.51,836.14 L602.52,834.34 L603.53,832.72 L604.55,831.27 L605.56,830.01 L606.57,828.94 L607.58,828.06 L608.59,827.38 L609.61,826.88 L610.62,826.59 L611.63,826.49 L612.64,826.59 L613.66,826.88 L614.67,827.38 L615.68,828.06 L616.69,828.94 L617.7,830.01 L618.72,831.27 L619.73,832.72 L620.74,834.34 L621.75,836.14 L622.76,838.11 L623.78,840.24 L624.79,842.54 L625.8,844.99 L626.81,847.58 L627.82,850.32 L628.84,853.19 L629.85,856.18 L630.86,859.29 L631.87,862.5 L632.89,865.82 L633.9,869.22 L634.91,872.7 L635.92,876.26 L636.93,879.87 L637.95,883.54 L638.96,887.25 L639.97,890.99 L640.98,894.75 L641.99,898.51 L643.01,902.28 L644.02,906.04 L645.03,909.78 L646.04,913.49 L647.06,917.16 L648.07,920.77 L649.08,924.33 L650.09,927.81 L651.1,931.21 L652.12,934.53 L653.13,937.74 L654.14,940.85 L655.15,943.84 L656.16,946.71 L657.18,949.44 L658.19,952.04 L659.2,954.49 L660.21,956.78 L661.22,958.92 L662.24,960.89 L663.25,962.69 L664.26,964.31 L665.27,965.76 L666.29,967.02 L667.3,968.09 L668.31,968.97 L669.32,969.65 L670.33,970.15 L671.35,970.44 L672.36,970.54" fill="none" stroke="rgba(160,178,210,0.5)" stroke-width="5.0" clip-path="url(#c7)"/>
<path d="M429.45,977.6 L430.46,977.49 L431.47,977.16 L432.49,976.62 L433.5,975.87 L434.51,974.9 L435.52,973.72 L436.53,972.34 L437.55,970.75 L438.56,968.96 L439.57,966.99 L440.58,964.82 L441.6,962.47 L442.61,959.95 L443.62,957.25 L444.63,954.4 L445.64,951.39 L446.66,948.24 L447.67,944.95 L448.68,941.53 L449.69,937.99 L450.7,934.35 L451.72,930.61 L452.73,926.78 L453.74,922.87 L454.75,918.89 L455.77,914.86 L456.78,910.78 L457.79,906.67 L458.8,902.54 L459.81,898.39 L460.83,894.25 L461.84,890.11 L462.85,886 L463.86,881.93 L464.87,877.89 L465.89,873.92 L466.9,870.01 L467.91,866.18 L468.92,862.44 L469.93,858.79 L470.95,855.26 L471.96,851.84 L472.97,848.55 L473.98,845.4 L475,842.39 L476.01,839.53 L477.02,836.84 L478.03,834.32 L479.04,831.97 L480.06,829.8 L481.07,827.82 L482.08,826.04 L483.09,824.45 L484.1,823.07 L485.12,821.89 L486.13,820.92 L487.14,820.16 L488.15,819.62 L489.16,819.3 L490.18,819.19 L491.19,819.3 L492.2,819.62 L493.21,820.16 L494.23,820.92 L495.24,821.89 L496.25,823.07 L497.26,824.45 L498.27,826.04 L499.29,827.82 L500.3,829.8 L501.31,831.97 L502.32,834.32 L503.33,836.84 L504.35,839.53 L505.36,842.39 L506.37,845.4 L507.38,848.55 L508.4,851.84 L509.41,855.26 L510.42,858.79 L511.43,862.44 L512.44,866.18 L513.46,870.01 L514.47,873.92 L515.48,877.89 L516.49,881.93 L517.5,886 L518.52,890.11 L519.53,894.25 L520.54,898.39 L521.55,902.54 L522.56,906.67 L523.58,910.78 L524.59,914.86 L525.6,918.89 L526.61,922.87 L527.63,926.78 L528.64,930.61 L529.65,934.35 L530.66,937.99 L531.67,941.53 L532.69,944.95 L533.7,948.24 L534.71,951.39 L535.72,954.4 L536.73,957.25 L537.75,959.95 L538.76,962.47 L539.77,964.82 L540.78,966.99 L541.79,968.96 L542.81,970.75 L543.82,972.34 L544.83,973.72 L545.84,974.9 L546.86,975.87 L547.87,976.62 L548.88,977.16 L549.89,977.49 L550.9,977.6 L551.92,977.49 L552.93,977.16 L553.94,976.62 L554.95,975.87 L555.96,974.9 L556.98,973.72 L557.99,972.34 L559,970.75 L560.01,968.96 L561.03,966.99 L562.04,964.82 L563.05,962.47 L564.06,959.95 L565.07,957.25 L566.09,954.4 L567.1,951.39 L568.11,948.24 L569.12,944.95 L570.13,941.53 L571.15,937.99 L572.16,934.35 L573.17,930.61 L574.18,926.78 L575.19,922.87 L576.21,918.89 L577.22,914.86 L578.23,910.78 L579.24,906.67 L580.26,902.54 L581.27,898.39 L582.28,894.25 L583.29,890.11 L584.3,886 L585.32,881.93 L586.33,877.89 L587.34,873.92 L588.35,870.01 L589.36,866.18 L590.38,862.44 L591.39,858.79 L592.4,855.26 L593.41,851.84 L594.42,848.55 L595.44,845.4 L596.45,842.39 L597.46,839.53 L598.47,836.84 L599.49,834.32 L600.5,831.97 L601.51,829.8 L602.52,827.82 L603.53,826.04 L604.55,824.45 L605.56,823.07 L606.57,821.89 L607.58,820.92 L608.59,820.16 L609.61,819.62 L610.62,819.3 L611.63,819.19 L612.64,819.3 L613.66,819.62 L614.67,820.16 L615.68,820.92 L616.69,821.89 L617.7,823.07 L618.72,824.45 L619.73,826.04 L620.74,827.82 L621.75,829.8 L622.76,831.97 L623.78,834.32 L624.79,836.84 L625.8,839.53 L626.81,842.39 L627.82,845.4 L628.84,848.55 L629.85,851.84 L630.86,855.26 L631.87,858.79 L632.89,862.44 L633.9,866.18 L634.91,870.01 L635.92,873.92 L636.93,877.89 L637.95,881.93 L638.96,886 L639.97,890.11 L640.98,894.25 L641.99,898.39 L643.01,902.54 L644.02,906.67 L645.03,910.78 L646.04,914.86 L647.06,918.89 L648.07,922.87 L649.08,926.78 L650.09,930.61 L651.1,934.35 L652.12,937.99 L653.13,941.53 L654.14,944.95 L655.15,948.24 L656.16,951.39 L657.18,954.4 L658.19,957.25 L659.2,959.95 L660.21,962.47 L661.22,964.82 L662.24,966.99 L663.25,968.96 L664.26,970.75 L665.27,972.34 L666.29,973.72 L667.3,974.9 L668.31,975.87 L669.32,976.62 L670.33,977.16 L671.35,977.49 L672.36,977.6" fill="none" stroke="#ff0000" stroke-width="2.2" stroke-linecap="butt" stroke-linejoin="round" clip-path="url(#c7)"/>
<path d="M429.45,970.54 L430.46,970.44 L431.47,970.15 L432.49,969.65 L433.5,968.97 L434.51,968.09 L435.52,967.02 L436.53,965.76 L437.55,964.31 L438.56,962.69 L439.57,960.89 L440.58,958.92 L441.6,956.78 L442.61,954.49 L443.62,952.04 L444.63,949.44 L445.64,946.71 L446.66,943.84 L447.67,940.85 L448.68,937.74 L449.69,934.53 L450.7,931.21 L451.72,927.81 L452.73,924.33 L453.74,920.77 L454.75,917.16 L455.77,913.49 L456.78,909.78 L457.79,906.04 L458.8,902.28 L459.81,898.51 L460.83,894.75 L461.84,890.99 L462.85,887.25 L463.86,883.54 L464.87,879.87 L465.89,876.26 L466.9,872.7 L467.91,869.22 L468.92,865.82 L469.93,862.5 L470.95,859.29 L471.96,856.18 L472.97,853.19 L473.98,850.32 L475,847.58 L476.01,844.99 L477.02,842.54 L478.03,840.24 L479.04,838.11 L480.06,836.14 L481.07,834.34 L482.08,832.72 L483.09,831.27 L484.1,830.01 L485.12,828.94 L486.13,828.06 L487.14,827.38 L488.15,826.88 L489.16,826.59 L490.18,826.49 L491.19,826.59 L492.2,826.88 L493.21,827.38 L494.23,828.06 L495.24,828.94 L496.25,830.01 L497.26,831.27 L498.27,832.72 L499.29,834.34 L500.3,836.14 L501.31,838.11 L502.32,840.24 L503.33,842.54 L504.35,844.99 L505.36,847.58 L506.37,850.32 L507.38,853.19 L508.4,856.18 L509.41,859.29 L510.42,862.5 L511.43,865.82 L512.44,869.22 L513.46,872.7 L514.47,876.26 L515.48,879.87 L516.49,883.54 L517.5,887.25 L518.52,890.99 L519.53,894.75 L520.54,898.51 L521.55,902.28 L522.56,906.04 L523.58,909.78 L524.59,913.49 L525.6,917.16 L526.61,920.77 L527.63,924.33 L528.64,927.81 L529.65,931.21 L530.66,934.53 L531.67,937.74 L532.69,940.85 L533.7,943.84 L534.71,946.71 L535.72,949.44 L536.73,952.04 L537.75,954.49 L538.76,956.78 L539.77,958.92 L540.78,960.89 L541.79,962.69 L542.81,964.31 L543.82,965.76 L544.83,967.02 L545.84,968.09 L546.86,968.97 L547.87,969.65 L548.88,970.15 L549.89,970.44 L550.9,970.54 L551.92,970.44 L552.93,970.15 L553.94,969.65 L554.95,968.97 L555.96,968.09 L556.98,967.02 L557.99,965.76 L559,964.31 L560.01,962.69 L561.03,960.89 L562.04,958.92 L563.05,956.78 L564.06,954.49 L565.07,952.04 L566.09,949.44 L567.1,946.71 L568.11,943.84 L569.12,940.85 L570.13,937.74 L571.15,934.53 L572.16,931.21 L573.17,927.81 L574.18,924.33 L575.19,920.77 L576.21,917.16 L577.22,913.49 L578.23,909.78 L579.24,906.04 L580.26,902.28 L581.27,898.51 L582.28,894.75 L583.29,890.99 L584.3,887.25 L585.32,883.54 L586.33,879.87 L587.34,876.26 L588.35,872.7 L589.36,869.22 L590.38,865.82 L591.39,862.5 L592.4,859.29 L593.41,856.18 L594.42,853.19 L595.44,850.32 L596.45,847.58 L597.46,844.99 L598.47,842.54 L599.49,840.24 L600.5,838.11 L601.51,836.14 L602.52,834.34 L603.53,832.72 L604.55,831.27 L605.56,830.01 L606.57,828.94 L607.58,828.06 L608.59,827.38 L609.61,826.88 L610.62,826.59 L611.63,826.49 L612.64,826.59 L613.66,826.88 L614.67,827.38 L615.68,828.06 L616.69,828.94 L617.7,830.01 L618.72,831.27 L619.73,832.72 L620.74,834.34 L621.75,836.14 L622.76,838.11 L623.78,840.24 L624.79,842.54 L625.8,844.99 L626.81,847.58 L627.82,850.32 L628.84,853.19 L629.85,856.18 L630.86,859.29 L631.87,862.5 L632.89,865.82 L633.9,869.22 L634.91,872.7 L635.92,876.26 L636.93,879.87 L637.95,883.54 L638.96,887.25 L639.97,890.99 L640.98,894.75 L641.99,898.51 L643.01,902.28 L644.02,906.04 L645.03,909.78 L646.04,913.49 L647.06,917.16 L648.07,920.77 L649.08,924.33 L650.09,927.81 L651.1,931.21 L652.12,934.53 L653.13,937.74 L654.14,940.85 L655.15,943.84 L656.16,946.71 L657.18,949.44 L658.19,952.04 L659.2,954.49 L660.21,956.78 L661.22,958.92 L662.24,960.89 L663.25,962.69 L664.26,964.31 L665.27,965.76 L666.29,967.02 L667.3,968.09 L668.31,968.97 L669.32,969.65 L670.33,970.15 L671.35,970.44 L672.36,970.54" fill="none" stroke="#0000ff" stroke-width="2.2" stroke-dasharray="7.2,3.1" stroke-linecap="butt" stroke-linejoin="round" clip-path="url(#c7)"/>
<path d="M429.45,970.54 L430.46,970.44 L431.47,970.15 L432.49,969.65 L433.5,968.97 L434.51,968.09 L435.52,967.02 L436.53,965.76 L437.55,964.31 L438.56,962.69 L439.57,960.89 L440.58,958.92 L441.6,956.78 L442.61,954.49 L443.62,952.04 L444.63,949.44 L445.64,946.71 L446.66,943.84 L447.67,940.85 L448.68,937.74 L449.69,934.53 L450.7,931.21 L451.72,927.81 L452.73,924.33 L453.74,920.77 L454.75,917.16 L455.77,913.49 L456.78,909.78 L457.79,906.04 L458.8,902.28 L459.81,898.51 L460.83,894.75 L461.84,890.99 L462.85,887.25 L463.86,883.54 L464.87,879.87 L465.89,876.26 L466.9,872.7 L467.91,869.22 L468.92,865.82 L469.93,862.5 L470.95,859.29 L471.96,856.18 L472.97,853.19 L473.98,850.32 L475,847.58 L476.01,844.99 L477.02,842.54 L478.03,840.24 L479.04,838.11 L480.06,836.14 L481.07,834.34 L482.08,832.72 L483.09,831.27 L484.1,830.01 L485.12,828.94 L486.13,828.06 L487.14,827.38 L488.15,826.88 L489.16,826.59 L490.18,826.49 L491.19,826.59 L492.2,826.88 L493.21,827.38 L494.23,828.06 L495.24,828.94 L496.25,830.01 L497.26,831.27 L498.27,832.72 L499.29,834.34 L500.3,836.14 L501.31,838.11 L502.32,840.24 L503.33,842.54 L504.35,844.99 L505.36,847.58 L506.37,850.32 L507.38,853.19 L508.4,856.18 L509.41,859.29 L510.42,862.5 L511.43,865.82 L512.44,869.22 L513.46,872.7 L514.47,876.26 L515.48,879.87 L516.49,883.54 L517.5,887.25 L518.52,890.99 L519.53,894.75 L520.54,898.51 L521.55,902.28 L522.56,906.04 L523.58,909.78 L524.59,913.49 L525.6,917.16 L526.61,920.77 L527.63,924.33 L528.64,927.81 L529.65,931.21 L530.66,934.53 L531.67,937.74 L532.69,940.85 L533.7,943.84 L534.71,946.71 L535.72,949.44 L536.73,952.04 L537.75,954.49 L538.76,956.78 L539.77,958.92 L540.78,960.89 L541.79,962.69 L542.81,964.31 L543.82,965.76 L544.83,967.02 L545.84,968.09 L546.86,968.97 L547.87,969.65 L548.88,970.15 L549.89,970.44 L550.9,970.54 L551.92,970.44 L552.93,970.15 L553.94,969.65 L554.95,968.97 L555.96,968.09 L556.98,967.02 L557.99,965.76 L559,964.31 L560.01,962.69 L561.03,960.89 L562.04,958.92 L563.05,956.78 L564.06,954.49 L565.07,952.04 L566.09,949.44 L567.1,946.71 L568.11,943.84 L569.12,940.85 L570.13,937.74 L571.15,934.53 L572.16,931.21 L573.17,927.81 L574.18,924.33 L575.19,920.77 L576.21,917.16 L577.22,913.49 L578.23,909.78 L579.24,906.04 L580.26,902.28 L581.27,898.51 L582.28,894.75 L583.29,890.99 L584.3,887.25 L585.32,883.54 L586.33,879.87 L587.34,876.26 L588.35,872.7 L589.36,869.22 L590.38,865.82 L591.39,862.5 L592.4,859.29 L593.41,856.18 L594.42,853.19 L595.44,850.32 L596.45,847.58 L597.46,844.99 L598.47,842.54 L599.49,840.24 L600.5,838.11 L601.51,836.14 L602.52,834.34 L603.53,832.72 L604.55,831.27 L605.56,830.01 L606.57,828.94 L607.58,828.06 L608.59,827.38 L609.61,826.88 L610.62,826.59 L611.63,826.49 L612.64,826.59 L613.66,826.88 L614.67,827.38 L615.68,828.06 L616.69,828.94 L617.7,830.01 L618.72,831.27 L619.73,832.72 L620.74,834.34 L621.75,836.14 L622.76,838.11 L623.78,840.24 L624.79,842.54 L625.8,844.99 L626.81,847.58 L627.82,850.32 L628.84,853.19 L629.85,856.18 L630.86,859.29 L631.87,862.5 L632.89,865.82 L633.9,869.22 L634.91,872.7 L635.92,876.26 L636.93,879.87 L637.95,883.54 L638.96,887.25 L639.97,890.99 L640.98,894.75 L641.99,898.51 L643.01,902.28 L644.02,906.04 L645.03,909.78 L646.04,913.49 L647.06,917.16 L648.07,920.77 L649.08,924.33 L650.09,927.81 L651.1,931.21 L652.12,934.53 L653.13,937.74 L654.14,940.85 L655.15,943.84 L656.16,946.71 L657.18,949.44 L658.19,952.04 L659.2,954.49 L660.21,956.78 L661.22,958.92 L662.24,960.89 L663.25,962.69 L664.26,964.31 L665.27,965.76 L666.29,967.02 L667.3,968.09 L668.31,968.97 L669.32,969.65 L670.33,970.15 L671.35,970.44 L672.36,970.54" fill="none" stroke="#00bfbf" stroke-width="2.2" stroke-dasharray="1.95,3.25" stroke-linecap="butt" stroke-linejoin="round" clip-path="url(#c7)"/>
<path d="M429.45,958.13H453.74M429.45,954.03V962.23M453.74,954.03V962.23M441.6,965.92V950.34M437.5,965.92H445.7M437.5,950.34H445.7" stroke="#000" stroke-width="2.0" fill="none"/><circle cx="441.6" cy="958.13" r="3.3" fill="none" stroke="#000" stroke-width="1.9"/>
<path d="M453.74,888.78H478.03M453.74,884.68V892.88M478.03,884.68V892.88M465.89,894.62V882.94M461.79,894.62H469.99M461.79,882.94H469.99" stroke="#000" stroke-width="2.0" fill="none"/><circle cx="465.89" cy="888.78" r="3.3" fill="none" stroke="#000" stroke-width="1.9"/>
<path d="M478.03,830.87H502.32M478.03,826.77V834.97M502.32,826.77V834.97M490.18,837.44V824.3M486.08,837.44H494.28M486.08,824.3H494.28" stroke="#000" stroke-width="2.0" fill="none"/><circle cx="490.18" cy="830.87" r="3.3" fill="none" stroke="#000" stroke-width="1.9"/>
<path d="M502.32,878.8H526.61M502.32,874.7V882.9M526.61,874.7V882.9M514.47,884.89V872.72M510.37,884.89H518.57M510.37,872.72H518.57" stroke="#000" stroke-width="2.0" fill="none"/><circle cx="514.47" cy="878.8" r="3.3" fill="none" stroke="#000" stroke-width="1.9"/>
<path d="M526.61,951.32H550.9M526.61,947.22V955.42M550.9,947.22V955.42M538.76,956.67V945.96M534.66,956.67H542.86M534.66,945.96H542.86" stroke="#000" stroke-width="2.0" fill="none"/><circle cx="538.76" cy="951.32" r="3.3" fill="none" stroke="#000" stroke-width="1.9"/>
<path d="M550.9,943.29H575.19M550.9,939.19V947.39M575.19,939.19V947.39M563.05,948.64V937.93M558.95,948.64H567.15M558.95,937.93H567.15" stroke="#000" stroke-width="2.0" fill="none"/><circle cx="563.05" cy="943.29" r="3.3" fill="none" stroke="#000" stroke-width="1.9"/>
<path d="M575.19,883.67H599.49M575.19,879.57V887.77M599.49,879.57V887.77M587.34,889.51V877.83M583.24,889.51H591.44M583.24,877.83H591.44" stroke="#000" stroke-width="2.0" fill="none"/><circle cx="587.34" cy="883.67" r="3.3" fill="none" stroke="#000" stroke-width="1.9"/>
<path d="M599.49,826.49H623.78M599.49,822.39V830.59M623.78,822.39V830.59M611.63,832.57V820.41M607.53,832.57H615.73M607.53,820.41H615.73" stroke="#000" stroke-width="2.0" fill="none"/><circle cx="611.63" cy="826.49" r="3.3" fill="none" stroke="#000" stroke-width="1.9"/>
<path d="M623.78,872.23H648.07M623.78,868.13V876.33M648.07,868.13V876.33M635.92,877.83V866.64M631.82,877.83H640.02M631.82,866.64H640.02" stroke="#000" stroke-width="2.0" fill="none"/><circle cx="635.92" cy="872.23" r="3.3" fill="none" stroke="#000" stroke-width="1.9"/>
<rect x="59.5" y="554.6" width="267" height="182.95" fill="none" stroke="#111" stroke-width="1.1"/>
<rect x="417.3" y="554.6" width="267.2" height="182.95" fill="none" stroke="#111" stroke-width="1.1"/>
<rect x="59.5" y="811.5" width="267" height="182.65" fill="none" stroke="#111" stroke-width="1.1"/>
<rect x="417.3" y="811.5" width="267.2" height="182.65" fill="none" stroke="#111" stroke-width="1.1"/>
<line x1="55" y1="737.3" x2="59.5" y2="737.3" stroke="#000" stroke-width="1.05"/>
<text x="50.6" y="744.7" font-size="20.7" text-anchor="end">0</text>
<line x1="55" y1="676.37" x2="59.5" y2="676.37" stroke="#000" stroke-width="1.05"/>
<text x="50.6" y="683.77" font-size="20.7" text-anchor="end">1</text>
<line x1="55" y1="615.44" x2="59.5" y2="615.44" stroke="#000" stroke-width="1.05"/>
<text x="50.6" y="622.84" font-size="20.7" text-anchor="end">2</text>
<line x1="55" y1="554.51" x2="59.5" y2="554.51" stroke="#000" stroke-width="1.05"/>
<text x="50.6" y="561.91" font-size="20.7" text-anchor="end">3</text>
<line x1="71.4" y1="737.3" x2="71.4" y2="741.8" stroke="#000" stroke-width="1.05"/>
<text x="71.8" y="760.6" font-size="20.7" text-anchor="middle">1.0</text>
<line x1="168.65" y1="737.3" x2="168.65" y2="741.8" stroke="#000" stroke-width="1.05"/>
<text x="169.05" y="760.6" font-size="20.7" text-anchor="middle">1.2</text>
<line x1="265.9" y1="737.3" x2="265.9" y2="741.8" stroke="#000" stroke-width="1.05"/>
<text x="266.3" y="760.6" font-size="20.7" text-anchor="middle">1.4</text>
<line x1="412.8" y1="706.83" x2="417.3" y2="706.83" stroke="#000" stroke-width="1.05"/>
<text x="408.2" y="714.23" font-size="20.7" text-anchor="end">0.2</text>
<line x1="412.8" y1="645.9" x2="417.3" y2="645.9" stroke="#000" stroke-width="1.05"/>
<text x="408.2" y="653.3" font-size="20.7" text-anchor="end">0.4</text>
<line x1="412.8" y1="584.96" x2="417.3" y2="584.96" stroke="#000" stroke-width="1.05"/>
<text x="408.2" y="592.36" font-size="20.7" text-anchor="end">0.6</text>
<line x1="55" y1="963.48" x2="59.5" y2="963.48" stroke="#000" stroke-width="1.05"/>
<text x="50.6" y="970.88" font-size="20.7" text-anchor="end">0.4</text>
<line x1="55" y1="902.65" x2="59.5" y2="902.65" stroke="#000" stroke-width="1.05"/>
<text x="50.6" y="910.05" font-size="20.7" text-anchor="end">0.6</text>
<line x1="55" y1="841.81" x2="59.5" y2="841.81" stroke="#000" stroke-width="1.05"/>
<text x="50.6" y="849.21" font-size="20.7" text-anchor="end">0.8</text>
<line x1="412.8" y1="993.9" x2="417.3" y2="993.9" stroke="#000" stroke-width="1.05"/>
<text x="408" y="1001.3" font-size="20.7" text-anchor="end" textLength="34.4" lengthAdjust="spacingAndGlyphs">0.12</text>
<line x1="412.8" y1="945.23" x2="417.3" y2="945.23" stroke="#000" stroke-width="1.05"/>
<text x="408" y="952.63" font-size="20.7" text-anchor="end" textLength="34.4" lengthAdjust="spacingAndGlyphs">0.14</text>
<line x1="412.8" y1="896.57" x2="417.3" y2="896.57" stroke="#000" stroke-width="1.05"/>
<text x="408" y="903.97" font-size="20.7" text-anchor="end" textLength="34.4" lengthAdjust="spacingAndGlyphs">0.16</text>
<line x1="412.8" y1="847.9" x2="417.3" y2="847.9" stroke="#000" stroke-width="1.05"/>
<text x="408" y="855.3" font-size="20.7" text-anchor="end" textLength="34.4" lengthAdjust="spacingAndGlyphs">0.18</text>
<line x1="429.45" y1="737.3" x2="429.45" y2="741.8" stroke="#000" stroke-width="1.05"/>
<line x1="550.9" y1="737.3" x2="550.9" y2="741.8" stroke="#000" stroke-width="1.05"/>
<line x1="672.35" y1="737.3" x2="672.35" y2="741.8" stroke="#000" stroke-width="1.05"/>
<rect x="418.15" y="754.8" width="12.7" height="1" fill="#000"/>
<text x="437.05" y="760.6" font-size="20.7" text-anchor="middle">1</text>
<text x="551.2" y="760.6" font-size="20.7" text-anchor="middle">0</text>
<text x="672.65" y="760.6" font-size="20.7" text-anchor="middle">1</text>
<line x1="71.64" y1="993.9" x2="71.64" y2="998.4" stroke="#000" stroke-width="1.05"/>
<line x1="193" y1="993.9" x2="193" y2="998.4" stroke="#000" stroke-width="1.05"/>
<line x1="314.36" y1="993.9" x2="314.36" y2="998.4" stroke="#000" stroke-width="1.05"/>
<rect x="60.34" y="1011.4" width="12.7" height="1" fill="#000"/>
<text x="79.24" y="1017.2" font-size="20.7" text-anchor="middle">1</text>
<text x="193.3" y="1017.2" font-size="20.7" text-anchor="middle">0</text>
<text x="314.66" y="1017.2" font-size="20.7" text-anchor="middle">1</text>
<line x1="429.45" y1="993.9" x2="429.45" y2="998.4" stroke="#000" stroke-width="1.05"/>
<line x1="490.18" y1="993.9" x2="490.18" y2="998.4" stroke="#000" stroke-width="1.05"/>
<line x1="550.9" y1="993.9" x2="550.9" y2="998.4" stroke="#000" stroke-width="1.05"/>
<line x1="611.63" y1="993.9" x2="611.63" y2="998.4" stroke="#000" stroke-width="1.05"/>
<line x1="672.36" y1="993.9" x2="672.36" y2="998.4" stroke="#000" stroke-width="1.05"/>
<text x="429.85" y="1017.4" font-size="20.7" text-anchor="middle">0</text>
<text x="551.1" y="1017.4" font-size="20.7" text-anchor="middle" font-style="italic">π</text>
<text x="671.86" y="1017.4" font-size="20.7" text-anchor="middle">2<tspan font-style="italic">π</tspan></text>
<text transform="translate(30.5,98) rotate(-90)" x="0" y="0" font-size="21.0" text-anchor="middle" textLength="79.2" lengthAdjust="spacingAndGlyphs"><tspan font-style="italic">d</tspan><tspan>Γ</tspan><tspan font-size="30" dy="4.6">/</tspan><tspan font-style="italic" dy="-4.6">dw</tspan><tspan font-size="30" dy="4.6">/</tspan><tspan dy="-4.6">Γ</tspan></text>
<text transform="translate(373.3,98.15) rotate(-90)" x="0" y="0" font-size="21.0" text-anchor="middle" textLength="125.9" lengthAdjust="spacingAndGlyphs"><tspan font-style="italic">d</tspan><tspan>Γ</tspan><tspan font-size="30" dy="4.6">/</tspan><tspan font-style="italic" dy="-4.6">d</tspan><tspan dx="3.5">cos</tspan><tspan font-size="23.2">(</tspan><tspan font-style="italic">θ</tspan><tspan font-style="italic" font-size="14.7" dy="3.8">ℓ</tspan><tspan font-size="23.2" dy="-3.8">)</tspan><tspan font-size="30" dy="4.6">/</tspan><tspan dy="-4.6">Γ</tspan></text>
<text transform="translate(15.1,354.5) rotate(-90)" x="0" y="0" font-size="21.0" text-anchor="middle" textLength="125.8" lengthAdjust="spacingAndGlyphs"><tspan font-style="italic">d</tspan><tspan>Γ</tspan><tspan font-size="30" dy="4.6">/</tspan><tspan font-style="italic" dy="-4.6">d</tspan><tspan dx="3.5">cos</tspan><tspan font-size="23.2">(</tspan><tspan font-style="italic">θ</tspan><tspan font-style="italic" font-size="14.7" dy="3.8">v</tspan><tspan font-size="23.2" dy="-3.8">)</tspan><tspan font-size="30" dy="4.6">/</tspan><tspan dy="-4.6">Γ</tspan></text>
<text transform="translate(363.8,354.7) rotate(-90)" x="0" y="0" font-size="21.0" text-anchor="middle" textLength="76.2" lengthAdjust="spacingAndGlyphs"><tspan font-style="italic">d</tspan><tspan>Γ</tspan><tspan font-size="30" dy="4.6">/</tspan><tspan font-style="italic" dy="-4.6">dχ</tspan><tspan font-size="30" dy="4.6">/</tspan><tspan dy="-4.6">Γ</tspan></text>
<text x="193" y="235.6" font-size="21.0" text-anchor="middle"><tspan font-style="italic">w</tspan></text>
<text x="550.4" y="236.7" font-size="21.0" text-anchor="middle" textLength="57.3" lengthAdjust="spacingAndGlyphs"><tspan>cos</tspan><tspan font-size="23.2">(</tspan><tspan font-style="italic">θ</tspan><tspan font-style="italic" font-size="14.7" dy="3.8">ℓ</tspan><tspan font-size="23.2" dy="-3.8">)</tspan></text>
<text x="192.6" y="493" font-size="21.0" text-anchor="middle" textLength="59.5" lengthAdjust="spacingAndGlyphs"><tspan>cos</tspan><tspan font-size="23.2">(</tspan><tspan font-style="italic">θ</tspan><tspan font-style="italic" font-size="14.7" dy="3.8">v</tspan><tspan font-size="23.2" dy="-3.8">)</tspan></text>
<text x="551" y="497.7" font-size="21.0" text-anchor="middle"><tspan font-style="italic">χ</tspan></text>
<text x="490.3" y="460.9" font-size="14.6" text-anchor="middle"><tspan font-style="italic">π</tspan></text>
<rect x="485.95" y="463.4" width="8.7" height="1.0" fill="#000"/>
<text x="490.3" y="475.7" font-size="14.6" text-anchor="middle">2</text>
<text x="611.8" y="464.5" font-size="14.6" text-anchor="middle">3<tspan font-style="italic">π</tspan></text>
<rect x="604" y="466.4" width="15.6" height="1.0" fill="#000"/>
<text x="611.8" y="478.8" font-size="14.6" text-anchor="middle">2</text>
<rect x="552.3" y="93" width="124.9" height="88.4" rx="3" ry="3" fill="#fff" fill-opacity="0.8" stroke="#d6d6d6" stroke-width="1.1"/>
<path d="M565.4,104.3H581.7M573.2,96.7V111.9M565.4,100.3V108.3M581.7,100.3V108.3M569.2,96.7H577.2M569.2,111.9H577.2" stroke="#000" stroke-width="1.8" fill="none"/>
<circle cx="573.2" cy="104.3" r="3.3" fill="none" stroke="#000" stroke-width="1.8"/>
<line x1="557.4" y1="125.3" x2="589.7" y2="125.3" stroke="#ff0000" stroke-width="2.2"/>
<line x1="557.4" y1="146.6" x2="589.7" y2="146.6" stroke="#0000ff" stroke-width="2.2" stroke-dasharray="7.2,3.1"/>
<line x1="557.4" y1="167.7" x2="589.7" y2="167.7" stroke="#00bfbf" stroke-width="2.2" stroke-dasharray="1.95,3.25"/>
<text x="600.5" y="109.6" font-size="14.4" textLength="57.1" lengthAdjust="spacingAndGlyphs">exp data</text>
<text x="600.5" y="130.8" font-size="14.4" textLength="36.2" lengthAdjust="spacingAndGlyphs">lat fit</text>
<text x="600.5" y="152" font-size="14.4" textLength="69.7" lengthAdjust="spacingAndGlyphs">lat+exp fit</text>
<text x="600.5" y="172.6" font-size="14.4" textLength="41.6" lengthAdjust="spacingAndGlyphs">exp fit</text>
<text transform="translate(30.5,646) rotate(-90)" x="0" y="0" font-size="21.0" text-anchor="middle" textLength="79.2" lengthAdjust="spacingAndGlyphs"><tspan font-style="italic">d</tspan><tspan>Γ</tspan><tspan font-size="30" dy="4.6">/</tspan><tspan font-style="italic" dy="-4.6">dw</tspan><tspan font-size="30" dy="4.6">/</tspan><tspan dy="-4.6">Γ</tspan></text>
<text transform="translate(373.3,646.15) rotate(-90)" x="0" y="0" font-size="21.0" text-anchor="middle" textLength="125.9" lengthAdjust="spacingAndGlyphs"><tspan font-style="italic">d</tspan><tspan>Γ</tspan><tspan font-size="30" dy="4.6">/</tspan><tspan font-style="italic" dy="-4.6">d</tspan><tspan dx="3.5">cos</tspan><tspan font-size="23.2">(</tspan><tspan font-style="italic">θ</tspan><tspan font-style="italic" font-size="14.7" dy="3.8">ℓ</tspan><tspan font-size="23.2" dy="-3.8">)</tspan><tspan font-size="30" dy="4.6">/</tspan><tspan dy="-4.6">Γ</tspan></text>
<text transform="translate(15.1,902.5) rotate(-90)" x="0" y="0" font-size="21.0" text-anchor="middle" textLength="125.8" lengthAdjust="spacingAndGlyphs"><tspan font-style="italic">d</tspan><tspan>Γ</tspan><tspan font-size="30" dy="4.6">/</tspan><tspan font-style="italic" dy="-4.6">d</tspan><tspan dx="3.5">cos</tspan><tspan font-size="23.2">(</tspan><tspan font-style="italic">θ</tspan><tspan font-style="italic" font-size="14.7" dy="3.8">v</tspan><tspan font-size="23.2" dy="-3.8">)</tspan><tspan font-size="30" dy="4.6">/</tspan><tspan dy="-4.6">Γ</tspan></text>
<text transform="translate(363.8,902.7) rotate(-90)" x="0" y="0" font-size="21.0" text-anchor="middle" textLength="76.2" lengthAdjust="spacingAndGlyphs"><tspan font-style="italic">d</tspan><tspan>Γ</tspan><tspan font-size="30" dy="4.6">/</tspan><tspan font-style="italic" dy="-4.6">dχ</tspan><tspan font-size="30" dy="4.6">/</tspan><tspan dy="-4.6">Γ</tspan></text>
<text x="193" y="783.6" font-size="21.0" text-anchor="middle"><tspan font-style="italic">w</tspan></text>
<text x="550.4" y="784.7" font-size="21.0" text-anchor="middle" textLength="57.3" lengthAdjust="spacingAndGlyphs"><tspan>cos</tspan><tspan font-size="23.2">(</tspan><tspan font-style="italic">θ</tspan><tspan font-style="italic" font-size="14.7" dy="3.8">ℓ</tspan><tspan font-size="23.2" dy="-3.8">)</tspan></text>
<text x="192.6" y="1041" font-size="21.0" text-anchor="middle" textLength="59.5" lengthAdjust="spacingAndGlyphs"><tspan>cos</tspan><tspan font-size="23.2">(</tspan><tspan font-style="italic">θ</tspan><tspan font-style="italic" font-size="14.7" dy="3.8">v</tspan><tspan font-size="23.2" dy="-3.8">)</tspan></text>
<text x="551" y="1045.7" font-size="21.0" text-anchor="middle"><tspan font-style="italic">χ</tspan></text>
<text x="490.3" y="1008.9" font-size="14.6" text-anchor="middle"><tspan font-style="italic">π</tspan></text>
<rect x="485.95" y="1011.4" width="8.7" height="1.0" fill="#000"/>
<text x="490.3" y="1023.7" font-size="14.6" text-anchor="middle">2</text>
<text x="611.8" y="1012.5" font-size="14.6" text-anchor="middle">3<tspan font-style="italic">π</tspan></text>
<rect x="604" y="1014.4" width="15.6" height="1.0" fill="#000"/>
<text x="611.8" y="1026.8" font-size="14.6" text-anchor="middle">2</text>
<rect x="552.3" y="641" width="124.9" height="88.4" rx="3" ry="3" fill="#fff" fill-opacity="0.8" stroke="#d6d6d6" stroke-width="1.1"/>
<path d="M565.4,652.3H581.7M573.2,644.7V659.9M565.4,648.3V656.3M581.7,648.3V656.3M569.2,644.7H577.2M569.2,659.9H577.2" stroke="#000" stroke-width="1.8" fill="none"/>
<circle cx="573.2" cy="652.3" r="3.3" fill="none" stroke="#000" stroke-width="1.8"/>
<line x1="557.4" y1="673.3" x2="589.7" y2="673.3" stroke="#ff0000" stroke-width="2.2"/>
<line x1="557.4" y1="694.6" x2="589.7" y2="694.6" stroke="#0000ff" stroke-width="2.2" stroke-dasharray="7.2,3.1"/>
<line x1="557.4" y1="715.7" x2="589.7" y2="715.7" stroke="#00bfbf" stroke-width="2.2" stroke-dasharray="1.95,3.25"/>
<text x="600.5" y="657.6" font-size="14.4" textLength="57.1" lengthAdjust="spacingAndGlyphs">exp data</text>
<text x="600.5" y="678.8" font-size="14.4" textLength="36.2" lengthAdjust="spacingAndGlyphs">lat fit</text>
<text x="600.5" y="700" font-size="14.4" textLength="69.7" lengthAdjust="spacingAndGlyphs">lat+exp fit</text>
<text x="600.5" y="720.6" font-size="14.4" textLength="41.6" lengthAdjust="spacingAndGlyphs">exp fit</text>
</svg>
</body></html>
